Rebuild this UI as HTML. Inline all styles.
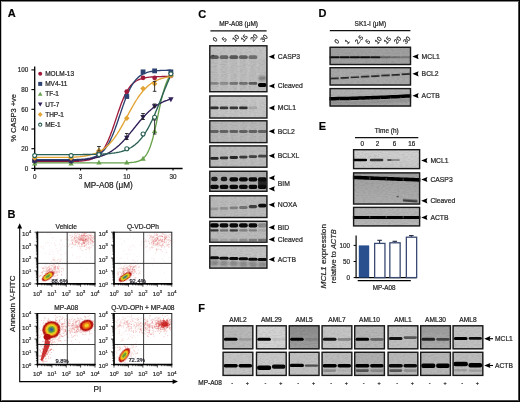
<!DOCTYPE html>
<html><head><meta charset="utf-8"><style>
html,body{margin:0;padding:0;background:#fff;}
body{width:520px;height:402px;position:relative;overflow:hidden;font-family:"Liberation Sans",sans-serif;}
svg{position:absolute;left:0;top:0;}
svg text{font-family:"Liberation Sans",sans-serif;stroke:#2a2a2a;stroke-width:0.22px;}
#main{filter:blur(0.3px);}
#frame{position:absolute;left:0;top:0;width:520px;height:402px;box-sizing:border-box;border:1px solid #000;}
#frame2{position:absolute;left:1px;top:1px;width:518px;height:400px;box-sizing:border-box;border-style:solid;border-width:1px;border-color:#808080 #4a4a4a #4a4a4a #c4c4c4;}
</style></head><body>
<svg id="main" width="520" height="402" viewBox="0 0 520 402">
<defs>
<filter id="b1" filterUnits="userSpaceOnUse" x="-600" y="-600" width="1800" height="1800"><feGaussianBlur stdDeviation="0.7"/></filter>
<filter id="nz" filterUnits="userSpaceOnUse" x="0" y="0" width="520" height="402"><feTurbulence type="fractalNoise" baseFrequency="0.35 0.9" numOctaves="2" seed="4"/><feColorMatrix type="matrix" values="0 0 0 0 0  0 0 0 0 0  0 0 0 0 0  0 0 0 -1.6 1.0"/></filter>
<filter id="b2" filterUnits="userSpaceOnUse" x="-600" y="-600" width="1800" height="1800"><feGaussianBlur stdDeviation="1.2"/></filter>
</defs>
<text x="7.80" y="17.00" font-size="11" text-anchor="start" font-weight="bold" fill="#000" >A</text>
<text x="7.60" y="218.00" font-size="11" text-anchor="start" font-weight="bold" fill="#000" >B</text>
<text x="198.20" y="17.60" font-size="11" text-anchor="start" font-weight="bold" fill="#000" >C</text>
<text x="318.60" y="17.30" font-size="11" text-anchor="start" font-weight="bold" fill="#000" >D</text>
<text x="318.80" y="130.00" font-size="11" text-anchor="start" font-weight="bold" fill="#000" >E</text>
<text x="198.20" y="312.00" font-size="11" text-anchor="start" font-weight="bold" fill="#000" >F</text>
<line x1="34.7" y1="66.5" x2="34.7" y2="171" stroke="#000" stroke-width="1.3"/>
<line x1="34.1" y1="168.4" x2="182.6" y2="168.4" stroke="#000" stroke-width="1.5"/>
<line x1="31.4" y1="168.40" x2="34.7" y2="168.40" stroke="#000" stroke-width="1.1"/>
<text x="28.30" y="170.60" font-size="6.3" text-anchor="end" font-weight="normal" fill="#333" >0</text>
<line x1="31.4" y1="148.70" x2="34.7" y2="148.70" stroke="#000" stroke-width="1.1"/>
<text x="28.30" y="150.90" font-size="6.3" text-anchor="end" font-weight="normal" fill="#333" >20</text>
<line x1="31.4" y1="129.00" x2="34.7" y2="129.00" stroke="#000" stroke-width="1.1"/>
<text x="28.30" y="131.20" font-size="6.3" text-anchor="end" font-weight="normal" fill="#333" >40</text>
<line x1="31.4" y1="109.30" x2="34.7" y2="109.30" stroke="#000" stroke-width="1.1"/>
<text x="28.30" y="111.50" font-size="6.3" text-anchor="end" font-weight="normal" fill="#333" >60</text>
<line x1="31.4" y1="89.60" x2="34.7" y2="89.60" stroke="#000" stroke-width="1.1"/>
<text x="28.30" y="91.80" font-size="6.3" text-anchor="end" font-weight="normal" fill="#333" >80</text>
<line x1="31.4" y1="69.90" x2="34.7" y2="69.90" stroke="#000" stroke-width="1.1"/>
<text x="28.30" y="72.10" font-size="6.3" text-anchor="end" font-weight="normal" fill="#333" >100</text>
<line x1="80.54" y1="168.4" x2="80.54" y2="170.5" stroke="#000" stroke-width="1.1"/>
<text x="80.54" y="178.80" font-size="6.3" text-anchor="middle" font-weight="normal" fill="#333" >3</text>
<line x1="126.78" y1="168.4" x2="126.78" y2="170.5" stroke="#000" stroke-width="1.1"/>
<text x="126.78" y="178.80" font-size="6.3" text-anchor="middle" font-weight="normal" fill="#333" >10</text>
<line x1="173.02" y1="168.4" x2="173.02" y2="170.5" stroke="#000" stroke-width="1.1"/>
<text x="173.02" y="178.80" font-size="6.3" text-anchor="middle" font-weight="normal" fill="#333" >30</text>
<text x="34.70" y="178.80" font-size="6.3" text-anchor="middle" font-weight="normal" fill="#333" >0</text>
<text x="108.40" y="188.40" font-size="8.2" text-anchor="middle" font-weight="normal" fill="#222" >MP-A08 (&#956;M)</text>
<text transform="translate(15.6,117.9) rotate(-90)" font-size="7.5" text-anchor="middle" fill="#222">% CASP3 +ve</text>
<polyline points="34.7,161.5 71.1,161.5 72.1,161.5 73.1,161.4 74.1,161.4 75.1,161.4 76.1,161.3 77.1,161.3 78.1,161.2 79.1,161.2 80.1,161.1 81.1,161.0 82.1,160.9 83.1,160.8 84.1,160.7 85.1,160.6 86.1,160.4 87.1,160.2 88.1,160.0 89.1,159.8 90.1,159.5 91.1,159.2 92.1,158.8 93.1,158.4 94.1,158.0 95.1,157.4 96.1,156.8 97.1,156.1 98.1,155.4 99.1,154.5 100.1,153.5 101.1,152.4 102.1,151.2 103.1,149.8 104.1,148.3 105.1,146.6 106.1,144.7 107.1,142.7 108.1,140.6 109.1,138.2 110.1,135.8 111.1,133.1 112.1,130.4 113.1,127.5 114.1,124.6 115.1,121.6 116.1,118.6 117.1,115.6 118.1,112.6 119.1,109.7 120.1,106.9 121.1,104.1 122.1,101.6 123.1,99.1 124.1,96.8 125.1,94.7 126.1,92.8 127.1,91.0 128.1,89.3 129.1,87.9 130.1,86.5 131.1,85.3 132.1,84.3 133.1,83.3 134.1,82.5 135.1,81.7 136.1,81.0 137.1,80.5 138.1,79.9 139.1,79.5 140.1,79.1 141.1,78.8 142.1,78.5 143.1,78.2 144.1,78.0 145.1,77.8 146.1,77.6 147.1,77.4 148.1,77.3 149.1,77.2 150.1,77.1 151.1,77.0 152.1,76.9 153.1,76.8 154.1,76.8 155.1,76.7 156.1,76.7 157.1,76.7 158.1,76.6 159.1,76.6 160.1,76.6 161.1,76.6 162.1,76.5 163.1,76.5 164.1,76.5 165.1,76.5 166.1,76.5 167.1,76.5 168.1,76.5 169.1,76.5 170.1,76.4 170.9,76.4" fill="none" stroke="#a01a3a" stroke-width="1.35" stroke-linejoin="round"/>
<polyline points="34.7,159.7 71.1,159.7 72.1,159.7 73.1,159.7 74.1,159.6 75.1,159.6 76.1,159.6 77.1,159.5 78.1,159.5 79.1,159.4 80.1,159.4 81.1,159.3 82.1,159.2 83.1,159.2 84.1,159.1 85.1,159.0 86.1,158.8 87.1,158.7 88.1,158.5 89.1,158.4 90.1,158.2 91.1,157.9 92.1,157.7 93.1,157.3 94.1,157.0 95.1,156.6 96.1,156.2 97.1,155.7 98.1,155.1 99.1,154.5 100.1,153.8 101.1,153.0 102.1,152.1 103.1,151.1 104.1,150.0 105.1,148.8 106.1,147.4 107.1,146.0 108.1,144.3 109.1,142.6 110.1,140.6 111.1,138.5 112.1,136.3 113.1,133.9 114.1,131.4 115.1,128.8 116.1,126.0 117.1,123.2 118.1,120.3 119.1,117.3 120.1,114.4 121.1,111.4 122.1,108.5 123.1,105.6 124.1,102.8 125.1,100.1 126.1,97.5 127.1,95.0 128.1,92.7 129.1,90.5 130.1,88.5 131.1,86.6 132.1,84.9 133.1,83.4 134.1,81.9 135.1,80.6 136.1,79.4 137.1,78.4 138.1,77.4 139.1,76.6 140.1,75.8 141.1,75.2 142.1,74.6 143.1,74.0 144.1,73.5 145.1,73.1 146.1,72.8 147.1,72.4 148.1,72.1 149.1,71.9 150.1,71.7 151.1,71.5 152.1,71.3 153.1,71.2 154.1,71.0 155.1,70.9 156.1,70.8 157.1,70.7 158.1,70.6 159.1,70.6 160.1,70.5 161.1,70.4 162.1,70.4 163.1,70.4 164.1,70.3 165.1,70.3 166.1,70.3 167.1,70.2 168.1,70.2 169.1,70.2 170.1,70.2 170.9,70.2" fill="none" stroke="#2c4270" stroke-width="1.35" stroke-linejoin="round"/>
<polyline points="34.7,162.9 71.1,162.9 72.1,162.9 73.1,162.9 74.1,162.9 75.1,162.9 76.1,162.9 77.1,162.9 78.1,162.9 79.1,162.9 80.1,162.9 81.1,162.9 82.1,162.9 83.1,162.9 84.1,162.9 85.1,162.9 86.1,162.9 87.1,162.9 88.1,162.9 89.1,162.9 90.1,162.9 91.1,162.9 92.1,162.9 93.1,162.9 94.1,162.9 95.1,162.9 96.1,162.9 97.1,162.9 98.1,162.9 99.1,162.9 100.1,162.9 101.1,162.9 102.1,162.9 103.1,162.9 104.1,162.9 105.1,162.9 106.1,162.9 107.1,162.9 108.1,162.9 109.1,162.9 110.1,162.9 111.1,162.9 112.1,162.9 113.1,162.9 114.1,162.9 115.1,162.9 116.1,162.9 117.1,162.9 118.1,162.9 119.1,162.8 120.1,162.8 121.1,162.8 122.1,162.8 123.1,162.8 124.1,162.8 125.1,162.8 126.1,162.7 127.1,162.7 128.1,162.7 129.1,162.6 130.1,162.6 131.1,162.5 132.1,162.4 133.1,162.3 134.1,162.2 135.1,162.0 136.1,161.8 137.1,161.5 138.1,161.3 139.1,160.9 140.1,160.5 141.1,159.9 142.1,159.3 143.1,158.5 144.1,157.6 145.1,156.4 146.1,155.1 147.1,153.5 148.1,151.6 149.1,149.5 150.1,146.9 151.1,144.1 152.1,140.8 153.1,137.2 154.1,133.2 155.1,128.9 156.1,124.3 157.1,119.6 158.1,114.8 159.1,110.0 160.1,105.3 161.1,100.9 162.1,96.7 163.1,92.9 164.1,89.4 165.1,86.3 166.1,83.5 167.1,81.1 168.1,79.1 169.1,77.3 170.1,75.8 170.9,74.8" fill="none" stroke="#68a24c" stroke-width="1.35" stroke-linejoin="round"/>
<polyline points="34.7,160.6 71.1,160.6 72.1,160.6 73.1,160.5 74.1,160.5 75.1,160.4 76.1,160.4 77.1,160.3 78.1,160.2 79.1,160.2 80.1,160.1 81.1,160.0 82.1,159.9 83.1,159.8 84.1,159.7 85.1,159.6 86.1,159.5 87.1,159.4 88.1,159.2 89.1,159.1 90.1,158.9 91.1,158.7 92.1,158.5 93.1,158.4 94.1,158.1 95.1,157.9 96.1,157.7 97.1,157.4 98.1,157.1 99.1,156.8 100.1,156.5 101.1,156.2 102.1,155.8 103.1,155.4 104.1,155.0 105.1,154.6 106.1,154.1 107.1,153.6 108.1,153.1 109.1,152.6 110.1,152.0 111.1,151.4 112.1,150.7 113.1,150.0 114.1,149.3 115.1,148.6 116.1,147.8 117.1,146.9 118.1,146.1 119.1,145.2 120.1,144.2 121.1,143.3 122.1,142.3 123.1,141.2 124.1,140.1 125.1,139.0 126.1,137.9 127.1,136.8 128.1,135.6 129.1,134.4 130.1,133.2 131.1,131.9 132.1,130.7 133.1,129.5 134.1,128.2 135.1,127.0 136.1,125.7 137.1,124.5 138.1,123.3 139.1,122.0 140.1,120.8 141.1,119.7 142.1,118.5 143.1,117.4 144.1,116.3 145.1,115.2 146.1,114.2 147.1,113.2 148.1,112.2 149.1,111.3 150.1,110.4 151.1,109.5 152.1,108.7 153.1,107.9 154.1,107.1 155.1,106.4 156.1,105.7 157.1,105.1 158.1,104.5 159.1,103.9 160.1,103.3 161.1,102.8 162.1,102.3 163.1,101.9 164.1,101.4 165.1,101.0 166.1,100.6 167.1,100.3 168.1,99.9 169.1,99.6 170.1,99.3 170.9,99.1" fill="none" stroke="#31205a" stroke-width="1.35" stroke-linejoin="round"/>
<polyline points="34.7,157.3 71.1,157.3 72.1,157.3 73.1,157.2 74.1,157.1 75.1,157.1 76.1,157.0 77.1,156.9 78.1,156.8 79.1,156.8 80.1,156.7 81.1,156.5 82.1,156.4 83.1,156.3 84.1,156.2 85.1,156.0 86.1,155.8 87.1,155.6 88.1,155.4 89.1,155.2 90.1,155.0 91.1,154.7 92.1,154.5 93.1,154.1 94.1,153.8 95.1,153.5 96.1,153.1 97.1,152.6 98.1,152.2 99.1,151.7 100.1,151.2 101.1,150.6 102.1,150.0 103.1,149.3 104.1,148.6 105.1,147.8 106.1,147.0 107.1,146.1 108.1,145.2 109.1,144.2 110.1,143.1 111.1,142.0 112.1,140.8 113.1,139.6 114.1,138.3 115.1,136.9 116.1,135.5 117.1,134.0 118.1,132.4 119.1,130.8 120.1,129.1 121.1,127.4 122.1,125.6 123.1,123.8 124.1,122.0 125.1,120.2 126.1,118.3 127.1,116.5 128.1,114.6 129.1,112.7 130.1,110.9 131.1,109.1 132.1,107.3 133.1,105.5 134.1,103.8 135.1,102.1 136.1,100.5 137.1,99.0 138.1,97.4 139.1,96.0 140.1,94.6 141.1,93.3 142.1,92.0 143.1,90.9 144.1,89.7 145.1,88.7 146.1,87.7 147.1,86.7 148.1,85.9 149.1,85.0 150.1,84.3 151.1,83.5 152.1,82.9 153.1,82.3 154.1,81.7 155.1,81.1 156.1,80.7 157.1,80.2 158.1,79.8 159.1,79.4 160.1,79.0 161.1,78.7 162.1,78.4 163.1,78.1 164.1,77.8 165.1,77.6 166.1,77.4 167.1,77.2 168.1,77.0 169.1,76.8 170.1,76.7 170.9,76.6" fill="none" stroke="#e3a433" stroke-width="1.35" stroke-linejoin="round"/>
<polyline points="34.7,154.6 71.1,154.6 72.1,154.6 73.1,154.6 74.1,154.6 75.1,154.6 76.1,154.6 77.1,154.6 78.1,154.6 79.1,154.6 80.1,154.6 81.1,154.6 82.1,154.6 83.1,154.5 84.1,154.5 85.1,154.5 86.1,154.5 87.1,154.5 88.1,154.5 89.1,154.5 90.1,154.4 91.1,154.4 92.1,154.4 93.1,154.4 94.1,154.4 95.1,154.3 96.1,154.3 97.1,154.3 98.1,154.2 99.1,154.2 100.1,154.2 101.1,154.1 102.1,154.1 103.1,154.0 104.1,154.0 105.1,153.9 106.1,153.8 107.1,153.7 108.1,153.7 109.1,153.6 110.1,153.5 111.1,153.4 112.1,153.2 113.1,153.1 114.1,153.0 115.1,152.8 116.1,152.7 117.1,152.5 118.1,152.3 119.1,152.1 120.1,151.8 121.1,151.6 122.1,151.3 123.1,151.0 124.1,150.7 125.1,150.3 126.1,149.9 127.1,149.5 128.1,149.1 129.1,148.6 130.1,148.0 131.1,147.5 132.1,146.8 133.1,146.2 134.1,145.4 135.1,144.7 136.1,143.8 137.1,142.9 138.1,142.0 139.1,140.9 140.1,139.8 141.1,138.6 142.1,137.4 143.1,136.0 144.1,134.6 145.1,133.1 146.1,131.5 147.1,129.8 148.1,128.1 149.1,126.2 150.1,124.3 151.1,122.2 152.1,120.2 153.1,118.0 154.1,115.7 155.1,113.4 156.1,111.1 157.1,108.7 158.1,106.2 159.1,103.7 160.1,101.2 161.1,98.7 162.1,96.1 163.1,93.6 164.1,91.1 165.1,88.6 166.1,86.2 167.1,83.7 168.1,81.4 169.1,79.1 170.1,76.9 170.9,75.1" fill="none" stroke="#2a6055" stroke-width="1.35" stroke-linejoin="round"/>
<circle cx="34.70" cy="161.50" r="2.4" fill="#a01a3a"/>
<circle cx="71.10" cy="161.50" r="2.4" fill="#a01a3a"/>
<circle cx="98.94" cy="154.61" r="2.4" fill="#a01a3a"/>
<circle cx="126.78" cy="91.57" r="2.4" fill="#a01a3a"/>
<circle cx="143.06" cy="77.78" r="2.4" fill="#a01a3a"/>
<circle cx="154.62" cy="77.78" r="2.4" fill="#a01a3a"/>
<circle cx="170.90" cy="75.81" r="2.4" fill="#a01a3a"/>
<rect x="32.30" y="158.12" width="4.8" height="4.8" fill="#2c4270"/>
<rect x="68.70" y="158.12" width="4.8" height="4.8" fill="#2c4270"/>
<rect x="96.54" y="151.22" width="4.8" height="4.8" fill="#2c4270"/>
<rect x="124.38" y="94.09" width="4.8" height="4.8" fill="#2c4270"/>
<rect x="140.66" y="69.47" width="4.8" height="4.8" fill="#2c4270"/>
<rect x="152.22" y="68.48" width="4.8" height="4.8" fill="#2c4270"/>
<rect x="168.50" y="69.47" width="4.8" height="4.8" fill="#2c4270"/>
<path d="M34.70,160.77 L37.40,165.57 L32.00,165.57Z" fill="#68a24c"/>
<path d="M71.10,160.77 L73.80,165.57 L68.40,165.57Z" fill="#68a24c"/>
<path d="M98.94,159.79 L101.64,164.59 L96.24,164.59Z" fill="#68a24c"/>
<path d="M126.78,159.79 L129.48,164.59 L124.08,164.59Z" fill="#68a24c"/>
<path d="M143.06,155.85 L145.76,160.65 L140.36,160.65Z" fill="#68a24c"/>
<path d="M154.62,128.27 L157.32,133.07 L151.92,133.07Z" fill="#68a24c"/>
<path d="M170.90,72.12 L173.60,76.93 L168.20,76.93Z" fill="#68a24c"/>
<path d="M34.70,164.21 L37.40,159.41 L32.00,159.41Z" fill="#31205a"/>
<path d="M71.10,164.21 L73.80,159.41 L68.40,159.41Z" fill="#31205a"/>
<path d="M98.94,158.30 L101.64,153.50 L96.24,153.50Z" fill="#31205a"/>
<path d="M126.78,140.57 L129.48,135.77 L124.08,135.77Z" fill="#31205a"/>
<path d="M143.06,119.88 L145.76,115.08 L140.36,115.08Z" fill="#31205a"/>
<path d="M154.62,109.05 L157.32,104.24 L151.92,104.24Z" fill="#31205a"/>
<path d="M170.90,102.15 L173.60,97.35 L168.20,97.35Z" fill="#31205a"/>
<path d="M34.70,155.26 L37.50,158.06 L34.70,160.86 L31.90,158.06Z" fill="#e3a433"/>
<path d="M71.10,155.26 L73.90,158.06 L71.10,160.86 L68.30,158.06Z" fill="#e3a433"/>
<path d="M98.94,147.87 L101.74,150.67 L98.94,153.47 L96.14,150.67Z" fill="#e3a433"/>
<path d="M126.78,115.36 L129.58,118.17 L126.78,120.97 L123.98,118.17Z" fill="#e3a433"/>
<path d="M143.06,85.81 L145.86,88.62 L143.06,91.42 L140.26,88.62Z" fill="#e3a433"/>
<path d="M154.62,80.89 L157.42,83.69 L154.62,86.49 L151.82,83.69Z" fill="#e3a433"/>
<path d="M170.90,73.01 L173.70,75.81 L170.90,78.61 L168.10,75.81Z" fill="#e3a433"/>
<circle cx="34.70" cy="155.59" r="2.0" fill="#fff" stroke="#2a6055" stroke-width="1.1"/>
<circle cx="71.10" cy="155.59" r="2.0" fill="#fff" stroke="#2a6055" stroke-width="1.1"/>
<circle cx="98.94" cy="154.61" r="2.0" fill="#fff" stroke="#2a6055" stroke-width="1.1"/>
<circle cx="126.78" cy="148.70" r="2.0" fill="#fff" stroke="#2a6055" stroke-width="1.1"/>
<circle cx="143.06" cy="133.93" r="2.0" fill="#fff" stroke="#2a6055" stroke-width="1.1"/>
<circle cx="154.62" cy="117.18" r="2.0" fill="#fff" stroke="#2a6055" stroke-width="1.1"/>
<circle cx="170.90" cy="73.84" r="2.0" fill="#fff" stroke="#2a6055" stroke-width="1.1"/>
<line x1="98.94" y1="146.5" x2="98.94" y2="151" stroke="#222" stroke-width="0.9"/>
<line x1="97.14" y1="146.5" x2="100.74" y2="146.5" stroke="#222" stroke-width="0.9"/>
<line x1="97.14" y1="151" x2="100.74" y2="151" stroke="#222" stroke-width="0.9"/>
<line x1="154.62" y1="81.4" x2="154.62" y2="91.3" stroke="#222" stroke-width="0.9"/>
<line x1="152.82" y1="81.4" x2="156.42" y2="81.4" stroke="#222" stroke-width="0.9"/>
<line x1="152.82" y1="91.3" x2="156.42" y2="91.3" stroke="#222" stroke-width="0.9"/>
<line x1="154.62" y1="120" x2="154.62" y2="134" stroke="#222" stroke-width="0.9"/>
<line x1="152.82" y1="120" x2="156.42" y2="120" stroke="#222" stroke-width="0.9"/>
<line x1="152.82" y1="134" x2="156.42" y2="134" stroke="#222" stroke-width="0.9"/>
<line x1="143.06" y1="113.5" x2="143.06" y2="119.5" stroke="#222" stroke-width="0.9"/>
<line x1="141.26" y1="113.5" x2="144.86" y2="113.5" stroke="#222" stroke-width="0.9"/>
<line x1="141.26" y1="119.5" x2="144.86" y2="119.5" stroke="#222" stroke-width="0.9"/>
<line x1="126.78" y1="133.5" x2="126.78" y2="139.5" stroke="#222" stroke-width="0.9"/>
<line x1="124.98" y1="133.5" x2="128.58" y2="133.5" stroke="#222" stroke-width="0.9"/>
<line x1="124.98" y1="139.5" x2="128.58" y2="139.5" stroke="#222" stroke-width="0.9"/>
<line x1="154.62" y1="104" x2="154.62" y2="107" stroke="#222" stroke-width="0.9"/>
<line x1="152.82" y1="104" x2="156.42" y2="104" stroke="#222" stroke-width="0.9"/>
<line x1="152.82" y1="107" x2="156.42" y2="107" stroke="#222" stroke-width="0.9"/>
<circle cx="40.20" cy="73.70" r="2.0" fill="#a01a3a"/>
<text x="45.20" y="76.00" font-size="6.5" text-anchor="start" font-weight="normal" fill="#222" >MOLM-13</text>
<rect x="38.20" y="81.90" width="4.0" height="4.0" fill="#2c4270"/>
<text x="45.20" y="86.20" font-size="6.5" text-anchor="start" font-weight="normal" fill="#222" >MV4-11</text>
<path d="M40.20,91.80 L42.50,95.80 L37.90,95.80Z" fill="#68a24c"/>
<text x="45.20" y="96.40" font-size="6.5" text-anchor="start" font-weight="normal" fill="#222" >TF-1</text>
<path d="M40.20,106.60 L42.50,102.60 L37.90,102.60Z" fill="#31205a"/>
<text x="45.20" y="106.60" font-size="6.5" text-anchor="start" font-weight="normal" fill="#222" >UT-7</text>
<path d="M40.20,112.10 L42.60,114.50 L40.20,116.90 L37.80,114.50Z" fill="#e3a433"/>
<text x="45.20" y="116.80" font-size="6.5" text-anchor="start" font-weight="normal" fill="#222" >THP-1</text>
<circle cx="40.20" cy="124.70" r="1.6" fill="#fff" stroke="#2a6055" stroke-width="1.1"/>
<text x="45.20" y="127.00" font-size="6.5" text-anchor="start" font-weight="normal" fill="#222" >ME-1</text>
<clipPath id="cp37232"><rect x="37.5" y="232.2" width="57.5" height="51.60000000000002"/></clipPath>
<g clip-path="url(#cp37232)">
<path d="M84.1 241.2h.1M81.8 236.4h.1M80.5 236.1h.1M84.9 245.6h.1M80.3 237.7h.1M87.5 241.2h.1M84.4 236.0h.1M84.1 242.9h.1M74.5 238.9h.1M70.3 235.8h.1M71.1 240.1h.1M75.3 241.9h.1M85.0 239.1h.1M66.3 239.3h.1M83.7 240.5h.1M73.2 238.9h.1M76.9 237.2h.1M91.1 236.0h.1M84.1 243.7h.1M79.9 239.9h.1M84.8 240.2h.1M75.5 241.1h.1M92.9 232.7h.1M90.0 240.0h.1M80.3 248.8h.1M88.9 234.5h.1M84.7 242.4h.1M82.9 243.0h.1M83.8 242.8h.1M93.8 236.3h.1M85.2 237.9h.1M84.5 235.0h.1M79.9 239.5h.1M90.7 244.2h.1M74.5 237.5h.1M87.8 231.3h.1M80.7 239.9h.1M93.0 242.1h.1M81.6 238.7h.1M82.8 246.5h.1M80.9 239.0h.1M86.4 239.3h.1M82.2 235.5h.1M83.8 238.2h.1M92.4 242.0h.1M84.1 242.8h.1M82.0 244.6h.1M84.2 242.4h.1M75.1 242.2h.1M71.5 232.5h.1M81.5 236.4h.1M86.0 249.3h.1M78.0 237.9h.1M85.6 241.9h.1M82.7 239.2h.1M89.1 241.7h.1M76.8 240.3h.1M83.9 235.6h.1M85.5 236.3h.1M90.8 240.2h.1M84.4 237.5h.1M82.4 231.7h.1M76.2 242.2h.1M69.5 244.8h.1M72.1 244.2h.1M78.4 243.8h.1M84.4 233.5h.1M93.2 245.3h.1M83.4 238.9h.1M82.5 236.0h.1M91.5 237.1h.1M83.4 236.7h.1M79.2 235.0h.1M92.7 238.6h.1M90.7 239.5h.1M79.0 239.1h.1M80.1 240.4h.1M81.3 239.0h.1M74.1 237.5h.1M95.3 236.2h.1M76.8 242.1h.1M93.3 233.1h.1M82.3 237.5h.1M72.0 244.1h.1M83.9 240.3h.1M78.9 242.4h.1M80.2 239.7h.1M75.8 235.6h.1M93.1 237.1h.1M86.0 239.7h.1M80.7 238.1h.1M88.3 238.4h.1M83.0 240.2h.1M92.5 242.1h.1M86.5 237.4h.1M74.7 244.8h.1M90.7 238.8h.1M88.1 242.9h.1M90.1 243.3h.1M81.4 246.6h.1M75.6 244.4h.1M87.8 243.4h.1M97.6 245.1h.1M75.4 233.6h.1M89.3 235.3h.1M84.2 243.5h.1M71.8 232.2h.1M85.8 240.0h.1M82.3 240.3h.1M77.4 234.2h.1M82.5 236.0h.1M72.7 243.1h.1M83.7 241.7h.1M76.9 237.9h.1M76.7 236.9h.1M85.1 236.6h.1M86.6 241.2h.1M97.6 232.9h.1M90.2 239.1h.1M83.4 233.9h.1M81.1 243.4h.1M83.5 240.4h.1M82.4 245.0h.1M83.0 230.8h.1M78.5 232.2h.1M61.1 239.8h.1" stroke="#d23a3a" stroke-opacity="0.26" stroke-width="1.0" stroke-linecap="round" fill="none"/>
<path d="M93.3 239.4h.1M75.5 236.8h.1M91.9 240.0h.1M84.3 239.7h.1M84.6 243.3h.1M87.9 240.6h.1M76.9 242.8h.1M79.6 245.0h.1M75.1 240.2h.1M83.5 234.5h.1M96.5 245.1h.1M81.0 243.5h.1M85.7 228.8h.1M85.7 239.6h.1M84.2 235.4h.1M82.1 239.4h.1M92.4 240.7h.1M84.5 246.4h.1M80.0 238.7h.1M71.9 247.7h.1M91.1 243.2h.1M88.7 240.1h.1M85.4 238.8h.1M82.6 240.4h.1M94.7 241.4h.1M83.4 237.6h.1M80.2 247.1h.1M87.6 240.0h.1M81.2 235.6h.1M83.9 243.7h.1M81.2 239.3h.1M82.5 240.6h.1M72.8 240.0h.1M78.4 244.2h.1M78.8 242.9h.1M94.5 237.8h.1M79.9 241.2h.1M83.6 235.8h.1M88.0 248.2h.1M82.1 239.3h.1M76.8 242.0h.1M74.9 236.1h.1M92.6 235.4h.1M92.1 245.7h.1M86.0 242.2h.1M97.5 238.0h.1M79.4 234.7h.1M84.8 246.2h.1M90.3 235.5h.1M77.9 238.4h.1M86.0 239.0h.1M85.6 241.1h.1M81.9 240.0h.1M85.4 239.5h.1M88.2 247.5h.1M88.1 239.9h.1M72.4 242.7h.1M69.9 235.3h.1M90.2 242.4h.1M82.3 232.9h.1M81.2 237.4h.1M89.3 249.1h.1M85.2 236.6h.1M75.8 240.5h.1M82.3 235.3h.1M84.4 235.1h.1M92.1 243.8h.1M91.4 237.4h.1M87.5 239.1h.1M81.2 238.8h.1M74.4 234.8h.1M89.5 238.7h.1M85.9 244.1h.1M71.6 237.8h.1M85.4 241.5h.1M81.7 244.5h.1M85.0 234.8h.1M77.8 243.9h.1M86.5 231.8h.1M93.6 241.7h.1M93.2 237.6h.1M81.5 235.5h.1M101.6 237.7h.1M94.8 236.3h.1M84.5 232.9h.1M81.7 244.3h.1M75.7 245.2h.1M86.0 235.4h.1M80.3 238.4h.1M83.5 237.8h.1M78.1 239.2h.1M76.4 235.2h.1M84.0 243.7h.1M73.3 240.9h.1M79.1 236.3h.1M89.8 237.3h.1M94.2 235.8h.1M86.6 238.8h.1M79.0 242.9h.1M83.1 242.6h.1M83.3 235.5h.1M83.3 240.3h.1M90.4 235.6h.1M83.1 232.8h.1M88.1 235.1h.1M71.4 240.9h.1M91.2 232.9h.1M76.1 237.6h.1M76.3 242.3h.1M78.1 237.5h.1M87.8 236.5h.1M86.7 235.7h.1M74.9 233.1h.1M96.9 237.5h.1M85.7 239.7h.1M85.1 240.1h.1M96.9 234.5h.1M72.8 236.7h.1M75.0 243.9h.1M89.4 235.5h.1M74.2 239.4h.1M92.7 227.4h.1M87.3 235.2h.1M90.9 234.9h.1M81.5 233.9h.1M77.7 246.4h.1" stroke="#d23a3a" stroke-opacity="0.26" stroke-width="1.0" stroke-linecap="round" fill="none"/>
<path d="M89.6 237.8h.1M77.2 232.6h.1M81.2 240.1h.1M83.4 239.7h.1M76.2 240.4h.1M84.2 245.4h.1M97.0 238.3h.1M78.6 240.2h.1M79.5 237.3h.1M83.2 235.7h.1M88.2 239.2h.1M85.7 239.1h.1M78.6 236.5h.1M82.1 237.8h.1M85.6 239.8h.1M74.5 241.1h.1M74.4 238.2h.1M81.2 231.5h.1M84.7 240.6h.1M82.7 238.3h.1M81.0 236.1h.1M81.9 237.9h.1M84.2 234.9h.1M85.7 240.5h.1M82.9 238.2h.1M87.2 232.7h.1M87.3 240.7h.1M86.1 241.4h.1M79.3 239.3h.1M88.6 241.4h.1M84.9 233.5h.1M88.2 244.6h.1M91.1 240.4h.1M73.5 244.9h.1M82.0 229.5h.1M86.1 233.5h.1M74.7 238.1h.1M92.7 237.7h.1M86.5 247.1h.1M95.1 238.6h.1M81.9 234.9h.1M79.3 242.2h.1M86.8 240.2h.1M90.7 236.2h.1M83.9 243.1h.1M88.5 244.1h.1M86.7 238.5h.1M86.2 235.6h.1M72.8 243.4h.1M83.7 241.3h.1M72.0 239.5h.1M79.5 236.8h.1M68.2 240.0h.1M90.4 241.0h.1M79.8 240.3h.1M88.3 228.0h.1M83.3 242.3h.1M89.4 246.7h.1M92.0 240.6h.1M86.4 243.1h.1M80.2 240.2h.1M91.0 247.6h.1M82.9 239.9h.1M85.9 245.5h.1M84.3 246.2h.1M77.2 239.8h.1M82.9 243.4h.1M90.7 233.0h.1M77.7 242.0h.1M78.8 234.0h.1M91.4 241.4h.1M87.3 237.7h.1M91.1 238.4h.1M91.3 235.5h.1M78.1 241.4h.1M79.3 243.3h.1M85.5 236.0h.1M84.4 238.5h.1M90.2 236.8h.1M81.4 245.3h.1M100.3 247.0h.1M84.5 240.9h.1M94.6 238.5h.1M77.2 241.1h.1M86.8 236.3h.1M72.0 235.0h.1M88.4 236.4h.1M83.1 241.0h.1M88.2 238.2h.1M87.2 236.0h.1M81.1 235.9h.1M91.9 239.2h.1M78.7 239.0h.1M82.7 243.1h.1M72.5 236.6h.1M82.3 250.8h.1M90.6 239.0h.1M89.7 248.2h.1M82.2 238.6h.1M92.6 241.3h.1M88.5 237.5h.1M98.0 246.0h.1M88.2 242.5h.1M70.1 243.9h.1M82.8 241.9h.1M88.6 238.2h.1M72.3 242.6h.1M78.7 239.1h.1M79.7 238.9h.1M68.3 246.5h.1M86.2 244.5h.1M97.8 238.9h.1M71.1 237.4h.1M75.4 238.6h.1M83.8 231.6h.1M85.8 233.5h.1M86.0 239.4h.1M81.8 239.9h.1M80.0 237.8h.1M72.3 240.9h.1M97.6 247.2h.1M93.5 242.1h.1M79.8 246.4h.1M83.6 239.7h.1M82.0 240.6h.1M80.9 239.9h.1" stroke="#d23a3a" stroke-opacity="0.26" stroke-width="1.0" stroke-linecap="round" fill="none"/>
<path d="M76.3 239.1h.1M99.9 238.3h.1" stroke="#d23a3a" stroke-opacity="0.26" stroke-width="1.0" stroke-linecap="round" fill="none"/>
<path d="M53.1 254.3h.1M60.7 241.1h.1M53.3 257.3h.1M57.2 251.0h.1M67.4 244.6h.1M55.7 245.8h.1M66.9 234.4h.1M49.6 245.8h.1M60.3 254.9h.1M66.2 237.4h.1M61.0 247.7h.1M49.7 254.3h.1M47.6 233.4h.1M52.0 238.0h.1M49.8 253.0h.1M57.5 262.7h.1" stroke="#d23a3a" stroke-opacity="0.12" stroke-width="1.0" stroke-linecap="round" fill="none"/>
<path d="M53.4 237.7h.1M49.0 242.6h.1M45.3 253.5h.1M49.8 234.2h.1M60.6 249.1h.1M57.9 250.8h.1M60.1 250.3h.1M64.9 253.4h.1M58.1 253.3h.1M43.3 248.7h.1M52.9 251.7h.1M44.1 263.1h.1M55.8 240.3h.1M41.3 247.7h.1M54.3 244.3h.1M55.7 244.9h.1" stroke="#d23a3a" stroke-opacity="0.12" stroke-width="1.0" stroke-linecap="round" fill="none"/>
<path d="M59.4 244.2h.1M54.7 257.8h.1M75.6 241.9h.1M51.3 243.3h.1M61.3 240.8h.1M51.1 249.8h.1M47.2 242.3h.1M51.2 233.2h.1M43.4 246.7h.1M56.2 248.5h.1M40.8 246.3h.1M61.4 254.4h.1M54.4 242.9h.1M60.0 245.4h.1M45.6 243.6h.1M66.6 251.8h.1" stroke="#d23a3a" stroke-opacity="0.12" stroke-width="1.0" stroke-linecap="round" fill="none"/>
<path d="M64.3 246.2h.1M62.5 245.2h.1" stroke="#d23a3a" stroke-opacity="0.12" stroke-width="1.0" stroke-linecap="round" fill="none"/>
<path d="M78.7 270.9h.1M86.1 253.0h.1M79.3 258.0h.1M89.7 253.1h.1M66.1 254.3h.1M80.1 256.7h.1" stroke="#d23a3a" stroke-opacity="0.1" stroke-width="1.0" stroke-linecap="round" fill="none"/>
<path d="M90.5 257.9h.1M86.5 249.4h.1M86.9 268.6h.1M86.2 257.5h.1M81.2 266.7h.1M72.6 255.3h.1" stroke="#d23a3a" stroke-opacity="0.1" stroke-width="1.0" stroke-linecap="round" fill="none"/>
<path d="M83.7 260.5h.1M76.5 257.8h.1M77.8 256.7h.1M78.9 249.2h.1M79.8 261.3h.1M72.3 254.6h.1" stroke="#d23a3a" stroke-opacity="0.1" stroke-width="1.0" stroke-linecap="round" fill="none"/>
<path d="M85.3 249.6h.1M81.5 249.6h.1" stroke="#d23a3a" stroke-opacity="0.1" stroke-width="1.0" stroke-linecap="round" fill="none"/>
<path d="M61.5 274.4h.1M60.1 263.9h.1M54.8 269.6h.1M54.9 276.0h.1M47.1 279.9h.1M53.9 276.2h.1M50.4 269.4h.1M53.9 273.1h.1M52.3 273.3h.1M43.8 267.9h.1M56.8 270.7h.1M51.9 271.6h.1M54.9 266.9h.1M47.2 274.1h.1M53.5 263.7h.1M55.2 265.8h.1M48.6 279.6h.1M47.7 268.7h.1M51.4 276.0h.1M55.7 266.4h.1M54.5 272.5h.1M48.7 275.4h.1M49.7 270.6h.1M48.8 274.0h.1M49.9 270.3h.1M51.5 276.7h.1M54.0 273.7h.1M58.0 269.2h.1M59.9 261.3h.1M54.1 268.1h.1M63.5 270.0h.1M39.6 276.5h.1M55.9 271.8h.1M54.3 269.1h.1M54.6 272.2h.1M52.9 275.2h.1M41.7 282.1h.1M48.2 278.5h.1M47.9 270.3h.1M50.7 268.0h.1M43.2 270.9h.1M52.0 273.5h.1M55.5 267.8h.1M56.0 268.2h.1M51.8 274.0h.1M55.2 267.1h.1M49.5 272.4h.1M49.4 269.1h.1M55.0 267.1h.1M51.4 268.0h.1M53.6 271.8h.1M53.5 279.3h.1M56.7 275.7h.1M54.1 266.6h.1M50.2 274.6h.1M51.4 271.9h.1M45.6 267.9h.1M45.0 266.5h.1M51.1 268.6h.1M47.1 274.0h.1M49.1 266.9h.1M40.4 275.4h.1M39.2 276.8h.1M56.2 263.1h.1M51.0 265.7h.1M51.7 270.0h.1M52.0 273.8h.1M59.7 266.1h.1M49.4 268.8h.1M53.2 269.1h.1M54.8 268.8h.1M54.8 259.9h.1M51.6 275.6h.1M47.6 271.0h.1M46.7 269.1h.1M57.0 278.5h.1M54.0 264.6h.1M46.0 274.1h.1M53.9 266.0h.1M49.7 277.1h.1M54.3 267.7h.1M42.3 271.7h.1M42.8 268.3h.1M53.1 267.4h.1M57.4 275.5h.1M54.0 264.4h.1" stroke="#d23a3a" stroke-opacity="0.25" stroke-width="1.0" stroke-linecap="round" fill="none"/>
<path d="M57.7 272.1h.1M45.4 272.1h.1M46.9 267.9h.1M52.6 259.7h.1M45.2 275.3h.1M50.3 273.3h.1M51.8 270.4h.1M51.6 261.7h.1M49.4 270.0h.1M52.1 272.1h.1M45.3 273.5h.1M55.5 270.1h.1M52.3 280.3h.1M58.7 259.3h.1M58.0 278.0h.1M55.2 269.7h.1M48.8 271.2h.1M48.8 271.2h.1M53.6 268.1h.1M46.2 270.2h.1M48.8 269.6h.1M52.5 275.6h.1M53.8 272.1h.1M52.8 270.9h.1M49.7 271.6h.1M52.2 266.1h.1M57.4 267.1h.1M46.4 273.4h.1M48.2 275.0h.1M50.1 277.9h.1M42.3 268.4h.1M43.1 269.0h.1M53.2 275.2h.1M51.1 265.8h.1M51.3 279.9h.1M52.5 270.8h.1M61.4 275.1h.1M57.4 267.6h.1M54.0 272.4h.1M45.8 271.3h.1M49.1 269.1h.1M50.9 272.5h.1M60.2 260.9h.1M50.1 272.0h.1M55.4 273.4h.1M46.9 271.5h.1M41.2 275.4h.1M53.6 270.1h.1M45.4 274.7h.1M52.3 273.3h.1M47.6 273.5h.1M39.9 275.5h.1M53.8 259.8h.1M49.9 273.9h.1M47.4 271.1h.1M50.7 272.2h.1M46.5 267.0h.1M48.4 270.1h.1M48.9 274.7h.1M56.0 272.2h.1M50.7 276.5h.1M59.1 270.9h.1M57.2 266.5h.1M52.0 275.0h.1M45.0 277.6h.1M47.7 272.9h.1M40.8 275.9h.1M52.9 274.6h.1M55.5 268.1h.1M48.3 270.3h.1M52.4 269.8h.1M57.7 274.7h.1M47.5 267.9h.1M43.7 271.0h.1M48.2 280.1h.1M48.7 266.9h.1M56.9 273.2h.1M47.8 271.4h.1M50.0 274.1h.1M56.6 273.0h.1M59.4 270.9h.1M58.9 268.8h.1M43.5 277.3h.1M51.6 269.8h.1M54.5 267.6h.1M49.8 279.5h.1" stroke="#d23a3a" stroke-opacity="0.25" stroke-width="1.0" stroke-linecap="round" fill="none"/>
<path d="M54.6 270.2h.1M57.7 271.6h.1M47.2 263.8h.1M46.8 273.2h.1M46.8 276.2h.1M55.6 266.2h.1M50.1 281.9h.1M46.1 270.2h.1M53.1 272.3h.1M49.4 276.8h.1M46.7 271.2h.1M53.6 273.5h.1M48.7 275.3h.1M56.8 280.4h.1M50.7 278.5h.1M50.5 271.8h.1M56.4 271.9h.1M57.7 268.3h.1M47.0 272.7h.1M54.7 271.8h.1M58.5 268.0h.1M59.4 272.4h.1M48.5 267.2h.1M42.2 272.3h.1M56.6 263.7h.1M58.1 269.1h.1M61.3 268.5h.1M50.1 271.8h.1M51.8 272.2h.1M48.4 273.9h.1M54.8 261.2h.1M50.2 268.5h.1M53.7 273.7h.1M52.4 274.4h.1M45.9 281.0h.1M49.5 276.0h.1M46.1 264.0h.1M47.9 275.4h.1M59.0 267.1h.1M49.1 267.0h.1M61.8 271.8h.1M50.6 271.3h.1M45.3 280.5h.1M65.4 264.1h.1M58.2 268.9h.1M49.3 279.4h.1M44.7 276.0h.1M54.3 273.5h.1M53.8 271.6h.1M44.5 271.2h.1M49.7 269.8h.1M42.0 273.2h.1M44.6 268.6h.1M41.0 272.3h.1M52.8 272.5h.1M57.2 260.3h.1M49.8 277.1h.1M49.3 271.9h.1M58.3 264.7h.1M42.6 272.5h.1M53.3 271.6h.1M42.3 274.3h.1M54.8 271.7h.1M49.3 276.1h.1M49.8 264.8h.1M50.4 274.3h.1M43.5 268.0h.1M51.3 275.2h.1M53.6 259.9h.1M60.9 259.1h.1M58.3 272.0h.1M56.0 268.8h.1M46.9 278.1h.1M42.0 267.5h.1M65.9 263.6h.1M57.6 262.7h.1M61.5 271.1h.1M58.3 266.2h.1M44.9 275.9h.1M36.8 275.3h.1M49.2 268.8h.1M50.0 272.3h.1M63.0 268.5h.1M53.5 275.6h.1M46.6 273.9h.1M52.6 265.1h.1" stroke="#d23a3a" stroke-opacity="0.25" stroke-width="1.0" stroke-linecap="round" fill="none"/>
<path d="M46.8 269.3h.1M55.2 276.2h.1" stroke="#d23a3a" stroke-opacity="0.25" stroke-width="1.0" stroke-linecap="round" fill="none"/>
<g transform="translate(47.9,276.3) rotate(-35)" filter="url(#b1)">
<ellipse cx="0" cy="0" rx="7.00" ry="3.30" fill="#b41010"/>
<ellipse cx="0" cy="0" rx="5.18" ry="2.44" fill="#ec6a18"/>
<ellipse cx="0" cy="0" rx="4.62" ry="2.18" fill="#f2d420"/>
<ellipse cx="0" cy="0" rx="2.94" ry="1.39" fill="#5e9e34"/>
</g>
</g>
<line x1="67.2" y1="232.2" x2="67.2" y2="283.8" stroke="#2a2a2a" stroke-width="0.9"/>
<line x1="37.5" y1="263.4" x2="95.0" y2="263.4" stroke="#2a2a2a" stroke-width="0.9"/>
<rect x="37.5" y="232.2" width="57.5" height="51.60000000000002" fill="none" stroke="#222" stroke-width="1"/>
<line x1="37.5" y1="231.7" x2="37.5" y2="284.8" stroke="#000" stroke-width="1.5"/>
<line x1="36.5" y1="283.8" x2="95.5" y2="283.8" stroke="#000" stroke-width="1.5"/>
<line x1="37.50" y1="283.8" x2="37.50" y2="286.8" stroke="#000" stroke-width="0.7"/>
<line x1="34.5" y1="283.80" x2="37.5" y2="283.80" stroke="#000" stroke-width="0.7"/>
<line x1="41.83" y1="283.8" x2="41.83" y2="285.40000000000003" stroke="#000" stroke-width="0.7"/>
<line x1="35.9" y1="279.92" x2="37.5" y2="279.92" stroke="#000" stroke-width="0.7"/>
<line x1="44.36" y1="283.8" x2="44.36" y2="285.40000000000003" stroke="#000" stroke-width="0.7"/>
<line x1="35.9" y1="277.65" x2="37.5" y2="277.65" stroke="#000" stroke-width="0.7"/>
<line x1="46.15" y1="283.8" x2="46.15" y2="285.40000000000003" stroke="#000" stroke-width="0.7"/>
<line x1="35.9" y1="276.03" x2="37.5" y2="276.03" stroke="#000" stroke-width="0.7"/>
<line x1="47.55" y1="283.8" x2="47.55" y2="285.40000000000003" stroke="#000" stroke-width="0.7"/>
<line x1="35.9" y1="274.78" x2="37.5" y2="274.78" stroke="#000" stroke-width="0.7"/>
<line x1="48.69" y1="283.8" x2="48.69" y2="285.40000000000003" stroke="#000" stroke-width="0.7"/>
<line x1="35.9" y1="273.76" x2="37.5" y2="273.76" stroke="#000" stroke-width="0.7"/>
<line x1="49.65" y1="283.8" x2="49.65" y2="285.40000000000003" stroke="#000" stroke-width="0.7"/>
<line x1="35.9" y1="272.90" x2="37.5" y2="272.90" stroke="#000" stroke-width="0.7"/>
<line x1="50.48" y1="283.8" x2="50.48" y2="285.40000000000003" stroke="#000" stroke-width="0.7"/>
<line x1="35.9" y1="272.15" x2="37.5" y2="272.15" stroke="#000" stroke-width="0.7"/>
<line x1="51.22" y1="283.8" x2="51.22" y2="285.40000000000003" stroke="#000" stroke-width="0.7"/>
<line x1="35.9" y1="271.49" x2="37.5" y2="271.49" stroke="#000" stroke-width="0.7"/>
<line x1="51.88" y1="283.8" x2="51.88" y2="286.8" stroke="#000" stroke-width="0.7"/>
<line x1="34.5" y1="270.90" x2="37.5" y2="270.90" stroke="#000" stroke-width="0.7"/>
<line x1="56.20" y1="283.8" x2="56.20" y2="285.40000000000003" stroke="#000" stroke-width="0.7"/>
<line x1="35.9" y1="267.02" x2="37.5" y2="267.02" stroke="#000" stroke-width="0.7"/>
<line x1="58.73" y1="283.8" x2="58.73" y2="285.40000000000003" stroke="#000" stroke-width="0.7"/>
<line x1="35.9" y1="264.75" x2="37.5" y2="264.75" stroke="#000" stroke-width="0.7"/>
<line x1="60.53" y1="283.8" x2="60.53" y2="285.40000000000003" stroke="#000" stroke-width="0.7"/>
<line x1="35.9" y1="263.13" x2="37.5" y2="263.13" stroke="#000" stroke-width="0.7"/>
<line x1="61.92" y1="283.8" x2="61.92" y2="285.40000000000003" stroke="#000" stroke-width="0.7"/>
<line x1="35.9" y1="261.88" x2="37.5" y2="261.88" stroke="#000" stroke-width="0.7"/>
<line x1="63.06" y1="283.8" x2="63.06" y2="285.40000000000003" stroke="#000" stroke-width="0.7"/>
<line x1="35.9" y1="260.86" x2="37.5" y2="260.86" stroke="#000" stroke-width="0.7"/>
<line x1="64.02" y1="283.8" x2="64.02" y2="285.40000000000003" stroke="#000" stroke-width="0.7"/>
<line x1="35.9" y1="260.00" x2="37.5" y2="260.00" stroke="#000" stroke-width="0.7"/>
<line x1="64.86" y1="283.8" x2="64.86" y2="285.40000000000003" stroke="#000" stroke-width="0.7"/>
<line x1="35.9" y1="259.25" x2="37.5" y2="259.25" stroke="#000" stroke-width="0.7"/>
<line x1="65.59" y1="283.8" x2="65.59" y2="285.40000000000003" stroke="#000" stroke-width="0.7"/>
<line x1="35.9" y1="258.59" x2="37.5" y2="258.59" stroke="#000" stroke-width="0.7"/>
<line x1="66.25" y1="283.8" x2="66.25" y2="286.8" stroke="#000" stroke-width="0.7"/>
<line x1="34.5" y1="258.00" x2="37.5" y2="258.00" stroke="#000" stroke-width="0.7"/>
<line x1="70.58" y1="283.8" x2="70.58" y2="285.40000000000003" stroke="#000" stroke-width="0.7"/>
<line x1="35.9" y1="254.12" x2="37.5" y2="254.12" stroke="#000" stroke-width="0.7"/>
<line x1="73.11" y1="283.8" x2="73.11" y2="285.40000000000003" stroke="#000" stroke-width="0.7"/>
<line x1="35.9" y1="251.85" x2="37.5" y2="251.85" stroke="#000" stroke-width="0.7"/>
<line x1="74.90" y1="283.8" x2="74.90" y2="285.40000000000003" stroke="#000" stroke-width="0.7"/>
<line x1="35.9" y1="250.23" x2="37.5" y2="250.23" stroke="#000" stroke-width="0.7"/>
<line x1="76.30" y1="283.8" x2="76.30" y2="285.40000000000003" stroke="#000" stroke-width="0.7"/>
<line x1="35.9" y1="248.98" x2="37.5" y2="248.98" stroke="#000" stroke-width="0.7"/>
<line x1="77.44" y1="283.8" x2="77.44" y2="285.40000000000003" stroke="#000" stroke-width="0.7"/>
<line x1="35.9" y1="247.96" x2="37.5" y2="247.96" stroke="#000" stroke-width="0.7"/>
<line x1="78.40" y1="283.8" x2="78.40" y2="285.40000000000003" stroke="#000" stroke-width="0.7"/>
<line x1="35.9" y1="247.10" x2="37.5" y2="247.10" stroke="#000" stroke-width="0.7"/>
<line x1="79.23" y1="283.8" x2="79.23" y2="285.40000000000003" stroke="#000" stroke-width="0.7"/>
<line x1="35.9" y1="246.35" x2="37.5" y2="246.35" stroke="#000" stroke-width="0.7"/>
<line x1="79.97" y1="283.8" x2="79.97" y2="285.40000000000003" stroke="#000" stroke-width="0.7"/>
<line x1="35.9" y1="245.69" x2="37.5" y2="245.69" stroke="#000" stroke-width="0.7"/>
<line x1="80.62" y1="283.8" x2="80.62" y2="286.8" stroke="#000" stroke-width="0.7"/>
<line x1="34.5" y1="245.10" x2="37.5" y2="245.10" stroke="#000" stroke-width="0.7"/>
<line x1="84.95" y1="283.8" x2="84.95" y2="285.40000000000003" stroke="#000" stroke-width="0.7"/>
<line x1="35.9" y1="241.22" x2="37.5" y2="241.22" stroke="#000" stroke-width="0.7"/>
<line x1="87.48" y1="283.8" x2="87.48" y2="285.40000000000003" stroke="#000" stroke-width="0.7"/>
<line x1="35.9" y1="238.95" x2="37.5" y2="238.95" stroke="#000" stroke-width="0.7"/>
<line x1="89.28" y1="283.8" x2="89.28" y2="285.40000000000003" stroke="#000" stroke-width="0.7"/>
<line x1="35.9" y1="237.33" x2="37.5" y2="237.33" stroke="#000" stroke-width="0.7"/>
<line x1="90.67" y1="283.8" x2="90.67" y2="285.40000000000003" stroke="#000" stroke-width="0.7"/>
<line x1="35.9" y1="236.08" x2="37.5" y2="236.08" stroke="#000" stroke-width="0.7"/>
<line x1="91.81" y1="283.8" x2="91.81" y2="285.40000000000003" stroke="#000" stroke-width="0.7"/>
<line x1="35.9" y1="235.06" x2="37.5" y2="235.06" stroke="#000" stroke-width="0.7"/>
<line x1="92.77" y1="283.8" x2="92.77" y2="285.40000000000003" stroke="#000" stroke-width="0.7"/>
<line x1="35.9" y1="234.20" x2="37.5" y2="234.20" stroke="#000" stroke-width="0.7"/>
<line x1="93.61" y1="283.8" x2="93.61" y2="285.40000000000003" stroke="#000" stroke-width="0.7"/>
<line x1="35.9" y1="233.45" x2="37.5" y2="233.45" stroke="#000" stroke-width="0.7"/>
<line x1="94.34" y1="283.8" x2="94.34" y2="285.40000000000003" stroke="#000" stroke-width="0.7"/>
<line x1="35.9" y1="232.79" x2="37.5" y2="232.79" stroke="#000" stroke-width="0.7"/>
<line x1="95.00" y1="283.8" x2="95.00" y2="286.8" stroke="#000" stroke-width="0.7"/>
<line x1="34.5" y1="232.20" x2="37.5" y2="232.20" stroke="#000" stroke-width="0.7"/>
<text x="37.50" y="295.60" font-size="6.2" text-anchor="middle" fill="#333">10<tspan font-size="4" dy="-2.6">0</tspan></text>
<text x="26.60" y="287.30" font-size="6.2" text-anchor="middle" fill="#333">10<tspan font-size="4" dy="-2.6">0</tspan></text>
<text x="51.88" y="295.60" font-size="6.2" text-anchor="middle" fill="#333">10<tspan font-size="4" dy="-2.6">1</tspan></text>
<text x="26.60" y="274.40" font-size="6.2" text-anchor="middle" fill="#333">10<tspan font-size="4" dy="-2.6">1</tspan></text>
<text x="66.25" y="295.60" font-size="6.2" text-anchor="middle" fill="#333">10<tspan font-size="4" dy="-2.6">2</tspan></text>
<text x="26.60" y="261.50" font-size="6.2" text-anchor="middle" fill="#333">10<tspan font-size="4" dy="-2.6">2</tspan></text>
<text x="80.62" y="295.60" font-size="6.2" text-anchor="middle" fill="#333">10<tspan font-size="4" dy="-2.6">3</tspan></text>
<text x="26.60" y="248.60" font-size="6.2" text-anchor="middle" fill="#333">10<tspan font-size="4" dy="-2.6">3</tspan></text>
<text x="95.00" y="295.60" font-size="6.2" text-anchor="middle" fill="#333">10<tspan font-size="4" dy="-2.6">4</tspan></text>
<text x="26.60" y="235.70" font-size="6.2" text-anchor="middle" fill="#333">10<tspan font-size="4" dy="-2.6">4</tspan></text>
<text x="66.25" y="228.60" font-size="6.6" text-anchor="middle" font-weight="normal" fill="#222" >Vehicle</text>
<text x="51.40" y="282.60" font-size="5.8" text-anchor="start" font-weight="normal" fill="#141830" stroke-width="0.45" stroke="#141830">88.6%</text>
<clipPath id="cp114232"><rect x="114.0" y="232.2" width="57.80000000000001" height="51.60000000000002"/></clipPath>
<g clip-path="url(#cp114232)">
<path d="M154.8 241.9h.1M153.3 236.2h.1M151.9 247.3h.1M176.7 241.1h.1M155.3 243.9h.1M158.0 244.1h.1M162.1 241.5h.1M164.0 237.7h.1M156.6 233.5h.1M156.4 234.8h.1M158.6 236.6h.1M160.9 242.3h.1M149.8 238.0h.1M153.7 244.2h.1M172.2 243.0h.1M158.1 246.8h.1M150.0 247.7h.1M154.4 229.3h.1M179.1 245.5h.1M152.9 241.8h.1M158.5 241.1h.1M149.4 238.6h.1M163.3 241.1h.1M168.4 240.1h.1M176.1 236.1h.1M161.1 232.3h.1M151.7 246.8h.1M153.6 243.3h.1M159.2 236.2h.1M157.4 238.6h.1M156.9 244.0h.1M164.3 237.7h.1M153.8 242.2h.1M159.7 244.9h.1M178.8 242.4h.1M159.7 239.8h.1M153.7 237.2h.1M152.9 239.5h.1M157.3 243.9h.1M157.1 239.9h.1M152.1 248.1h.1M164.2 247.7h.1M166.1 246.2h.1M158.5 243.7h.1M178.4 233.7h.1M168.8 246.9h.1M163.2 243.4h.1M168.7 236.9h.1M162.6 236.5h.1M154.9 238.3h.1M159.0 241.2h.1M162.7 234.1h.1M174.6 244.2h.1M165.1 238.5h.1M159.6 242.9h.1M162.3 233.0h.1M166.4 252.5h.1M147.2 245.9h.1M162.6 239.8h.1M169.4 234.6h.1M161.7 246.7h.1M158.4 238.8h.1M160.7 238.5h.1M170.7 235.6h.1M165.8 234.6h.1M164.8 239.6h.1M141.5 242.1h.1M152.2 239.3h.1M170.6 234.7h.1M152.9 247.4h.1M161.4 247.1h.1M162.0 236.5h.1M160.0 245.8h.1M166.7 239.9h.1M160.3 240.0h.1M156.6 249.2h.1M159.6 235.6h.1M156.9 243.9h.1M164.5 239.5h.1M155.2 241.0h.1M147.5 235.9h.1M165.5 237.9h.1M163.1 245.5h.1M164.7 240.2h.1M175.5 242.0h.1M157.7 243.9h.1M162.6 236.6h.1M160.5 239.7h.1M145.8 241.0h.1M157.8 238.8h.1M148.1 240.0h.1M159.8 241.0h.1M152.1 243.9h.1M151.2 240.3h.1M169.1 236.7h.1M156.7 245.4h.1M157.1 239.5h.1M162.0 244.9h.1M143.9 238.3h.1M152.4 236.5h.1" stroke="#d23a3a" stroke-opacity="0.24" stroke-width="1.0" stroke-linecap="round" fill="none"/>
<path d="M153.6 237.4h.1M161.8 236.5h.1M161.0 242.1h.1M154.8 241.5h.1M171.8 240.9h.1M155.4 240.6h.1M153.6 242.2h.1M165.8 236.5h.1M158.9 245.4h.1M156.5 241.6h.1M152.4 237.6h.1M157.1 249.9h.1M157.0 238.5h.1M156.0 240.2h.1M164.6 240.9h.1M174.4 240.1h.1M170.2 240.8h.1M163.7 234.1h.1M159.1 240.3h.1M157.5 231.6h.1M166.0 238.3h.1M156.9 239.7h.1M158.6 242.3h.1M150.8 237.4h.1M162.1 240.9h.1M157.2 238.3h.1M154.2 240.8h.1M167.8 235.4h.1M170.9 243.1h.1M157.1 244.1h.1M149.1 234.1h.1M150.9 239.6h.1M157.5 238.5h.1M159.9 231.5h.1M162.9 234.3h.1M155.2 239.2h.1M151.4 235.5h.1M153.0 241.1h.1M164.3 242.5h.1M152.8 237.8h.1M153.7 242.9h.1M146.2 246.9h.1M156.3 237.5h.1M162.7 244.6h.1M162.8 244.7h.1M161.4 245.6h.1M168.6 239.3h.1M170.1 240.3h.1M160.3 236.6h.1M158.3 243.9h.1M151.1 244.0h.1M162.5 241.4h.1M144.6 241.4h.1M164.2 236.9h.1M159.8 230.5h.1M164.4 237.3h.1M165.4 232.3h.1M164.7 239.1h.1M165.3 236.1h.1M156.5 250.3h.1M154.0 238.1h.1M157.7 236.4h.1M168.9 247.0h.1M154.5 233.7h.1M168.6 244.4h.1M166.2 244.8h.1M153.9 240.3h.1M149.8 235.4h.1M166.6 237.1h.1M175.9 239.4h.1M155.8 244.2h.1M172.7 241.4h.1M151.6 242.8h.1M169.4 237.6h.1M155.0 245.2h.1M160.6 235.8h.1M157.1 237.6h.1M162.1 240.8h.1M168.3 242.8h.1M149.2 243.2h.1M166.4 241.9h.1M167.0 237.6h.1M153.7 245.0h.1M151.8 232.1h.1M166.9 236.8h.1M157.4 234.8h.1M150.3 236.5h.1M157.6 242.3h.1M144.3 245.0h.1M151.4 236.8h.1M164.7 239.8h.1M150.0 249.2h.1M154.1 242.1h.1M161.9 246.3h.1M157.2 245.0h.1M155.2 245.6h.1M154.5 239.5h.1M173.3 240.7h.1M161.6 249.8h.1M162.2 236.9h.1" stroke="#d23a3a" stroke-opacity="0.24" stroke-width="1.0" stroke-linecap="round" fill="none"/>
<path d="M164.7 235.1h.1M168.3 244.9h.1M155.8 238.2h.1M161.2 240.5h.1M153.4 243.5h.1M145.6 239.9h.1M157.1 239.6h.1M161.7 235.2h.1M164.0 239.4h.1M155.0 235.2h.1M151.9 242.7h.1M153.3 241.4h.1M167.8 244.2h.1M170.8 238.3h.1M152.8 245.4h.1M162.6 245.0h.1M160.5 245.5h.1M166.2 243.0h.1M163.7 241.9h.1M161.7 241.3h.1M166.7 237.8h.1M172.1 239.0h.1M166.8 239.5h.1M159.0 249.2h.1M157.4 235.3h.1M154.9 239.6h.1M175.1 240.1h.1M166.2 235.7h.1M162.7 243.1h.1M172.3 236.5h.1M164.3 241.4h.1M152.9 241.0h.1M157.3 230.9h.1M164.4 242.4h.1M156.4 235.2h.1M170.4 240.7h.1M167.6 245.8h.1M156.7 244.2h.1M158.3 240.4h.1M159.4 240.5h.1M167.8 240.3h.1M158.8 239.4h.1M162.1 236.5h.1M156.5 240.6h.1M156.0 240.3h.1M156.5 249.3h.1M169.4 241.6h.1M160.4 249.7h.1M162.2 239.9h.1M162.2 241.6h.1M169.8 239.6h.1M174.3 235.5h.1M164.5 235.9h.1M172.6 238.0h.1M159.9 244.4h.1M168.3 235.1h.1M157.1 234.9h.1M160.9 240.0h.1M157.3 237.8h.1M157.0 237.6h.1M164.2 246.5h.1M146.5 241.2h.1M157.3 242.8h.1M153.3 240.5h.1M153.0 244.0h.1M160.6 239.8h.1M162.5 239.2h.1M149.4 243.9h.1M162.0 239.7h.1M167.3 245.0h.1M152.1 237.9h.1M171.3 245.5h.1M154.4 236.0h.1M155.4 238.8h.1M149.0 241.6h.1M150.6 236.2h.1M166.1 237.1h.1M159.7 243.2h.1M165.5 238.6h.1M160.0 237.0h.1M172.4 242.2h.1M152.3 241.2h.1M165.2 242.1h.1M173.3 245.1h.1M156.2 240.5h.1M151.2 242.3h.1M162.0 251.7h.1M159.9 231.7h.1M155.4 241.4h.1M150.9 237.6h.1M157.6 242.2h.1M158.5 236.9h.1M165.3 237.8h.1M156.0 235.0h.1M154.8 243.7h.1M148.7 241.2h.1M164.9 238.5h.1M161.3 235.7h.1M169.5 244.3h.1M161.0 233.0h.1" stroke="#d23a3a" stroke-opacity="0.24" stroke-width="1.0" stroke-linecap="round" fill="none"/>
<path d="M121.6 257.8h.1M143.7 252.4h.1M140.0 245.1h.1M128.5 250.0h.1M133.4 237.8h.1M137.5 260.6h.1M120.8 239.2h.1M132.8 244.8h.1M111.0 256.5h.1M131.2 246.2h.1M146.9 251.1h.1M124.0 250.8h.1M121.7 243.9h.1" stroke="#d23a3a" stroke-opacity="0.1" stroke-width="1.0" stroke-linecap="round" fill="none"/>
<path d="M133.1 245.6h.1M126.4 263.4h.1M136.9 256.4h.1M134.2 253.9h.1M141.7 249.8h.1M144.8 242.4h.1M128.0 239.0h.1M127.2 254.1h.1M141.6 244.7h.1M130.0 247.1h.1M124.1 240.5h.1M130.5 236.1h.1M130.9 250.2h.1" stroke="#d23a3a" stroke-opacity="0.1" stroke-width="1.0" stroke-linecap="round" fill="none"/>
<path d="M124.7 241.9h.1M118.9 265.0h.1M119.3 262.5h.1M134.8 247.1h.1M120.7 258.3h.1M143.8 242.5h.1M127.6 258.4h.1M132.7 266.0h.1M125.4 254.3h.1M120.0 266.8h.1M124.2 232.3h.1M129.0 248.9h.1M145.3 247.3h.1" stroke="#d23a3a" stroke-opacity="0.1" stroke-width="1.0" stroke-linecap="round" fill="none"/>
<path d="M129.9 254.7h.1" stroke="#d23a3a" stroke-opacity="0.1" stroke-width="1.0" stroke-linecap="round" fill="none"/>
<path d="M168.7 257.6h.1M164.3 261.1h.1M153.6 258.5h.1M156.2 252.5h.1M165.7 249.7h.1M165.4 263.7h.1" stroke="#d23a3a" stroke-opacity="0.1" stroke-width="1.0" stroke-linecap="round" fill="none"/>
<path d="M155.3 253.4h.1M154.2 260.8h.1M161.9 259.7h.1M163.9 254.7h.1M157.9 248.6h.1M162.1 258.9h.1" stroke="#d23a3a" stroke-opacity="0.1" stroke-width="1.0" stroke-linecap="round" fill="none"/>
<path d="M152.7 265.0h.1M161.5 241.1h.1M156.3 249.3h.1M164.5 272.9h.1M151.9 258.4h.1M154.0 260.1h.1" stroke="#d23a3a" stroke-opacity="0.1" stroke-width="1.0" stroke-linecap="round" fill="none"/>
<path d="M161.2 265.7h.1M148.1 267.4h.1" stroke="#d23a3a" stroke-opacity="0.1" stroke-width="1.0" stroke-linecap="round" fill="none"/>
<path d="M124.0 276.0h.1M135.2 270.1h.1M121.9 273.2h.1M125.6 273.4h.1M131.0 264.2h.1M131.6 272.2h.1M131.7 271.5h.1M136.5 268.2h.1M133.4 270.7h.1M132.9 260.2h.1M133.8 266.8h.1M124.6 270.1h.1M118.0 277.3h.1M125.6 275.8h.1M123.7 281.3h.1M128.8 270.3h.1M122.9 272.1h.1M121.3 274.3h.1M127.7 271.5h.1M120.5 276.1h.1M123.9 275.5h.1M138.5 267.4h.1M123.1 268.3h.1M117.6 271.9h.1M130.0 267.2h.1M127.0 270.0h.1M131.3 275.8h.1M123.9 273.4h.1M125.8 277.4h.1M120.6 272.2h.1M118.3 272.6h.1M135.6 278.0h.1M125.1 278.2h.1M127.0 267.9h.1M126.2 272.3h.1M128.6 280.1h.1M119.4 279.7h.1M128.4 269.1h.1M130.5 274.1h.1M129.6 272.7h.1M127.2 263.6h.1M140.0 273.6h.1M134.9 271.6h.1M120.8 276.5h.1M122.8 273.1h.1M131.1 266.3h.1M123.4 266.8h.1M127.4 272.8h.1M123.0 272.3h.1M134.8 261.9h.1M121.2 273.2h.1M138.2 274.1h.1M128.2 268.7h.1M128.1 276.6h.1M126.5 279.4h.1M135.1 267.3h.1M132.7 272.0h.1M133.5 263.6h.1M133.0 266.8h.1M124.4 274.9h.1M124.9 269.8h.1M118.2 274.7h.1M139.2 272.8h.1M133.6 273.3h.1M125.3 273.6h.1M127.2 267.8h.1M123.3 275.7h.1M124.2 270.0h.1M129.4 269.9h.1M133.0 268.5h.1M126.8 273.4h.1M125.8 270.6h.1M127.6 275.6h.1M133.8 273.6h.1M118.9 276.7h.1M126.3 273.9h.1M124.7 272.0h.1M132.2 269.8h.1M125.0 279.9h.1M131.7 266.9h.1" stroke="#d23a3a" stroke-opacity="0.25" stroke-width="1.0" stroke-linecap="round" fill="none"/>
<path d="M130.6 267.0h.1M133.1 267.5h.1M123.3 273.7h.1M124.6 275.2h.1M128.9 271.5h.1M117.7 263.1h.1M124.5 266.1h.1M131.5 274.5h.1M128.5 269.9h.1M126.8 272.2h.1M124.1 272.2h.1M125.9 278.7h.1M129.9 274.9h.1M126.9 273.1h.1M128.1 274.0h.1M132.6 269.9h.1M123.1 272.0h.1M135.6 265.5h.1M129.6 277.3h.1M134.4 269.8h.1M130.9 280.3h.1M131.1 272.3h.1M124.2 268.4h.1M122.3 277.8h.1M129.4 269.9h.1M119.3 271.8h.1M123.4 268.8h.1M134.8 272.3h.1M143.7 264.9h.1M123.3 271.5h.1M109.8 282.1h.1M129.1 275.5h.1M132.2 271.6h.1M130.4 273.2h.1M132.9 263.9h.1M122.9 269.5h.1M138.6 270.3h.1M129.2 265.9h.1M128.4 270.7h.1M128.0 271.2h.1M129.7 269.0h.1M132.7 269.8h.1M126.3 272.7h.1M127.5 275.9h.1M127.3 273.8h.1M123.0 269.0h.1M130.3 265.8h.1M132.2 270.9h.1M117.9 274.9h.1M123.8 271.3h.1M123.7 278.3h.1M127.6 274.0h.1M126.5 274.4h.1M124.3 274.5h.1M131.0 270.1h.1M123.5 270.4h.1M129.5 272.4h.1M125.1 270.6h.1M135.8 277.5h.1M127.2 274.0h.1M124.6 263.1h.1M127.1 269.5h.1M134.3 266.5h.1M123.7 274.0h.1M127.7 269.8h.1M124.9 268.2h.1M128.5 275.1h.1M139.1 267.3h.1M131.8 274.6h.1M136.4 273.4h.1M133.1 267.9h.1M129.6 271.6h.1M129.9 271.6h.1M119.8 268.5h.1M120.5 268.3h.1M128.3 271.8h.1M121.2 279.8h.1M132.5 269.3h.1M140.1 271.8h.1M124.2 279.2h.1" stroke="#d23a3a" stroke-opacity="0.25" stroke-width="1.0" stroke-linecap="round" fill="none"/>
<path d="M131.0 271.7h.1M131.1 266.7h.1M123.4 271.6h.1M124.1 274.3h.1M118.7 273.9h.1M130.7 269.8h.1M126.0 265.1h.1M123.0 273.1h.1M126.9 270.2h.1M132.5 268.6h.1M128.1 272.0h.1M130.5 268.2h.1M134.5 269.5h.1M128.8 271.6h.1M132.7 273.2h.1M133.4 269.9h.1M132.6 269.3h.1M134.1 267.6h.1M120.6 283.1h.1M126.1 268.2h.1M125.2 270.1h.1M139.4 266.2h.1M121.4 279.0h.1M130.0 279.0h.1M118.2 269.0h.1M127.6 270.7h.1M121.5 267.1h.1M133.6 275.5h.1M121.0 282.0h.1M130.1 280.9h.1M129.8 269.9h.1M134.5 269.7h.1M126.6 276.1h.1M121.8 268.5h.1M137.3 264.0h.1M125.7 275.1h.1M117.5 273.4h.1M124.5 272.2h.1M130.7 275.1h.1M126.7 275.1h.1M128.7 266.7h.1M127.2 268.4h.1M134.2 269.7h.1M125.3 268.0h.1M127.0 269.3h.1M131.2 269.2h.1M125.9 277.5h.1M130.3 267.8h.1M133.1 267.1h.1M126.7 273.4h.1M123.4 273.3h.1M130.4 277.1h.1M134.8 266.1h.1M135.8 266.3h.1M131.7 273.3h.1M134.4 278.1h.1M126.7 267.6h.1M133.6 266.3h.1M120.3 264.2h.1M134.6 271.0h.1M133.9 272.1h.1M136.2 266.0h.1M131.1 266.6h.1M128.4 276.3h.1M127.2 266.7h.1M129.4 270.2h.1M124.9 276.1h.1M122.8 268.8h.1M126.2 281.0h.1M121.0 277.9h.1M132.3 271.8h.1M121.3 275.3h.1M130.3 273.9h.1M122.4 270.8h.1M135.2 271.8h.1M128.6 268.9h.1M130.2 270.9h.1M129.5 265.4h.1M128.2 271.1h.1M123.0 276.5h.1" stroke="#d23a3a" stroke-opacity="0.25" stroke-width="1.0" stroke-linecap="round" fill="none"/>
<g transform="translate(125.2,277.0) rotate(-33)" filter="url(#b1)">
<ellipse cx="0" cy="0" rx="7.40" ry="3.30" fill="#b41010"/>
<ellipse cx="0" cy="0" rx="5.48" ry="2.44" fill="#ec6a18"/>
<ellipse cx="0" cy="0" rx="4.88" ry="2.18" fill="#f2d420"/>
<ellipse cx="0" cy="0" rx="3.26" ry="1.45" fill="#5e9e34"/>
<ellipse cx="0" cy="0" rx="1.48" ry="0.66" fill="#2e56a6"/>
</g>
</g>
<line x1="143.7" y1="232.2" x2="143.7" y2="283.8" stroke="#2a2a2a" stroke-width="0.9"/>
<line x1="114.0" y1="263.4" x2="171.8" y2="263.4" stroke="#2a2a2a" stroke-width="0.9"/>
<rect x="114.0" y="232.2" width="57.80000000000001" height="51.60000000000002" fill="none" stroke="#222" stroke-width="1"/>
<line x1="114.0" y1="231.7" x2="114.0" y2="284.8" stroke="#000" stroke-width="1.5"/>
<line x1="113.0" y1="283.8" x2="172.3" y2="283.8" stroke="#000" stroke-width="1.5"/>
<line x1="114.00" y1="283.8" x2="114.00" y2="286.8" stroke="#000" stroke-width="0.7"/>
<line x1="111.0" y1="283.80" x2="114.0" y2="283.80" stroke="#000" stroke-width="0.7"/>
<line x1="118.35" y1="283.8" x2="118.35" y2="285.40000000000003" stroke="#000" stroke-width="0.7"/>
<line x1="112.4" y1="279.92" x2="114.0" y2="279.92" stroke="#000" stroke-width="0.7"/>
<line x1="120.89" y1="283.8" x2="120.89" y2="285.40000000000003" stroke="#000" stroke-width="0.7"/>
<line x1="112.4" y1="277.65" x2="114.0" y2="277.65" stroke="#000" stroke-width="0.7"/>
<line x1="122.70" y1="283.8" x2="122.70" y2="285.40000000000003" stroke="#000" stroke-width="0.7"/>
<line x1="112.4" y1="276.03" x2="114.0" y2="276.03" stroke="#000" stroke-width="0.7"/>
<line x1="124.10" y1="283.8" x2="124.10" y2="285.40000000000003" stroke="#000" stroke-width="0.7"/>
<line x1="112.4" y1="274.78" x2="114.0" y2="274.78" stroke="#000" stroke-width="0.7"/>
<line x1="125.24" y1="283.8" x2="125.24" y2="285.40000000000003" stroke="#000" stroke-width="0.7"/>
<line x1="112.4" y1="273.76" x2="114.0" y2="273.76" stroke="#000" stroke-width="0.7"/>
<line x1="126.21" y1="283.8" x2="126.21" y2="285.40000000000003" stroke="#000" stroke-width="0.7"/>
<line x1="112.4" y1="272.90" x2="114.0" y2="272.90" stroke="#000" stroke-width="0.7"/>
<line x1="127.05" y1="283.8" x2="127.05" y2="285.40000000000003" stroke="#000" stroke-width="0.7"/>
<line x1="112.4" y1="272.15" x2="114.0" y2="272.15" stroke="#000" stroke-width="0.7"/>
<line x1="127.79" y1="283.8" x2="127.79" y2="285.40000000000003" stroke="#000" stroke-width="0.7"/>
<line x1="112.4" y1="271.49" x2="114.0" y2="271.49" stroke="#000" stroke-width="0.7"/>
<line x1="128.45" y1="283.8" x2="128.45" y2="286.8" stroke="#000" stroke-width="0.7"/>
<line x1="111.0" y1="270.90" x2="114.0" y2="270.90" stroke="#000" stroke-width="0.7"/>
<line x1="132.80" y1="283.8" x2="132.80" y2="285.40000000000003" stroke="#000" stroke-width="0.7"/>
<line x1="112.4" y1="267.02" x2="114.0" y2="267.02" stroke="#000" stroke-width="0.7"/>
<line x1="135.34" y1="283.8" x2="135.34" y2="285.40000000000003" stroke="#000" stroke-width="0.7"/>
<line x1="112.4" y1="264.75" x2="114.0" y2="264.75" stroke="#000" stroke-width="0.7"/>
<line x1="137.15" y1="283.8" x2="137.15" y2="285.40000000000003" stroke="#000" stroke-width="0.7"/>
<line x1="112.4" y1="263.13" x2="114.0" y2="263.13" stroke="#000" stroke-width="0.7"/>
<line x1="138.55" y1="283.8" x2="138.55" y2="285.40000000000003" stroke="#000" stroke-width="0.7"/>
<line x1="112.4" y1="261.88" x2="114.0" y2="261.88" stroke="#000" stroke-width="0.7"/>
<line x1="139.69" y1="283.8" x2="139.69" y2="285.40000000000003" stroke="#000" stroke-width="0.7"/>
<line x1="112.4" y1="260.86" x2="114.0" y2="260.86" stroke="#000" stroke-width="0.7"/>
<line x1="140.66" y1="283.8" x2="140.66" y2="285.40000000000003" stroke="#000" stroke-width="0.7"/>
<line x1="112.4" y1="260.00" x2="114.0" y2="260.00" stroke="#000" stroke-width="0.7"/>
<line x1="141.50" y1="283.8" x2="141.50" y2="285.40000000000003" stroke="#000" stroke-width="0.7"/>
<line x1="112.4" y1="259.25" x2="114.0" y2="259.25" stroke="#000" stroke-width="0.7"/>
<line x1="142.24" y1="283.8" x2="142.24" y2="285.40000000000003" stroke="#000" stroke-width="0.7"/>
<line x1="112.4" y1="258.59" x2="114.0" y2="258.59" stroke="#000" stroke-width="0.7"/>
<line x1="142.90" y1="283.8" x2="142.90" y2="286.8" stroke="#000" stroke-width="0.7"/>
<line x1="111.0" y1="258.00" x2="114.0" y2="258.00" stroke="#000" stroke-width="0.7"/>
<line x1="147.25" y1="283.8" x2="147.25" y2="285.40000000000003" stroke="#000" stroke-width="0.7"/>
<line x1="112.4" y1="254.12" x2="114.0" y2="254.12" stroke="#000" stroke-width="0.7"/>
<line x1="149.79" y1="283.8" x2="149.79" y2="285.40000000000003" stroke="#000" stroke-width="0.7"/>
<line x1="112.4" y1="251.85" x2="114.0" y2="251.85" stroke="#000" stroke-width="0.7"/>
<line x1="151.60" y1="283.8" x2="151.60" y2="285.40000000000003" stroke="#000" stroke-width="0.7"/>
<line x1="112.4" y1="250.23" x2="114.0" y2="250.23" stroke="#000" stroke-width="0.7"/>
<line x1="153.00" y1="283.8" x2="153.00" y2="285.40000000000003" stroke="#000" stroke-width="0.7"/>
<line x1="112.4" y1="248.98" x2="114.0" y2="248.98" stroke="#000" stroke-width="0.7"/>
<line x1="154.14" y1="283.8" x2="154.14" y2="285.40000000000003" stroke="#000" stroke-width="0.7"/>
<line x1="112.4" y1="247.96" x2="114.0" y2="247.96" stroke="#000" stroke-width="0.7"/>
<line x1="155.11" y1="283.8" x2="155.11" y2="285.40000000000003" stroke="#000" stroke-width="0.7"/>
<line x1="112.4" y1="247.10" x2="114.0" y2="247.10" stroke="#000" stroke-width="0.7"/>
<line x1="155.95" y1="283.8" x2="155.95" y2="285.40000000000003" stroke="#000" stroke-width="0.7"/>
<line x1="112.4" y1="246.35" x2="114.0" y2="246.35" stroke="#000" stroke-width="0.7"/>
<line x1="156.69" y1="283.8" x2="156.69" y2="285.40000000000003" stroke="#000" stroke-width="0.7"/>
<line x1="112.4" y1="245.69" x2="114.0" y2="245.69" stroke="#000" stroke-width="0.7"/>
<line x1="157.35" y1="283.8" x2="157.35" y2="286.8" stroke="#000" stroke-width="0.7"/>
<line x1="111.0" y1="245.10" x2="114.0" y2="245.10" stroke="#000" stroke-width="0.7"/>
<line x1="161.70" y1="283.8" x2="161.70" y2="285.40000000000003" stroke="#000" stroke-width="0.7"/>
<line x1="112.4" y1="241.22" x2="114.0" y2="241.22" stroke="#000" stroke-width="0.7"/>
<line x1="164.24" y1="283.8" x2="164.24" y2="285.40000000000003" stroke="#000" stroke-width="0.7"/>
<line x1="112.4" y1="238.95" x2="114.0" y2="238.95" stroke="#000" stroke-width="0.7"/>
<line x1="166.05" y1="283.8" x2="166.05" y2="285.40000000000003" stroke="#000" stroke-width="0.7"/>
<line x1="112.4" y1="237.33" x2="114.0" y2="237.33" stroke="#000" stroke-width="0.7"/>
<line x1="167.45" y1="283.8" x2="167.45" y2="285.40000000000003" stroke="#000" stroke-width="0.7"/>
<line x1="112.4" y1="236.08" x2="114.0" y2="236.08" stroke="#000" stroke-width="0.7"/>
<line x1="168.59" y1="283.8" x2="168.59" y2="285.40000000000003" stroke="#000" stroke-width="0.7"/>
<line x1="112.4" y1="235.06" x2="114.0" y2="235.06" stroke="#000" stroke-width="0.7"/>
<line x1="169.56" y1="283.8" x2="169.56" y2="285.40000000000003" stroke="#000" stroke-width="0.7"/>
<line x1="112.4" y1="234.20" x2="114.0" y2="234.20" stroke="#000" stroke-width="0.7"/>
<line x1="170.40" y1="283.8" x2="170.40" y2="285.40000000000003" stroke="#000" stroke-width="0.7"/>
<line x1="112.4" y1="233.45" x2="114.0" y2="233.45" stroke="#000" stroke-width="0.7"/>
<line x1="171.14" y1="283.8" x2="171.14" y2="285.40000000000003" stroke="#000" stroke-width="0.7"/>
<line x1="112.4" y1="232.79" x2="114.0" y2="232.79" stroke="#000" stroke-width="0.7"/>
<line x1="171.80" y1="283.8" x2="171.80" y2="286.8" stroke="#000" stroke-width="0.7"/>
<line x1="111.0" y1="232.20" x2="114.0" y2="232.20" stroke="#000" stroke-width="0.7"/>
<text x="114.00" y="295.60" font-size="6.2" text-anchor="middle" fill="#333">10<tspan font-size="4" dy="-2.6">0</tspan></text>
<text x="103.10" y="287.30" font-size="6.2" text-anchor="middle" fill="#333">10<tspan font-size="4" dy="-2.6">0</tspan></text>
<text x="128.45" y="295.60" font-size="6.2" text-anchor="middle" fill="#333">10<tspan font-size="4" dy="-2.6">1</tspan></text>
<text x="103.10" y="274.40" font-size="6.2" text-anchor="middle" fill="#333">10<tspan font-size="4" dy="-2.6">1</tspan></text>
<text x="142.90" y="295.60" font-size="6.2" text-anchor="middle" fill="#333">10<tspan font-size="4" dy="-2.6">2</tspan></text>
<text x="103.10" y="261.50" font-size="6.2" text-anchor="middle" fill="#333">10<tspan font-size="4" dy="-2.6">2</tspan></text>
<text x="157.35" y="295.60" font-size="6.2" text-anchor="middle" fill="#333">10<tspan font-size="4" dy="-2.6">3</tspan></text>
<text x="103.10" y="248.60" font-size="6.2" text-anchor="middle" fill="#333">10<tspan font-size="4" dy="-2.6">3</tspan></text>
<text x="171.80" y="295.60" font-size="6.2" text-anchor="middle" fill="#333">10<tspan font-size="4" dy="-2.6">4</tspan></text>
<text x="103.10" y="235.70" font-size="6.2" text-anchor="middle" fill="#333">10<tspan font-size="4" dy="-2.6">4</tspan></text>
<text x="142.90" y="228.60" font-size="6.6" text-anchor="middle" font-weight="normal" fill="#222" >Q-VD-OPh</text>
<text x="129.40" y="282.60" font-size="5.8" text-anchor="start" font-weight="normal" fill="#141830" stroke-width="0.45" stroke="#141830">92.4%</text>
<clipPath id="cp37313"><rect x="37.5" y="313.5" width="57.5" height="51.10000000000002"/></clipPath>
<g clip-path="url(#cp37313)">
<path d="M72.3 324.9h.1M75.6 319.9h.1M71.5 329.2h.1M74.6 332.4h.1M61.2 319.5h.1M74.2 329.3h.1M91.1 330.1h.1M64.1 331.0h.1M64.4 319.6h.1M95.5 328.6h.1M78.4 329.8h.1M88.3 328.4h.1M83.0 321.9h.1M59.5 334.1h.1M85.3 329.6h.1M74.0 327.8h.1M65.8 334.7h.1M77.9 329.5h.1M75.4 332.2h.1M76.5 330.7h.1M61.5 329.6h.1M91.7 324.4h.1M70.8 331.5h.1M80.6 330.1h.1M57.4 329.5h.1M61.3 322.9h.1M76.9 325.5h.1M79.3 342.7h.1M79.0 330.6h.1M63.9 323.8h.1M62.4 324.3h.1M62.2 323.7h.1M70.1 322.0h.1M59.2 320.2h.1M76.1 327.3h.1M81.2 332.2h.1M68.9 330.4h.1M59.0 338.4h.1M82.8 325.9h.1M61.5 328.9h.1M55.2 323.1h.1M78.7 327.4h.1M67.6 331.8h.1M62.7 328.4h.1M67.5 322.8h.1M76.2 322.0h.1M89.1 324.1h.1M89.9 321.5h.1M77.5 321.0h.1M59.9 327.8h.1M78.1 320.6h.1M82.7 323.0h.1M73.2 328.9h.1M77.4 318.0h.1M86.6 329.8h.1M68.2 321.9h.1M56.8 320.2h.1M76.9 325.3h.1M61.8 324.4h.1M86.1 325.3h.1M66.7 333.8h.1M76.2 327.2h.1M66.5 319.2h.1M61.5 324.6h.1M70.0 328.8h.1M77.0 328.1h.1M74.0 322.0h.1M52.6 324.4h.1M63.4 323.7h.1M69.5 320.8h.1M62.0 326.5h.1M73.0 323.7h.1M76.5 325.9h.1M62.8 327.2h.1M88.9 323.6h.1M82.5 333.9h.1M85.5 322.9h.1M90.1 327.6h.1M69.7 325.8h.1M77.4 327.3h.1M70.4 333.4h.1M65.5 321.8h.1M79.1 330.5h.1M81.8 321.6h.1M81.7 329.4h.1M87.9 320.8h.1M74.0 325.6h.1M57.7 323.4h.1M82.1 324.7h.1M65.5 331.3h.1M80.9 331.9h.1M64.9 326.7h.1M81.3 323.7h.1M65.3 331.1h.1M86.1 321.2h.1M48.6 319.7h.1M62.9 326.3h.1M77.5 326.3h.1M65.7 327.8h.1M63.3 326.8h.1" stroke="#d23a3a" stroke-opacity="0.25" stroke-width="1.0" stroke-linecap="round" fill="none"/>
<path d="M66.2 340.4h.1M79.4 322.8h.1M63.0 324.8h.1M57.2 323.3h.1M65.4 331.4h.1M68.2 323.0h.1M59.9 321.1h.1M71.4 325.9h.1M82.2 323.9h.1M81.5 328.3h.1M72.0 317.0h.1M60.4 330.7h.1M84.6 328.0h.1M78.9 325.0h.1M68.7 323.7h.1M80.8 328.7h.1M69.9 325.4h.1M77.0 328.6h.1M64.5 335.6h.1M74.3 327.1h.1M85.3 332.1h.1M71.2 329.7h.1M62.4 323.8h.1M51.7 333.1h.1M54.9 330.4h.1M64.5 322.1h.1M70.2 328.3h.1M77.5 335.9h.1M75.2 331.4h.1M66.6 330.6h.1M73.4 324.7h.1M71.1 326.7h.1M73.7 329.0h.1M67.4 323.3h.1M78.7 318.5h.1M66.4 334.8h.1M47.6 323.5h.1M78.2 318.7h.1M95.4 314.1h.1M84.9 334.8h.1M80.2 325.9h.1M75.2 322.5h.1M79.3 321.4h.1M69.5 332.0h.1M62.0 325.2h.1M73.5 320.3h.1M82.5 328.7h.1M58.4 326.8h.1M65.0 323.7h.1M72.7 323.5h.1M80.7 323.5h.1M80.8 326.8h.1M79.7 324.3h.1M67.5 321.2h.1M77.2 331.7h.1M91.1 333.5h.1M74.2 325.9h.1M75.5 326.9h.1M85.2 331.7h.1M64.5 323.6h.1M84.3 328.5h.1M69.9 332.9h.1M68.5 325.6h.1M67.8 317.2h.1M79.8 321.0h.1M66.9 323.3h.1M78.5 326.7h.1M72.1 318.6h.1M71.2 319.6h.1M74.8 328.8h.1M71.8 337.2h.1M76.7 330.0h.1M73.3 326.0h.1M80.7 332.5h.1M60.3 332.3h.1M76.6 331.8h.1M76.2 320.8h.1M61.4 336.1h.1M74.3 319.9h.1M75.1 325.2h.1M55.4 315.5h.1M57.6 328.4h.1M71.6 325.8h.1M74.6 330.0h.1M53.1 325.5h.1M64.5 320.8h.1M67.1 326.4h.1M69.6 319.7h.1M67.7 337.1h.1M62.5 318.6h.1M74.5 330.0h.1M76.2 321.4h.1M81.0 323.1h.1M61.8 324.0h.1M71.0 330.6h.1M77.6 326.9h.1M80.4 327.4h.1M80.1 320.0h.1M57.8 330.9h.1M59.5 325.5h.1" stroke="#d23a3a" stroke-opacity="0.25" stroke-width="1.0" stroke-linecap="round" fill="none"/>
<path d="M71.1 324.6h.1M67.9 334.0h.1M49.2 331.4h.1M92.7 327.1h.1M71.8 330.6h.1M88.5 321.1h.1M72.8 326.1h.1M77.0 327.8h.1M77.9 324.9h.1M72.4 323.6h.1M66.0 326.3h.1M70.7 321.1h.1M86.1 326.3h.1M59.5 332.5h.1M65.3 329.5h.1M71.8 328.3h.1M73.5 324.1h.1M72.4 337.2h.1M51.9 327.3h.1M75.9 321.7h.1M59.7 337.8h.1M68.7 337.4h.1M76.8 327.4h.1M76.3 330.2h.1M82.6 329.2h.1M73.3 327.9h.1M84.2 331.1h.1M63.0 323.8h.1M75.0 323.9h.1M68.6 322.2h.1M69.6 329.1h.1M81.0 327.0h.1M90.7 326.6h.1M100.7 332.0h.1M76.5 324.5h.1M46.6 326.2h.1M73.6 336.6h.1M59.6 336.5h.1M69.7 330.6h.1M49.1 327.7h.1M68.9 330.4h.1M72.8 321.3h.1M80.5 330.5h.1M77.4 332.0h.1M81.9 326.9h.1M59.8 320.1h.1M84.1 330.6h.1M72.9 324.8h.1M72.3 327.1h.1M69.0 323.5h.1M91.5 328.1h.1M66.5 320.5h.1M65.5 330.6h.1M78.8 325.9h.1M72.5 325.5h.1M62.0 333.5h.1M75.4 339.4h.1M65.2 326.3h.1M79.9 325.8h.1M59.5 322.3h.1M72.9 328.7h.1M71.1 332.0h.1M80.9 328.6h.1M72.2 325.7h.1M77.0 331.6h.1M72.5 329.2h.1M69.1 319.9h.1M63.0 330.8h.1M76.0 335.0h.1M72.5 331.3h.1M83.9 332.0h.1M66.5 326.1h.1M73.2 322.1h.1M76.3 332.1h.1M67.7 336.9h.1M69.4 326.0h.1M69.9 323.5h.1M75.8 327.1h.1M87.0 330.0h.1M76.8 325.9h.1M59.3 326.6h.1M64.3 331.8h.1M71.7 335.3h.1M78.6 331.2h.1M74.1 328.0h.1M77.9 331.6h.1M65.6 329.5h.1M95.6 326.6h.1M69.7 323.5h.1M59.0 332.9h.1M72.5 328.5h.1M88.6 339.5h.1M64.0 332.3h.1M77.6 329.0h.1M76.3 326.9h.1M86.3 330.1h.1M75.1 333.2h.1M80.1 329.3h.1M75.0 335.8h.1M76.6 326.6h.1" stroke="#d23a3a" stroke-opacity="0.25" stroke-width="1.0" stroke-linecap="round" fill="none"/>
<path d="M51.5 330.3h.1M49.5 333.9h.1M62.6 316.6h.1M60.2 338.2h.1M61.7 325.4h.1M72.7 327.5h.1M47.7 324.4h.1M59.9 340.9h.1M71.7 334.7h.1M48.1 327.8h.1M51.0 331.6h.1M42.3 333.9h.1M66.5 331.8h.1M64.6 325.5h.1M45.5 327.9h.1M71.6 341.2h.1M55.4 342.6h.1M56.8 345.1h.1M64.8 329.4h.1M68.0 326.8h.1M50.6 321.4h.1M62.6 332.6h.1M59.2 329.7h.1M74.4 329.6h.1M52.8 343.0h.1M74.2 335.7h.1M42.6 328.2h.1M66.1 333.1h.1M75.5 322.1h.1M66.8 328.0h.1" stroke="#d23a3a" stroke-opacity="0.15" stroke-width="1.0" stroke-linecap="round" fill="none"/>
<path d="M73.2 332.4h.1M70.3 327.8h.1M45.9 324.1h.1M53.9 324.8h.1M72.0 343.7h.1M62.7 324.7h.1M58.8 327.5h.1M74.5 335.5h.1M64.9 329.8h.1M39.9 326.8h.1M48.8 336.0h.1M61.0 326.6h.1M56.1 345.5h.1M50.4 325.7h.1M57.7 327.4h.1M55.7 337.3h.1M77.3 318.8h.1M59.8 333.3h.1M59.2 331.5h.1M56.6 341.0h.1M55.3 332.0h.1M60.0 333.9h.1M58.3 341.0h.1M59.9 334.4h.1M59.5 325.0h.1M51.7 324.6h.1M61.9 327.3h.1M49.4 334.9h.1M65.3 318.9h.1M76.9 333.3h.1" stroke="#d23a3a" stroke-opacity="0.15" stroke-width="1.0" stroke-linecap="round" fill="none"/>
<path d="M58.9 341.5h.1M60.7 328.2h.1M81.9 324.4h.1M59.0 339.8h.1M49.3 332.2h.1M63.9 352.2h.1M51.1 332.6h.1M66.6 333.6h.1M48.0 336.3h.1M61.1 336.6h.1M71.3 341.1h.1M64.1 335.5h.1M49.0 331.9h.1M62.2 329.8h.1M61.0 326.4h.1M75.3 350.2h.1M56.1 336.2h.1M57.7 343.1h.1M64.3 333.6h.1M57.8 334.0h.1M50.0 338.4h.1M52.9 337.3h.1M61.3 341.8h.1M59.8 341.2h.1M50.8 337.9h.1M57.8 334.6h.1M60.7 340.5h.1M39.8 335.6h.1M45.1 342.7h.1M40.3 325.0h.1" stroke="#d23a3a" stroke-opacity="0.15" stroke-width="1.0" stroke-linecap="round" fill="none"/>
<path d="M37.0 359.6h.1M42.3 349.4h.1M49.7 336.9h.1M43.3 354.3h.1M42.9 356.4h.1M45.0 349.7h.1M44.0 352.0h.1M49.9 354.5h.1M48.2 345.9h.1M39.9 359.4h.1M45.7 342.5h.1M46.9 346.9h.1M57.7 335.6h.1M44.9 355.3h.1M44.9 344.3h.1M42.5 361.8h.1M48.0 338.1h.1M44.2 361.6h.1M51.3 334.3h.1M50.3 350.1h.1M49.0 350.9h.1M46.3 346.5h.1M45.8 361.5h.1M43.1 341.2h.1M51.6 349.3h.1M42.5 348.6h.1M46.0 349.2h.1M45.6 347.3h.1M43.9 351.8h.1M44.7 347.1h.1M42.0 358.9h.1M47.3 349.6h.1M46.3 353.4h.1M47.4 354.7h.1M46.9 361.2h.1M47.1 347.1h.1M46.8 354.5h.1M49.9 339.6h.1M40.3 350.5h.1M45.7 356.4h.1M39.7 355.9h.1M43.5 352.1h.1M49.3 344.9h.1M50.3 335.0h.1M48.7 336.5h.1M47.0 350.9h.1M47.4 353.4h.1M43.4 351.7h.1M43.3 353.8h.1M49.6 343.5h.1M45.9 350.4h.1M42.7 355.9h.1M51.5 349.2h.1M51.4 334.0h.1M46.9 346.8h.1M39.6 349.7h.1" stroke="#d23a3a" stroke-opacity="0.35" stroke-width="1.0" stroke-linecap="round" fill="none"/>
<path d="M49.6 345.5h.1M47.7 342.9h.1M52.2 340.2h.1M39.7 363.2h.1M44.8 353.3h.1M48.9 341.7h.1M44.8 352.8h.1M42.4 351.3h.1M46.2 358.7h.1M44.6 341.6h.1M38.8 355.8h.1M45.6 355.5h.1M47.0 341.0h.1M45.9 350.8h.1M43.4 350.1h.1M47.0 352.3h.1M49.2 334.2h.1M44.9 350.9h.1M46.5 346.7h.1M42.2 354.3h.1M45.5 350.8h.1M45.2 344.7h.1M49.3 343.2h.1M43.7 346.4h.1M48.6 352.6h.1M50.2 350.6h.1M49.1 340.0h.1M40.5 359.4h.1M44.8 355.4h.1M47.9 350.7h.1M45.1 350.6h.1M46.5 353.9h.1M46.8 351.6h.1M44.7 347.4h.1M40.7 356.0h.1M41.2 346.3h.1M53.2 350.1h.1M43.1 348.7h.1M49.8 350.2h.1M47.3 351.3h.1M36.2 371.5h.1M47.7 346.3h.1M43.7 352.1h.1M44.9 355.8h.1M50.4 340.2h.1M48.2 348.4h.1M49.4 339.4h.1M46.6 344.3h.1M50.0 339.9h.1M45.8 350.9h.1M44.8 344.5h.1M41.2 355.4h.1M40.4 345.0h.1M42.9 345.3h.1M50.0 346.5h.1M48.7 344.3h.1" stroke="#d23a3a" stroke-opacity="0.35" stroke-width="1.0" stroke-linecap="round" fill="none"/>
<path d="M48.5 358.4h.1M52.7 341.9h.1M40.1 356.4h.1M46.2 348.0h.1M50.4 341.6h.1M48.0 350.9h.1M49.1 345.8h.1M49.3 345.6h.1M45.3 358.9h.1M46.9 354.5h.1M55.2 331.8h.1M48.9 349.0h.1M47.0 348.1h.1M43.9 344.8h.1M43.7 360.5h.1M46.9 343.1h.1M52.2 345.4h.1M51.2 352.5h.1M40.9 355.9h.1M54.4 341.8h.1M50.8 349.7h.1M50.9 348.9h.1M40.5 351.8h.1M42.5 365.5h.1M48.5 356.6h.1M46.8 346.1h.1M47.6 343.9h.1M52.4 332.0h.1M46.5 350.0h.1M50.5 358.0h.1M43.2 353.4h.1M44.5 344.5h.1M37.1 358.0h.1M50.8 342.4h.1M43.2 356.5h.1M46.2 353.2h.1M45.6 344.7h.1M43.7 356.5h.1M47.0 341.3h.1M51.6 344.7h.1M48.1 352.8h.1M43.4 363.1h.1M45.6 356.1h.1M45.6 344.2h.1M43.4 361.3h.1M43.1 367.6h.1M46.2 351.7h.1M48.6 351.2h.1M48.8 342.7h.1M51.6 343.6h.1M51.3 340.7h.1M51.7 344.0h.1M52.7 339.8h.1M41.5 357.7h.1M43.7 349.6h.1M51.2 333.4h.1" stroke="#d23a3a" stroke-opacity="0.35" stroke-width="1.0" stroke-linecap="round" fill="none"/>
<path d="M45.6 353.3h.1M41.5 352.8h.1" stroke="#d23a3a" stroke-opacity="0.35" stroke-width="1.0" stroke-linecap="round" fill="none"/>
<path d="M43.6 325.6h.1M50.4 325.5h.1M65.5 313.5h.1M59.9 334.5h.1M33.0 324.0h.1M55.1 325.3h.1M57.6 336.4h.1M46.7 324.0h.1M32.0 338.8h.1M45.8 334.6h.1M50.4 320.3h.1M67.6 332.4h.1M55.5 319.9h.1M47.6 327.5h.1M46.2 323.7h.1M55.8 330.3h.1M53.5 325.7h.1M62.2 327.7h.1M29.9 333.3h.1M53.9 336.5h.1M49.1 329.2h.1M48.6 336.2h.1M47.2 327.3h.1M47.8 335.7h.1M44.0 320.4h.1M55.0 323.7h.1M55.6 331.5h.1M63.5 333.6h.1M47.3 330.5h.1M46.3 344.6h.1M58.7 338.0h.1M44.7 317.4h.1M63.7 326.4h.1M53.1 330.0h.1M58.1 331.7h.1M42.6 341.5h.1M46.9 328.4h.1M67.2 331.3h.1M45.0 318.7h.1M54.5 333.1h.1M48.4 322.0h.1M43.1 323.9h.1M55.6 334.8h.1M58.0 322.4h.1M55.1 333.0h.1M47.8 330.4h.1M68.5 325.5h.1M57.6 324.7h.1M48.2 318.6h.1M54.7 337.9h.1M70.6 332.1h.1M57.3 328.5h.1M47.1 330.6h.1M54.7 323.2h.1M56.7 321.0h.1M36.2 328.2h.1M36.2 325.5h.1M60.0 325.6h.1M56.4 337.0h.1M60.3 323.2h.1M62.9 328.9h.1M53.1 332.9h.1M39.4 328.7h.1M52.6 334.3h.1M48.9 330.2h.1M62.7 336.6h.1M60.8 336.2h.1M48.2 329.1h.1M53.7 327.1h.1M52.1 342.3h.1M48.2 324.2h.1M60.1 340.7h.1M55.6 337.9h.1" stroke="#d23a3a" stroke-opacity="0.3" stroke-width="1.0" stroke-linecap="round" fill="none"/>
<path d="M47.5 328.0h.1M46.5 330.9h.1M63.0 317.4h.1M61.9 318.9h.1M52.2 336.1h.1M57.4 330.1h.1M40.5 336.9h.1M50.5 349.7h.1M50.8 331.8h.1M42.2 330.0h.1M44.6 340.0h.1M51.4 334.4h.1M45.7 328.6h.1M59.4 320.1h.1M39.4 337.6h.1M42.4 330.2h.1M56.9 322.1h.1M57.0 323.1h.1M66.4 334.6h.1M47.9 329.9h.1M46.2 333.6h.1M57.2 317.3h.1M55.7 318.8h.1M41.3 320.6h.1M68.0 324.6h.1M52.2 324.9h.1M55.0 313.2h.1M57.5 344.4h.1M49.2 331.2h.1M55.1 322.8h.1M54.5 336.3h.1M54.3 331.9h.1M50.1 333.0h.1M55.9 339.4h.1M56.9 326.4h.1M35.3 341.4h.1M55.5 321.9h.1M34.2 328.0h.1M56.4 320.5h.1M49.1 332.7h.1M61.2 326.5h.1M49.9 326.7h.1M66.8 332.5h.1M47.9 321.1h.1M47.4 336.0h.1M48.7 337.8h.1M55.4 330.9h.1M58.1 331.5h.1M44.8 330.2h.1M66.7 315.7h.1M51.0 338.3h.1M48.9 325.1h.1M43.3 337.1h.1M63.0 336.4h.1M54.9 336.7h.1M44.6 333.9h.1M47.3 333.0h.1M60.2 335.0h.1M47.6 341.0h.1M46.0 324.6h.1M47.2 320.8h.1M52.7 331.9h.1M51.8 334.1h.1M49.6 330.9h.1M41.3 334.2h.1M44.5 329.4h.1M51.8 331.5h.1M35.9 324.2h.1M50.9 333.9h.1M56.8 334.9h.1M63.0 329.7h.1M49.4 323.3h.1M43.8 329.5h.1" stroke="#d23a3a" stroke-opacity="0.3" stroke-width="1.0" stroke-linecap="round" fill="none"/>
<path d="M54.5 330.7h.1M51.7 329.0h.1M57.2 329.6h.1M55.0 331.2h.1M45.4 324.7h.1M56.7 331.4h.1M49.4 327.9h.1M67.3 318.8h.1M51.0 332.3h.1M43.6 333.9h.1M67.8 331.2h.1M58.2 332.2h.1M55.1 336.0h.1M49.8 327.6h.1M54.9 335.7h.1M56.1 333.5h.1M39.6 343.4h.1M72.8 332.4h.1M47.6 325.3h.1M51.7 322.7h.1M56.2 324.6h.1M62.5 336.3h.1M37.4 337.5h.1M43.4 322.6h.1M46.8 330.2h.1M56.1 317.2h.1M64.7 340.4h.1M57.8 332.0h.1M49.1 322.3h.1M56.9 331.1h.1M63.6 344.9h.1M58.5 330.8h.1M60.5 316.9h.1M42.5 330.7h.1M48.7 336.4h.1M53.8 342.3h.1M65.3 330.9h.1M50.6 335.1h.1M55.5 320.8h.1M56.3 333.7h.1M57.4 339.7h.1M59.2 321.2h.1M50.9 324.2h.1M54.3 322.7h.1M59.9 330.0h.1M59.0 326.4h.1M45.3 345.6h.1M54.0 339.5h.1M56.8 333.3h.1M66.6 327.2h.1M59.0 316.4h.1M58.0 326.0h.1M51.0 330.4h.1M58.6 340.0h.1M38.2 335.4h.1M49.4 339.6h.1M49.9 334.2h.1M50.6 335.5h.1M58.7 324.6h.1M49.0 320.5h.1M56.3 334.8h.1M50.5 338.9h.1M32.0 323.5h.1M40.4 330.6h.1M52.0 329.4h.1M53.2 334.9h.1M45.4 323.0h.1M47.7 347.3h.1M33.9 335.3h.1M64.1 329.2h.1M45.8 332.3h.1M61.4 335.6h.1M47.1 337.5h.1" stroke="#d23a3a" stroke-opacity="0.3" stroke-width="1.0" stroke-linecap="round" fill="none"/>
<path d="M56.5 336.6h.1" stroke="#d23a3a" stroke-opacity="0.3" stroke-width="1.0" stroke-linecap="round" fill="none"/>
<path d="M93.7 321.5h.1M78.0 328.8h.1M97.0 324.9h.1M89.8 333.9h.1M80.9 330.1h.1M82.7 326.1h.1M88.1 330.7h.1M80.0 324.4h.1M77.3 329.4h.1M83.8 327.3h.1M79.4 325.3h.1M91.8 322.7h.1M90.2 326.1h.1M82.3 319.5h.1M91.9 324.1h.1M89.6 315.7h.1M74.2 319.3h.1M82.0 330.4h.1M89.2 324.0h.1M87.5 327.7h.1M84.7 327.0h.1M84.5 316.3h.1M85.2 330.8h.1M83.6 325.1h.1M82.0 324.1h.1M92.2 322.2h.1M76.9 314.6h.1M80.6 318.3h.1M76.3 330.9h.1M88.1 316.5h.1M91.4 325.5h.1M82.2 329.1h.1M75.3 322.9h.1M76.5 322.9h.1M89.7 318.5h.1M78.3 323.1h.1M86.8 323.4h.1M90.3 320.9h.1M78.0 325.1h.1M85.2 321.3h.1M89.5 331.6h.1M82.6 326.1h.1M93.1 320.4h.1M79.9 322.1h.1M88.8 326.3h.1M85.1 325.4h.1" stroke="#d23a3a" stroke-opacity="0.3" stroke-width="1.0" stroke-linecap="round" fill="none"/>
<path d="M94.2 326.3h.1M77.7 327.1h.1M87.2 327.6h.1M83.9 322.8h.1M81.3 318.8h.1M85.1 322.7h.1M87.4 320.2h.1M82.3 321.8h.1M80.3 329.3h.1M83.5 327.4h.1M79.4 327.0h.1M75.5 325.7h.1M83.4 327.9h.1M86.6 324.0h.1M90.8 324.3h.1M89.6 327.0h.1M85.0 323.9h.1M87.2 322.8h.1M89.1 328.6h.1M90.2 322.1h.1M78.2 326.7h.1M86.1 329.4h.1M83.3 324.7h.1M89.4 321.9h.1M86.5 331.7h.1M95.0 325.0h.1M86.2 320.7h.1M89.0 324.2h.1M86.4 322.5h.1M85.4 324.2h.1M89.0 329.9h.1M86.1 317.9h.1M78.4 320.3h.1M81.7 328.3h.1M87.4 322.0h.1M86.4 321.6h.1M76.0 321.7h.1M82.2 331.7h.1M79.2 331.8h.1M93.2 322.1h.1M84.7 322.6h.1M86.2 327.5h.1M86.7 328.7h.1M92.9 324.4h.1M87.5 324.1h.1M86.5 320.0h.1" stroke="#d23a3a" stroke-opacity="0.3" stroke-width="1.0" stroke-linecap="round" fill="none"/>
<path d="M88.2 325.0h.1M82.9 334.5h.1M79.1 323.0h.1M85.3 317.0h.1M79.5 320.2h.1M79.9 325.9h.1M88.6 328.6h.1M91.5 328.2h.1M88.6 322.2h.1M91.6 321.3h.1M83.7 331.7h.1M90.4 324.5h.1M90.9 327.1h.1M77.6 326.6h.1M78.9 327.2h.1M83.1 331.2h.1M87.8 320.9h.1M84.3 320.2h.1M86.4 326.9h.1M85.1 317.0h.1M84.2 327.4h.1M88.6 328.9h.1M78.7 328.9h.1M82.0 326.6h.1M88.7 326.9h.1M82.5 326.5h.1M77.4 321.2h.1M88.8 323.8h.1M75.4 324.1h.1M87.3 330.8h.1M92.5 326.3h.1M75.2 327.3h.1M88.8 325.6h.1M87.8 323.3h.1M97.3 327.8h.1M84.0 321.2h.1M96.9 319.5h.1M94.5 330.4h.1M80.4 327.5h.1M84.1 327.4h.1M89.5 331.9h.1M89.0 323.9h.1M91.8 322.1h.1M85.8 334.1h.1M80.3 324.3h.1M84.8 320.7h.1" stroke="#d23a3a" stroke-opacity="0.3" stroke-width="1.0" stroke-linecap="round" fill="none"/>
<path d="M74.5 332.2h.1M80.5 324.0h.1" stroke="#d23a3a" stroke-opacity="0.3" stroke-width="1.0" stroke-linecap="round" fill="none"/>
<path d="M45.5,338 L50,341.5 L49.2,347 L46.4,353 L43.8,358.6 L42.2,361.4 L40.6,360 L42.2,353 L44,346.5 Z" fill="#c41414" fill-opacity="0.85" filter="url(#b1)"/>
<g transform="translate(51.4,329.6) rotate(-20)" filter="url(#b1)">
<ellipse cx="0" cy="0" rx="9.00" ry="8.60" fill="#b41010"/>
<ellipse cx="0" cy="0" rx="6.75" ry="6.45" fill="#ec6a18"/>
<ellipse cx="0" cy="0" rx="5.67" ry="5.42" fill="#f2d420"/>
<ellipse cx="0" cy="0" rx="3.69" ry="3.53" fill="#5e9e34"/>
<ellipse cx="0" cy="0" rx="1.80" ry="1.72" fill="#2e56a6"/>
</g>
<g transform="translate(47.2,337.0) rotate(0)" filter="url(#b1)">
<ellipse cx="0" cy="0" rx="3.60" ry="3.00" fill="#b41010"/>
</g>
<g transform="translate(86.6,325.4) rotate(-20)" filter="url(#b1)">
<ellipse cx="0" cy="0" rx="7.00" ry="5.60" fill="#b41010"/>
<ellipse cx="0" cy="0" rx="4.34" ry="3.47" fill="#ec6a18"/>
<ellipse cx="0" cy="0" rx="2.31" ry="1.85" fill="#f2d420"/>
</g>
</g>
<line x1="67.3" y1="313.5" x2="67.3" y2="364.6" stroke="#2a2a2a" stroke-width="0.9"/>
<line x1="37.5" y1="344.5" x2="95.0" y2="344.5" stroke="#2a2a2a" stroke-width="0.9"/>
<rect x="37.5" y="313.5" width="57.5" height="51.10000000000002" fill="none" stroke="#222" stroke-width="1"/>
<line x1="37.5" y1="313.0" x2="37.5" y2="365.6" stroke="#000" stroke-width="1.5"/>
<line x1="36.5" y1="364.6" x2="95.5" y2="364.6" stroke="#000" stroke-width="1.5"/>
<line x1="37.50" y1="364.6" x2="37.50" y2="367.6" stroke="#000" stroke-width="0.7"/>
<line x1="34.5" y1="364.60" x2="37.5" y2="364.60" stroke="#000" stroke-width="0.7"/>
<line x1="41.83" y1="364.6" x2="41.83" y2="366.20000000000005" stroke="#000" stroke-width="0.7"/>
<line x1="35.9" y1="360.75" x2="37.5" y2="360.75" stroke="#000" stroke-width="0.7"/>
<line x1="44.36" y1="364.6" x2="44.36" y2="366.20000000000005" stroke="#000" stroke-width="0.7"/>
<line x1="35.9" y1="358.50" x2="37.5" y2="358.50" stroke="#000" stroke-width="0.7"/>
<line x1="46.15" y1="364.6" x2="46.15" y2="366.20000000000005" stroke="#000" stroke-width="0.7"/>
<line x1="35.9" y1="356.91" x2="37.5" y2="356.91" stroke="#000" stroke-width="0.7"/>
<line x1="47.55" y1="364.6" x2="47.55" y2="366.20000000000005" stroke="#000" stroke-width="0.7"/>
<line x1="35.9" y1="355.67" x2="37.5" y2="355.67" stroke="#000" stroke-width="0.7"/>
<line x1="48.69" y1="364.6" x2="48.69" y2="366.20000000000005" stroke="#000" stroke-width="0.7"/>
<line x1="35.9" y1="354.66" x2="37.5" y2="354.66" stroke="#000" stroke-width="0.7"/>
<line x1="49.65" y1="364.6" x2="49.65" y2="366.20000000000005" stroke="#000" stroke-width="0.7"/>
<line x1="35.9" y1="353.80" x2="37.5" y2="353.80" stroke="#000" stroke-width="0.7"/>
<line x1="50.48" y1="364.6" x2="50.48" y2="366.20000000000005" stroke="#000" stroke-width="0.7"/>
<line x1="35.9" y1="353.06" x2="37.5" y2="353.06" stroke="#000" stroke-width="0.7"/>
<line x1="51.22" y1="364.6" x2="51.22" y2="366.20000000000005" stroke="#000" stroke-width="0.7"/>
<line x1="35.9" y1="352.41" x2="37.5" y2="352.41" stroke="#000" stroke-width="0.7"/>
<line x1="51.88" y1="364.6" x2="51.88" y2="367.6" stroke="#000" stroke-width="0.7"/>
<line x1="34.5" y1="351.83" x2="37.5" y2="351.83" stroke="#000" stroke-width="0.7"/>
<line x1="56.20" y1="364.6" x2="56.20" y2="366.20000000000005" stroke="#000" stroke-width="0.7"/>
<line x1="35.9" y1="347.98" x2="37.5" y2="347.98" stroke="#000" stroke-width="0.7"/>
<line x1="58.73" y1="364.6" x2="58.73" y2="366.20000000000005" stroke="#000" stroke-width="0.7"/>
<line x1="35.9" y1="345.73" x2="37.5" y2="345.73" stroke="#000" stroke-width="0.7"/>
<line x1="60.53" y1="364.6" x2="60.53" y2="366.20000000000005" stroke="#000" stroke-width="0.7"/>
<line x1="35.9" y1="344.13" x2="37.5" y2="344.13" stroke="#000" stroke-width="0.7"/>
<line x1="61.92" y1="364.6" x2="61.92" y2="366.20000000000005" stroke="#000" stroke-width="0.7"/>
<line x1="35.9" y1="342.90" x2="37.5" y2="342.90" stroke="#000" stroke-width="0.7"/>
<line x1="63.06" y1="364.6" x2="63.06" y2="366.20000000000005" stroke="#000" stroke-width="0.7"/>
<line x1="35.9" y1="341.88" x2="37.5" y2="341.88" stroke="#000" stroke-width="0.7"/>
<line x1="64.02" y1="364.6" x2="64.02" y2="366.20000000000005" stroke="#000" stroke-width="0.7"/>
<line x1="35.9" y1="341.03" x2="37.5" y2="341.03" stroke="#000" stroke-width="0.7"/>
<line x1="64.86" y1="364.6" x2="64.86" y2="366.20000000000005" stroke="#000" stroke-width="0.7"/>
<line x1="35.9" y1="340.29" x2="37.5" y2="340.29" stroke="#000" stroke-width="0.7"/>
<line x1="65.59" y1="364.6" x2="65.59" y2="366.20000000000005" stroke="#000" stroke-width="0.7"/>
<line x1="35.9" y1="339.63" x2="37.5" y2="339.63" stroke="#000" stroke-width="0.7"/>
<line x1="66.25" y1="364.6" x2="66.25" y2="367.6" stroke="#000" stroke-width="0.7"/>
<line x1="34.5" y1="339.05" x2="37.5" y2="339.05" stroke="#000" stroke-width="0.7"/>
<line x1="70.58" y1="364.6" x2="70.58" y2="366.20000000000005" stroke="#000" stroke-width="0.7"/>
<line x1="35.9" y1="335.20" x2="37.5" y2="335.20" stroke="#000" stroke-width="0.7"/>
<line x1="73.11" y1="364.6" x2="73.11" y2="366.20000000000005" stroke="#000" stroke-width="0.7"/>
<line x1="35.9" y1="332.95" x2="37.5" y2="332.95" stroke="#000" stroke-width="0.7"/>
<line x1="74.90" y1="364.6" x2="74.90" y2="366.20000000000005" stroke="#000" stroke-width="0.7"/>
<line x1="35.9" y1="331.36" x2="37.5" y2="331.36" stroke="#000" stroke-width="0.7"/>
<line x1="76.30" y1="364.6" x2="76.30" y2="366.20000000000005" stroke="#000" stroke-width="0.7"/>
<line x1="35.9" y1="330.12" x2="37.5" y2="330.12" stroke="#000" stroke-width="0.7"/>
<line x1="77.44" y1="364.6" x2="77.44" y2="366.20000000000005" stroke="#000" stroke-width="0.7"/>
<line x1="35.9" y1="329.11" x2="37.5" y2="329.11" stroke="#000" stroke-width="0.7"/>
<line x1="78.40" y1="364.6" x2="78.40" y2="366.20000000000005" stroke="#000" stroke-width="0.7"/>
<line x1="35.9" y1="328.25" x2="37.5" y2="328.25" stroke="#000" stroke-width="0.7"/>
<line x1="79.23" y1="364.6" x2="79.23" y2="366.20000000000005" stroke="#000" stroke-width="0.7"/>
<line x1="35.9" y1="327.51" x2="37.5" y2="327.51" stroke="#000" stroke-width="0.7"/>
<line x1="79.97" y1="364.6" x2="79.97" y2="366.20000000000005" stroke="#000" stroke-width="0.7"/>
<line x1="35.9" y1="326.86" x2="37.5" y2="326.86" stroke="#000" stroke-width="0.7"/>
<line x1="80.62" y1="364.6" x2="80.62" y2="367.6" stroke="#000" stroke-width="0.7"/>
<line x1="34.5" y1="326.27" x2="37.5" y2="326.27" stroke="#000" stroke-width="0.7"/>
<line x1="84.95" y1="364.6" x2="84.95" y2="366.20000000000005" stroke="#000" stroke-width="0.7"/>
<line x1="35.9" y1="322.43" x2="37.5" y2="322.43" stroke="#000" stroke-width="0.7"/>
<line x1="87.48" y1="364.6" x2="87.48" y2="366.20000000000005" stroke="#000" stroke-width="0.7"/>
<line x1="35.9" y1="320.18" x2="37.5" y2="320.18" stroke="#000" stroke-width="0.7"/>
<line x1="89.28" y1="364.6" x2="89.28" y2="366.20000000000005" stroke="#000" stroke-width="0.7"/>
<line x1="35.9" y1="318.58" x2="37.5" y2="318.58" stroke="#000" stroke-width="0.7"/>
<line x1="90.67" y1="364.6" x2="90.67" y2="366.20000000000005" stroke="#000" stroke-width="0.7"/>
<line x1="35.9" y1="317.35" x2="37.5" y2="317.35" stroke="#000" stroke-width="0.7"/>
<line x1="91.81" y1="364.6" x2="91.81" y2="366.20000000000005" stroke="#000" stroke-width="0.7"/>
<line x1="35.9" y1="316.33" x2="37.5" y2="316.33" stroke="#000" stroke-width="0.7"/>
<line x1="92.77" y1="364.6" x2="92.77" y2="366.20000000000005" stroke="#000" stroke-width="0.7"/>
<line x1="35.9" y1="315.48" x2="37.5" y2="315.48" stroke="#000" stroke-width="0.7"/>
<line x1="93.61" y1="364.6" x2="93.61" y2="366.20000000000005" stroke="#000" stroke-width="0.7"/>
<line x1="35.9" y1="314.74" x2="37.5" y2="314.74" stroke="#000" stroke-width="0.7"/>
<line x1="94.34" y1="364.6" x2="94.34" y2="366.20000000000005" stroke="#000" stroke-width="0.7"/>
<line x1="35.9" y1="314.08" x2="37.5" y2="314.08" stroke="#000" stroke-width="0.7"/>
<line x1="95.00" y1="364.6" x2="95.00" y2="367.6" stroke="#000" stroke-width="0.7"/>
<line x1="34.5" y1="313.50" x2="37.5" y2="313.50" stroke="#000" stroke-width="0.7"/>
<text x="37.50" y="376.40" font-size="6.2" text-anchor="middle" fill="#333">10<tspan font-size="4" dy="-2.6">0</tspan></text>
<text x="26.60" y="368.10" font-size="6.2" text-anchor="middle" fill="#333">10<tspan font-size="4" dy="-2.6">0</tspan></text>
<text x="51.88" y="376.40" font-size="6.2" text-anchor="middle" fill="#333">10<tspan font-size="4" dy="-2.6">1</tspan></text>
<text x="26.60" y="355.33" font-size="6.2" text-anchor="middle" fill="#333">10<tspan font-size="4" dy="-2.6">1</tspan></text>
<text x="66.25" y="376.40" font-size="6.2" text-anchor="middle" fill="#333">10<tspan font-size="4" dy="-2.6">2</tspan></text>
<text x="26.60" y="342.55" font-size="6.2" text-anchor="middle" fill="#333">10<tspan font-size="4" dy="-2.6">2</tspan></text>
<text x="80.62" y="376.40" font-size="6.2" text-anchor="middle" fill="#333">10<tspan font-size="4" dy="-2.6">3</tspan></text>
<text x="26.60" y="329.77" font-size="6.2" text-anchor="middle" fill="#333">10<tspan font-size="4" dy="-2.6">3</tspan></text>
<text x="95.00" y="376.40" font-size="6.2" text-anchor="middle" fill="#333">10<tspan font-size="4" dy="-2.6">4</tspan></text>
<text x="26.60" y="317.00" font-size="6.2" text-anchor="middle" fill="#333">10<tspan font-size="4" dy="-2.6">4</tspan></text>
<text x="66.25" y="309.90" font-size="6.6" text-anchor="middle" font-weight="normal" fill="#222" >MP-A08</text>
<text x="55.40" y="363.20" font-size="5.8" text-anchor="start" font-weight="normal" fill="#141830" stroke-width="0.45" stroke="#141830">9.8%</text>
<clipPath id="cp114313"><rect x="114.0" y="313.5" width="57.80000000000001" height="51.10000000000002"/></clipPath>
<g clip-path="url(#cp114313)">
<path d="M147.7 321.3h.1M140.7 326.5h.1M175.4 329.0h.1M158.9 319.0h.1M151.2 320.4h.1M159.1 324.7h.1M151.8 325.3h.1M145.6 318.9h.1M157.2 319.5h.1M139.6 324.4h.1M144.3 326.9h.1M161.5 326.9h.1M153.4 325.8h.1M160.0 317.4h.1M155.1 321.5h.1M139.1 325.8h.1M147.5 328.4h.1M162.4 315.3h.1M150.7 334.5h.1M160.1 332.2h.1M152.4 319.3h.1M140.2 328.9h.1M161.0 322.4h.1M148.7 326.9h.1M133.9 324.2h.1M167.6 335.6h.1M150.3 334.0h.1M146.2 322.1h.1M129.0 330.0h.1M147.7 336.3h.1M154.7 326.6h.1M133.4 332.5h.1M147.8 325.0h.1M129.4 329.9h.1M161.3 323.0h.1M152.4 327.5h.1M161.1 326.2h.1M168.7 324.7h.1M145.4 323.6h.1M126.1 322.1h.1M161.5 326.9h.1M143.3 327.3h.1M131.3 324.5h.1M156.7 328.9h.1M143.7 329.9h.1M170.2 323.8h.1M158.9 318.7h.1M131.8 328.5h.1M151.9 326.7h.1M145.6 324.4h.1M159.6 333.5h.1M149.3 318.3h.1M164.2 328.5h.1M158.3 326.6h.1M174.7 326.1h.1M156.6 317.4h.1M145.7 322.7h.1M151.2 327.3h.1M144.0 333.6h.1M140.8 323.7h.1M153.9 320.1h.1M157.2 328.6h.1M148.6 334.4h.1M152.3 327.0h.1M141.9 318.2h.1M145.2 324.3h.1M146.9 329.2h.1M127.6 320.7h.1M133.2 331.8h.1M145.8 323.5h.1M140.5 329.8h.1M147.4 326.8h.1M131.1 331.0h.1M155.4 328.3h.1M163.9 324.9h.1M149.8 329.0h.1M155.8 324.7h.1M151.9 323.5h.1M158.7 330.0h.1M151.6 334.2h.1M136.1 324.7h.1M168.7 323.9h.1M135.5 332.1h.1M157.0 320.4h.1M159.3 321.2h.1M138.1 325.1h.1M146.7 320.8h.1M147.9 321.3h.1M152.1 325.7h.1M159.0 323.7h.1M138.2 319.8h.1M149.1 332.7h.1M160.0 322.9h.1M161.0 320.6h.1M161.7 324.1h.1M159.2 328.6h.1M148.7 327.3h.1M140.8 325.5h.1M162.4 344.3h.1M158.6 326.2h.1M141.4 330.6h.1M134.9 322.2h.1M155.1 320.4h.1M167.0 330.7h.1M145.8 323.3h.1M138.3 319.5h.1" stroke="#d23a3a" stroke-opacity="0.28" stroke-width="1.0" stroke-linecap="round" fill="none"/>
<path d="M156.0 328.6h.1M155.1 327.0h.1M145.9 327.4h.1M136.8 325.8h.1M166.3 331.8h.1M146.9 324.3h.1M165.4 333.9h.1M136.5 323.9h.1M153.9 331.3h.1M143.1 328.7h.1M148.5 336.5h.1M155.9 325.2h.1M148.2 330.6h.1M158.4 320.9h.1M153.7 319.7h.1M144.0 319.9h.1M138.2 322.7h.1M141.7 328.2h.1M159.5 324.7h.1M140.3 329.4h.1M131.2 317.1h.1M158.9 328.8h.1M161.3 324.8h.1M138.9 323.5h.1M157.2 322.3h.1M144.5 319.5h.1M139.9 329.6h.1M156.1 320.5h.1M140.7 323.3h.1M157.1 320.5h.1M149.9 316.1h.1M138.9 327.7h.1M160.6 320.6h.1M143.8 329.4h.1M147.6 323.4h.1M156.8 326.7h.1M162.7 329.4h.1M145.8 325.3h.1M151.0 319.7h.1M141.8 330.2h.1M135.6 330.3h.1M154.4 325.2h.1M157.0 328.0h.1M163.7 324.0h.1M149.3 324.7h.1M170.5 330.1h.1M142.3 324.3h.1M144.5 325.9h.1M153.7 336.2h.1M133.3 330.5h.1M156.0 322.6h.1M150.1 323.6h.1M152.1 330.4h.1M136.4 331.8h.1M147.9 332.6h.1M155.7 331.4h.1M157.3 330.7h.1M152.2 322.1h.1M158.4 329.0h.1M172.7 316.8h.1M149.7 330.6h.1M139.1 324.8h.1M172.9 332.2h.1M142.8 332.3h.1M163.5 329.4h.1M155.5 326.9h.1M143.0 323.5h.1M159.0 326.5h.1M170.2 324.4h.1M127.6 324.4h.1M154.5 327.6h.1M152.4 322.2h.1M166.7 322.9h.1M158.8 324.6h.1M139.7 332.2h.1M126.6 322.0h.1M156.1 324.3h.1M159.3 325.4h.1M147.2 335.6h.1M149.6 325.2h.1M140.9 322.5h.1M158.3 328.4h.1M151.8 322.7h.1M158.7 318.2h.1M148.4 324.8h.1M143.3 326.6h.1M145.1 322.3h.1M169.9 329.3h.1M163.8 326.2h.1M161.5 329.5h.1M164.0 336.6h.1M149.6 327.1h.1M151.4 310.1h.1M137.9 326.0h.1M158.2 323.4h.1M163.3 331.7h.1M147.8 332.4h.1M169.5 328.1h.1M142.1 332.6h.1M150.3 324.3h.1M153.1 323.6h.1M162.7 329.5h.1M164.2 328.6h.1M144.1 325.3h.1M160.8 324.2h.1M181.2 324.9h.1" stroke="#d23a3a" stroke-opacity="0.28" stroke-width="1.0" stroke-linecap="round" fill="none"/>
<path d="M146.1 331.2h.1M159.5 325.9h.1M149.7 327.9h.1M160.4 329.4h.1M149.0 327.9h.1M160.4 329.4h.1M121.1 322.0h.1M144.2 325.0h.1M153.8 330.1h.1M158.2 325.4h.1M152.2 333.9h.1M145.9 327.4h.1M167.7 327.6h.1M131.6 327.7h.1M148.1 325.5h.1M162.5 328.1h.1M149.4 330.0h.1M156.4 326.5h.1M155.0 327.1h.1M148.6 323.9h.1M152.3 321.7h.1M139.4 331.9h.1M149.6 325.9h.1M150.6 326.1h.1M152.2 326.3h.1M144.0 330.2h.1M145.1 330.7h.1M132.8 321.2h.1M161.9 325.3h.1M145.3 327.7h.1M141.5 326.3h.1M129.8 324.0h.1M145.5 328.4h.1M160.8 322.2h.1M168.1 323.3h.1M131.4 315.3h.1M167.4 325.6h.1M145.5 322.6h.1M141.1 332.1h.1M151.2 334.1h.1M150.0 315.4h.1M160.4 324.3h.1M149.6 333.1h.1M149.4 331.2h.1M152.0 322.6h.1M157.1 323.3h.1M164.3 330.3h.1M152.6 328.7h.1M157.6 324.8h.1M161.0 325.0h.1M158.2 321.7h.1M153.0 327.9h.1M144.1 324.1h.1M146.7 329.3h.1M144.8 328.0h.1M167.3 327.6h.1M135.9 326.6h.1M162.5 324.7h.1M163.2 328.8h.1M156.3 324.9h.1M147.0 324.9h.1M152.7 328.4h.1M156.3 324.7h.1M152.8 327.8h.1M135.9 322.6h.1M144.1 325.1h.1M149.4 324.9h.1M143.4 329.1h.1M154.9 318.7h.1M152.3 321.0h.1M169.2 324.0h.1M148.2 326.4h.1M150.2 325.8h.1M167.6 327.1h.1M160.5 331.1h.1M142.4 333.7h.1M159.1 330.4h.1M143.5 329.8h.1M156.3 323.7h.1M175.0 328.6h.1M149.8 327.0h.1M161.3 331.2h.1M158.0 331.6h.1M166.9 320.5h.1M147.3 321.9h.1M153.2 332.6h.1M158.7 321.4h.1M149.3 330.7h.1M146.9 325.7h.1M155.2 317.9h.1M160.0 327.6h.1M157.9 321.7h.1M144.5 323.4h.1M154.7 326.4h.1M153.5 334.2h.1M165.3 322.9h.1M145.7 333.8h.1M149.0 332.3h.1M168.2 323.6h.1M149.5 326.5h.1M143.6 321.7h.1M148.2 329.9h.1M147.7 325.2h.1M147.5 319.9h.1M167.0 315.5h.1M145.7 328.6h.1" stroke="#d23a3a" stroke-opacity="0.28" stroke-width="1.0" stroke-linecap="round" fill="none"/>
<path d="M138.2 328.8h.1M164.7 322.2h.1" stroke="#d23a3a" stroke-opacity="0.28" stroke-width="1.0" stroke-linecap="round" fill="none"/>
<path d="M128.8 320.2h.1M131.2 324.4h.1M128.9 328.8h.1M130.9 328.8h.1M132.2 319.9h.1M129.2 325.8h.1M115.6 328.7h.1M127.7 325.4h.1M120.0 324.3h.1M129.6 322.9h.1M127.8 316.6h.1M138.0 320.2h.1M109.7 320.7h.1M120.5 326.0h.1M119.8 325.1h.1M119.5 331.8h.1M131.5 330.9h.1M119.0 326.4h.1M119.5 326.1h.1M132.6 318.5h.1M118.0 320.0h.1M115.1 321.5h.1M119.4 319.0h.1M127.9 326.0h.1M116.6 322.1h.1M127.2 323.2h.1M121.5 326.9h.1M133.9 326.4h.1M125.4 331.0h.1M141.0 322.6h.1M126.1 328.2h.1M120.7 325.4h.1M127.5 321.6h.1M125.2 318.5h.1M122.7 317.1h.1M145.3 329.3h.1M136.9 325.1h.1M135.1 328.5h.1M135.2 327.2h.1M119.8 325.5h.1M122.8 319.9h.1M117.9 325.5h.1M135.5 319.2h.1M141.0 329.2h.1M124.0 322.4h.1M126.4 327.4h.1" stroke="#d23a3a" stroke-opacity="0.2" stroke-width="1.0" stroke-linecap="round" fill="none"/>
<path d="M124.0 320.1h.1M129.8 316.8h.1M128.1 328.1h.1M129.5 326.7h.1M131.0 326.6h.1M128.2 321.1h.1M125.2 323.7h.1M137.1 329.7h.1M130.4 321.4h.1M121.2 323.3h.1M138.1 325.2h.1M126.6 321.3h.1M134.1 325.0h.1M126.6 324.4h.1M140.5 323.4h.1M140.5 328.3h.1M127.4 327.1h.1M126.0 321.1h.1M124.9 320.8h.1M131.1 324.1h.1M131.5 326.9h.1M102.0 325.1h.1M112.6 324.6h.1M120.0 324.4h.1M137.9 318.0h.1M128.5 323.7h.1M111.9 326.3h.1M127.3 322.2h.1M121.2 335.2h.1M123.8 317.7h.1M119.6 322.7h.1M123.9 323.7h.1M118.6 325.9h.1M123.1 319.2h.1M120.5 322.7h.1M133.8 325.7h.1M124.3 324.1h.1M128.7 331.1h.1M122.1 325.6h.1M132.8 320.7h.1M128.5 324.6h.1M123.2 326.0h.1M135.2 328.0h.1M125.5 324.7h.1M145.8 320.1h.1M128.8 327.1h.1" stroke="#d23a3a" stroke-opacity="0.2" stroke-width="1.0" stroke-linecap="round" fill="none"/>
<path d="M128.2 326.3h.1M128.4 326.6h.1M137.3 323.2h.1M128.6 323.8h.1M123.8 323.9h.1M117.9 326.6h.1M140.6 330.0h.1M137.2 320.6h.1M139.2 321.5h.1M126.6 330.5h.1M118.4 326.9h.1M129.3 323.5h.1M120.0 325.5h.1M123.3 327.7h.1M136.8 319.2h.1M123.0 322.9h.1M117.5 320.1h.1M127.7 323.3h.1M113.8 322.1h.1M131.2 319.8h.1M119.6 329.6h.1M137.5 318.3h.1M116.2 325.3h.1M117.5 323.1h.1M123.4 326.0h.1M106.8 316.3h.1M117.2 327.5h.1M125.8 318.0h.1M130.9 326.5h.1M125.0 322.8h.1M130.5 328.2h.1M128.2 325.9h.1M126.6 322.7h.1M119.7 324.9h.1M124.6 323.1h.1M134.4 325.7h.1M134.0 318.5h.1M131.5 321.9h.1M120.5 321.0h.1M136.7 326.9h.1M121.3 320.0h.1M127.1 322.4h.1M140.3 318.9h.1M112.4 323.1h.1M127.1 324.5h.1M133.0 331.3h.1" stroke="#d23a3a" stroke-opacity="0.2" stroke-width="1.0" stroke-linecap="round" fill="none"/>
<path d="M124.3 322.1h.1M112.9 324.9h.1" stroke="#d23a3a" stroke-opacity="0.2" stroke-width="1.0" stroke-linecap="round" fill="none"/>
<path d="M131.1 335.0h.1M133.1 336.1h.1M135.1 337.3h.1M119.7 333.5h.1M116.8 329.1h.1M127.6 339.5h.1M137.7 335.8h.1M124.6 331.6h.1" stroke="#d23a3a" stroke-opacity="0.12" stroke-width="1.0" stroke-linecap="round" fill="none"/>
<path d="M131.9 337.6h.1M122.4 338.8h.1M129.4 328.5h.1M130.5 336.5h.1M123.7 334.3h.1M136.5 342.1h.1M137.0 331.4h.1M122.1 339.6h.1" stroke="#d23a3a" stroke-opacity="0.12" stroke-width="1.0" stroke-linecap="round" fill="none"/>
<path d="M118.7 333.1h.1M115.2 343.4h.1M132.4 337.8h.1M127.3 334.3h.1M123.6 338.5h.1M121.7 340.9h.1M123.0 332.5h.1M133.8 335.4h.1" stroke="#d23a3a" stroke-opacity="0.12" stroke-width="1.0" stroke-linecap="round" fill="none"/>
<path d="M129.3 334.3h.1" stroke="#d23a3a" stroke-opacity="0.12" stroke-width="1.0" stroke-linecap="round" fill="none"/>
<path d="M158.2 325.4h.1M161.0 326.7h.1M160.3 319.3h.1M165.9 325.1h.1M165.3 321.0h.1M167.7 320.3h.1M163.6 322.0h.1M163.9 326.1h.1M163.1 325.4h.1M167.1 319.7h.1M161.5 323.0h.1M163.2 324.8h.1M159.2 325.8h.1M167.2 323.6h.1M160.9 324.0h.1M163.4 325.4h.1M164.7 325.8h.1M163.7 327.6h.1M158.1 321.5h.1M166.5 320.2h.1M167.2 321.0h.1M165.3 321.7h.1M163.7 324.4h.1M164.7 323.0h.1M171.5 324.0h.1M162.1 326.3h.1M167.5 327.1h.1M170.4 321.7h.1M168.2 326.8h.1M165.0 324.6h.1M156.0 322.6h.1M170.4 319.5h.1M163.4 324.7h.1M166.7 328.1h.1M159.7 324.1h.1M167.6 320.7h.1M164.9 328.7h.1M168.9 325.3h.1M157.2 323.7h.1M166.2 323.2h.1" stroke="#d23a3a" stroke-opacity="0.4" stroke-width="1.0" stroke-linecap="round" fill="none"/>
<path d="M164.8 331.7h.1M164.4 321.6h.1M165.7 323.2h.1M164.1 323.8h.1M167.3 324.6h.1M161.4 323.7h.1M166.4 322.8h.1M168.4 325.9h.1M162.0 324.8h.1M171.0 327.9h.1M164.8 326.2h.1M163.0 320.4h.1M166.7 324.6h.1M166.5 323.9h.1M166.0 322.7h.1M166.4 326.1h.1M164.8 326.0h.1M159.7 322.0h.1M169.3 328.4h.1M165.8 323.7h.1M161.2 324.9h.1M167.3 320.3h.1M166.7 325.2h.1M166.3 321.2h.1M166.6 320.3h.1M169.5 324.3h.1M161.5 327.4h.1M168.5 322.4h.1M171.6 321.5h.1M165.9 327.0h.1M158.2 326.5h.1M164.8 324.0h.1M161.8 324.8h.1M161.7 321.6h.1M163.7 320.9h.1M169.7 320.7h.1M162.7 323.2h.1M165.0 326.0h.1M167.5 323.2h.1M163.8 324.1h.1" stroke="#d23a3a" stroke-opacity="0.4" stroke-width="1.0" stroke-linecap="round" fill="none"/>
<path d="M167.5 325.7h.1M163.5 318.9h.1M171.4 326.4h.1M165.8 324.9h.1M163.4 321.5h.1M164.0 323.4h.1M163.1 320.4h.1M164.1 325.4h.1M163.5 324.1h.1M158.8 323.5h.1M164.6 320.9h.1M159.8 325.0h.1M162.6 325.2h.1M163.7 325.6h.1M164.0 320.2h.1M164.7 323.2h.1M167.0 322.9h.1M163.8 326.1h.1M168.5 325.9h.1M168.1 325.1h.1M167.3 326.2h.1M166.2 324.2h.1M165.4 330.0h.1M165.0 323.4h.1M163.9 323.9h.1M165.7 321.2h.1M159.1 324.7h.1M160.2 324.6h.1M165.4 326.9h.1M170.0 324.9h.1M163.3 321.1h.1M162.6 324.1h.1M158.8 324.2h.1M165.0 325.6h.1M164.0 324.3h.1M162.8 322.8h.1M159.7 324.3h.1M169.6 324.4h.1M166.1 321.5h.1M169.3 322.1h.1" stroke="#d23a3a" stroke-opacity="0.4" stroke-width="1.0" stroke-linecap="round" fill="none"/>
<path d="M128.7 349.0h.1M127.5 358.9h.1M126.8 352.4h.1M127.2 350.1h.1M126.8 354.9h.1M125.1 353.8h.1M118.0 350.5h.1M122.0 353.3h.1M130.9 355.3h.1M121.7 359.3h.1M115.4 358.1h.1M115.3 347.6h.1M121.3 360.1h.1M125.8 351.4h.1M132.5 361.5h.1M122.0 350.2h.1M133.3 346.9h.1M129.8 356.9h.1M129.1 353.2h.1M122.5 348.1h.1M129.4 348.5h.1M120.0 353.9h.1M127.2 347.0h.1M128.8 353.7h.1M120.1 347.1h.1M131.7 352.1h.1M135.1 353.1h.1M130.2 352.7h.1M129.4 344.7h.1M138.1 349.9h.1M135.8 354.1h.1M124.8 346.0h.1M130.6 348.3h.1M127.8 350.7h.1M132.2 348.0h.1M126.0 356.2h.1M125.1 346.9h.1M123.2 352.7h.1M125.7 355.5h.1M136.7 353.3h.1" stroke="#d23a3a" stroke-opacity="0.25" stroke-width="1.0" stroke-linecap="round" fill="none"/>
<path d="M133.6 350.0h.1M134.7 351.1h.1M127.8 355.5h.1M126.4 350.3h.1M122.6 352.4h.1M120.2 349.6h.1M127.4 349.8h.1M127.7 352.5h.1M125.7 347.3h.1M119.1 347.8h.1M111.7 355.5h.1M122.9 340.5h.1M133.4 354.3h.1M131.4 358.5h.1M135.2 347.1h.1M135.4 344.1h.1M126.1 356.5h.1M119.4 350.1h.1M131.8 363.9h.1M124.4 354.1h.1M124.7 355.1h.1M123.7 351.8h.1M116.8 352.9h.1M125.1 355.9h.1M136.4 346.5h.1M133.3 345.9h.1M120.4 348.5h.1M117.3 345.8h.1M131.9 357.9h.1M131.7 353.9h.1M119.4 349.6h.1M123.1 352.8h.1M137.7 352.7h.1M122.6 354.0h.1M124.3 351.6h.1M123.0 357.3h.1M128.8 351.6h.1M122.2 356.6h.1M124.9 361.7h.1M122.1 355.4h.1" stroke="#d23a3a" stroke-opacity="0.25" stroke-width="1.0" stroke-linecap="round" fill="none"/>
<path d="M122.5 352.1h.1M115.9 351.2h.1M132.2 345.6h.1M135.6 356.9h.1M128.2 354.0h.1M131.1 355.3h.1M128.9 350.8h.1M126.6 353.8h.1M121.1 341.2h.1M124.1 351.3h.1M117.3 347.5h.1M124.9 346.5h.1M123.5 351.4h.1M119.6 357.5h.1M117.1 356.8h.1M125.3 353.2h.1M125.8 351.3h.1M134.1 344.5h.1M120.2 355.2h.1M123.6 354.1h.1M121.0 352.0h.1M131.1 345.3h.1M124.2 352.6h.1M131.3 356.8h.1M132.2 353.2h.1M118.6 365.7h.1M137.4 353.3h.1M119.3 346.9h.1M125.5 347.8h.1M118.6 357.5h.1M134.2 351.1h.1M124.0 346.0h.1M128.7 338.3h.1M120.1 348.1h.1M131.9 347.8h.1M129.2 348.6h.1M126.8 352.7h.1M124.9 362.5h.1M127.3 347.1h.1M127.5 352.9h.1" stroke="#d23a3a" stroke-opacity="0.25" stroke-width="1.0" stroke-linecap="round" fill="none"/>
<g transform="translate(124.3,355.2) rotate(-55)" filter="url(#b1)">
<ellipse cx="0" cy="0" rx="8.20" ry="3.80" fill="#b41010"/>
<ellipse cx="0" cy="0" rx="6.23" ry="2.89" fill="#ec6a18"/>
<ellipse cx="0" cy="0" rx="4.92" ry="2.28" fill="#f2d420"/>
<ellipse cx="0" cy="0" rx="3.12" ry="1.44" fill="#5e9e34"/>
</g>
<g transform="translate(164.8,324.2) rotate(-10)" filter="url(#b1)">
<ellipse cx="0" cy="0" rx="3.40" ry="2.50" fill="#c41616"/>
</g>
<path d="M168.7 325.1h.1M163.2 323.4h.1M157.8 323.6h.1M163.4 324.0h.1M163.6 326.3h.1M164.7 325.1h.1M165.5 324.8h.1M163.2 325.7h.1M157.4 328.1h.1M158.9 327.0h.1M163.5 327.2h.1M163.1 322.3h.1M167.0 324.7h.1M163.6 324.8h.1M166.8 326.3h.1M163.7 320.8h.1M161.8 325.0h.1M169.5 325.0h.1M163.1 327.5h.1M162.8 324.6h.1M163.4 321.0h.1M166.6 325.3h.1M162.0 322.0h.1M164.2 327.9h.1M160.7 322.3h.1M164.3 320.7h.1M155.4 324.2h.1M160.7 324.2h.1M161.4 325.6h.1M162.3 323.3h.1M161.7 326.3h.1M166.7 326.5h.1M165.0 316.5h.1M159.7 324.2h.1M163.6 320.7h.1M168.2 324.9h.1M161.1 325.2h.1M161.9 322.9h.1M164.9 323.4h.1M158.2 323.5h.1M162.6 322.1h.1M167.4 321.6h.1M169.5 326.2h.1M160.0 325.2h.1M167.3 323.8h.1M159.1 325.3h.1M169.9 320.5h.1M165.2 324.5h.1M162.7 323.7h.1M162.3 327.2h.1M165.1 322.1h.1M168.4 321.1h.1M165.6 324.9h.1M167.5 325.1h.1M166.9 324.3h.1M166.7 325.2h.1M170.6 322.3h.1M167.5 325.4h.1M163.8 323.2h.1M164.5 321.0h.1M158.6 326.8h.1M158.1 328.6h.1M162.4 325.3h.1M163.6 325.6h.1M162.2 323.9h.1M163.1 327.2h.1" stroke="#d23a3a" stroke-opacity="0.35" stroke-width="1.0" stroke-linecap="round" fill="none"/>
<path d="M167.5 327.4h.1M164.5 324.1h.1M157.6 326.7h.1M166.1 323.4h.1M166.4 327.5h.1M163.8 327.2h.1M164.0 320.4h.1M161.5 323.8h.1M164.9 322.4h.1M161.6 322.5h.1M163.2 324.8h.1M166.8 326.3h.1M163.9 325.2h.1M163.7 324.9h.1M168.2 318.2h.1M162.7 325.5h.1M167.0 321.7h.1M164.7 326.6h.1M161.3 320.2h.1M161.8 321.9h.1M165.4 322.4h.1M169.5 324.5h.1M160.4 323.7h.1M159.6 325.9h.1M168.4 323.7h.1M166.3 322.1h.1M164.8 330.1h.1M158.6 328.0h.1M167.0 319.8h.1M158.1 322.8h.1M166.6 323.3h.1M162.8 326.4h.1M163.7 325.2h.1M162.4 327.4h.1M160.9 328.9h.1M161.9 322.9h.1M165.6 325.5h.1M156.4 325.8h.1M158.4 323.1h.1M165.8 322.4h.1M164.4 323.6h.1M170.0 323.8h.1M158.9 322.4h.1M160.1 325.2h.1M163.5 327.0h.1M163.9 324.9h.1M164.4 324.2h.1M164.4 326.4h.1M165.9 323.1h.1M156.9 323.2h.1M163.7 318.6h.1M161.7 325.9h.1M161.0 322.1h.1M169.6 327.4h.1M162.6 327.9h.1M167.5 321.5h.1M172.4 321.6h.1M162.1 322.1h.1M163.2 321.5h.1M163.4 327.2h.1M163.9 323.9h.1M168.4 322.0h.1M166.5 323.6h.1M164.0 324.6h.1M163.6 324.4h.1M160.3 323.5h.1" stroke="#d23a3a" stroke-opacity="0.35" stroke-width="1.0" stroke-linecap="round" fill="none"/>
<path d="M164.7 324.2h.1M159.0 323.3h.1M160.7 324.7h.1M163.8 324.8h.1M160.9 324.8h.1M157.8 318.1h.1M162.6 320.6h.1M159.6 322.0h.1M165.1 321.5h.1M164.0 323.3h.1M158.5 321.2h.1M164.8 325.3h.1M166.2 328.7h.1M164.1 325.1h.1M162.7 324.8h.1M161.7 322.5h.1M169.6 319.5h.1M164.0 325.5h.1M163.4 322.2h.1M162.3 323.5h.1M159.3 324.7h.1M161.5 323.3h.1M165.2 321.8h.1M164.4 322.9h.1M164.5 324.5h.1M163.6 322.1h.1M160.1 322.7h.1M163.8 326.2h.1M166.6 323.0h.1M162.9 320.6h.1M155.1 323.1h.1M160.3 321.0h.1M156.9 326.3h.1M159.8 320.7h.1M171.1 324.2h.1M162.0 326.2h.1M160.6 328.5h.1M157.3 321.8h.1M162.3 322.7h.1M167.5 320.2h.1M160.4 325.2h.1M165.1 326.7h.1M164.6 329.6h.1M161.3 325.0h.1M165.8 323.4h.1M161.8 323.4h.1M160.4 321.9h.1M160.6 320.9h.1M163.9 320.5h.1M170.4 327.8h.1M166.6 323.6h.1M161.1 327.5h.1M163.6 325.7h.1M160.6 327.2h.1M160.1 324.9h.1M156.7 323.4h.1M164.5 323.2h.1M161.4 326.4h.1M162.8 327.4h.1M154.5 326.5h.1M164.3 320.6h.1M158.5 326.9h.1M159.0 323.2h.1M164.8 323.4h.1M164.3 322.2h.1M164.1 326.9h.1" stroke="#d23a3a" stroke-opacity="0.35" stroke-width="1.0" stroke-linecap="round" fill="none"/>
<path d="M163.5 319.1h.1M165.1 324.3h.1" stroke="#d23a3a" stroke-opacity="0.35" stroke-width="1.0" stroke-linecap="round" fill="none"/>
</g>
<line x1="143.6" y1="313.5" x2="143.6" y2="364.6" stroke="#2a2a2a" stroke-width="0.9"/>
<line x1="114.0" y1="344.5" x2="171.8" y2="344.5" stroke="#2a2a2a" stroke-width="0.9"/>
<rect x="114.0" y="313.5" width="57.80000000000001" height="51.10000000000002" fill="none" stroke="#222" stroke-width="1"/>
<line x1="114.0" y1="313.0" x2="114.0" y2="365.6" stroke="#000" stroke-width="1.5"/>
<line x1="113.0" y1="364.6" x2="172.3" y2="364.6" stroke="#000" stroke-width="1.5"/>
<line x1="114.00" y1="364.6" x2="114.00" y2="367.6" stroke="#000" stroke-width="0.7"/>
<line x1="111.0" y1="364.60" x2="114.0" y2="364.60" stroke="#000" stroke-width="0.7"/>
<line x1="118.35" y1="364.6" x2="118.35" y2="366.20000000000005" stroke="#000" stroke-width="0.7"/>
<line x1="112.4" y1="360.75" x2="114.0" y2="360.75" stroke="#000" stroke-width="0.7"/>
<line x1="120.89" y1="364.6" x2="120.89" y2="366.20000000000005" stroke="#000" stroke-width="0.7"/>
<line x1="112.4" y1="358.50" x2="114.0" y2="358.50" stroke="#000" stroke-width="0.7"/>
<line x1="122.70" y1="364.6" x2="122.70" y2="366.20000000000005" stroke="#000" stroke-width="0.7"/>
<line x1="112.4" y1="356.91" x2="114.0" y2="356.91" stroke="#000" stroke-width="0.7"/>
<line x1="124.10" y1="364.6" x2="124.10" y2="366.20000000000005" stroke="#000" stroke-width="0.7"/>
<line x1="112.4" y1="355.67" x2="114.0" y2="355.67" stroke="#000" stroke-width="0.7"/>
<line x1="125.24" y1="364.6" x2="125.24" y2="366.20000000000005" stroke="#000" stroke-width="0.7"/>
<line x1="112.4" y1="354.66" x2="114.0" y2="354.66" stroke="#000" stroke-width="0.7"/>
<line x1="126.21" y1="364.6" x2="126.21" y2="366.20000000000005" stroke="#000" stroke-width="0.7"/>
<line x1="112.4" y1="353.80" x2="114.0" y2="353.80" stroke="#000" stroke-width="0.7"/>
<line x1="127.05" y1="364.6" x2="127.05" y2="366.20000000000005" stroke="#000" stroke-width="0.7"/>
<line x1="112.4" y1="353.06" x2="114.0" y2="353.06" stroke="#000" stroke-width="0.7"/>
<line x1="127.79" y1="364.6" x2="127.79" y2="366.20000000000005" stroke="#000" stroke-width="0.7"/>
<line x1="112.4" y1="352.41" x2="114.0" y2="352.41" stroke="#000" stroke-width="0.7"/>
<line x1="128.45" y1="364.6" x2="128.45" y2="367.6" stroke="#000" stroke-width="0.7"/>
<line x1="111.0" y1="351.83" x2="114.0" y2="351.83" stroke="#000" stroke-width="0.7"/>
<line x1="132.80" y1="364.6" x2="132.80" y2="366.20000000000005" stroke="#000" stroke-width="0.7"/>
<line x1="112.4" y1="347.98" x2="114.0" y2="347.98" stroke="#000" stroke-width="0.7"/>
<line x1="135.34" y1="364.6" x2="135.34" y2="366.20000000000005" stroke="#000" stroke-width="0.7"/>
<line x1="112.4" y1="345.73" x2="114.0" y2="345.73" stroke="#000" stroke-width="0.7"/>
<line x1="137.15" y1="364.6" x2="137.15" y2="366.20000000000005" stroke="#000" stroke-width="0.7"/>
<line x1="112.4" y1="344.13" x2="114.0" y2="344.13" stroke="#000" stroke-width="0.7"/>
<line x1="138.55" y1="364.6" x2="138.55" y2="366.20000000000005" stroke="#000" stroke-width="0.7"/>
<line x1="112.4" y1="342.90" x2="114.0" y2="342.90" stroke="#000" stroke-width="0.7"/>
<line x1="139.69" y1="364.6" x2="139.69" y2="366.20000000000005" stroke="#000" stroke-width="0.7"/>
<line x1="112.4" y1="341.88" x2="114.0" y2="341.88" stroke="#000" stroke-width="0.7"/>
<line x1="140.66" y1="364.6" x2="140.66" y2="366.20000000000005" stroke="#000" stroke-width="0.7"/>
<line x1="112.4" y1="341.03" x2="114.0" y2="341.03" stroke="#000" stroke-width="0.7"/>
<line x1="141.50" y1="364.6" x2="141.50" y2="366.20000000000005" stroke="#000" stroke-width="0.7"/>
<line x1="112.4" y1="340.29" x2="114.0" y2="340.29" stroke="#000" stroke-width="0.7"/>
<line x1="142.24" y1="364.6" x2="142.24" y2="366.20000000000005" stroke="#000" stroke-width="0.7"/>
<line x1="112.4" y1="339.63" x2="114.0" y2="339.63" stroke="#000" stroke-width="0.7"/>
<line x1="142.90" y1="364.6" x2="142.90" y2="367.6" stroke="#000" stroke-width="0.7"/>
<line x1="111.0" y1="339.05" x2="114.0" y2="339.05" stroke="#000" stroke-width="0.7"/>
<line x1="147.25" y1="364.6" x2="147.25" y2="366.20000000000005" stroke="#000" stroke-width="0.7"/>
<line x1="112.4" y1="335.20" x2="114.0" y2="335.20" stroke="#000" stroke-width="0.7"/>
<line x1="149.79" y1="364.6" x2="149.79" y2="366.20000000000005" stroke="#000" stroke-width="0.7"/>
<line x1="112.4" y1="332.95" x2="114.0" y2="332.95" stroke="#000" stroke-width="0.7"/>
<line x1="151.60" y1="364.6" x2="151.60" y2="366.20000000000005" stroke="#000" stroke-width="0.7"/>
<line x1="112.4" y1="331.36" x2="114.0" y2="331.36" stroke="#000" stroke-width="0.7"/>
<line x1="153.00" y1="364.6" x2="153.00" y2="366.20000000000005" stroke="#000" stroke-width="0.7"/>
<line x1="112.4" y1="330.12" x2="114.0" y2="330.12" stroke="#000" stroke-width="0.7"/>
<line x1="154.14" y1="364.6" x2="154.14" y2="366.20000000000005" stroke="#000" stroke-width="0.7"/>
<line x1="112.4" y1="329.11" x2="114.0" y2="329.11" stroke="#000" stroke-width="0.7"/>
<line x1="155.11" y1="364.6" x2="155.11" y2="366.20000000000005" stroke="#000" stroke-width="0.7"/>
<line x1="112.4" y1="328.25" x2="114.0" y2="328.25" stroke="#000" stroke-width="0.7"/>
<line x1="155.95" y1="364.6" x2="155.95" y2="366.20000000000005" stroke="#000" stroke-width="0.7"/>
<line x1="112.4" y1="327.51" x2="114.0" y2="327.51" stroke="#000" stroke-width="0.7"/>
<line x1="156.69" y1="364.6" x2="156.69" y2="366.20000000000005" stroke="#000" stroke-width="0.7"/>
<line x1="112.4" y1="326.86" x2="114.0" y2="326.86" stroke="#000" stroke-width="0.7"/>
<line x1="157.35" y1="364.6" x2="157.35" y2="367.6" stroke="#000" stroke-width="0.7"/>
<line x1="111.0" y1="326.27" x2="114.0" y2="326.27" stroke="#000" stroke-width="0.7"/>
<line x1="161.70" y1="364.6" x2="161.70" y2="366.20000000000005" stroke="#000" stroke-width="0.7"/>
<line x1="112.4" y1="322.43" x2="114.0" y2="322.43" stroke="#000" stroke-width="0.7"/>
<line x1="164.24" y1="364.6" x2="164.24" y2="366.20000000000005" stroke="#000" stroke-width="0.7"/>
<line x1="112.4" y1="320.18" x2="114.0" y2="320.18" stroke="#000" stroke-width="0.7"/>
<line x1="166.05" y1="364.6" x2="166.05" y2="366.20000000000005" stroke="#000" stroke-width="0.7"/>
<line x1="112.4" y1="318.58" x2="114.0" y2="318.58" stroke="#000" stroke-width="0.7"/>
<line x1="167.45" y1="364.6" x2="167.45" y2="366.20000000000005" stroke="#000" stroke-width="0.7"/>
<line x1="112.4" y1="317.35" x2="114.0" y2="317.35" stroke="#000" stroke-width="0.7"/>
<line x1="168.59" y1="364.6" x2="168.59" y2="366.20000000000005" stroke="#000" stroke-width="0.7"/>
<line x1="112.4" y1="316.33" x2="114.0" y2="316.33" stroke="#000" stroke-width="0.7"/>
<line x1="169.56" y1="364.6" x2="169.56" y2="366.20000000000005" stroke="#000" stroke-width="0.7"/>
<line x1="112.4" y1="315.48" x2="114.0" y2="315.48" stroke="#000" stroke-width="0.7"/>
<line x1="170.40" y1="364.6" x2="170.40" y2="366.20000000000005" stroke="#000" stroke-width="0.7"/>
<line x1="112.4" y1="314.74" x2="114.0" y2="314.74" stroke="#000" stroke-width="0.7"/>
<line x1="171.14" y1="364.6" x2="171.14" y2="366.20000000000005" stroke="#000" stroke-width="0.7"/>
<line x1="112.4" y1="314.08" x2="114.0" y2="314.08" stroke="#000" stroke-width="0.7"/>
<line x1="171.80" y1="364.6" x2="171.80" y2="367.6" stroke="#000" stroke-width="0.7"/>
<line x1="111.0" y1="313.50" x2="114.0" y2="313.50" stroke="#000" stroke-width="0.7"/>
<text x="114.00" y="376.40" font-size="6.2" text-anchor="middle" fill="#333">10<tspan font-size="4" dy="-2.6">0</tspan></text>
<text x="103.10" y="368.10" font-size="6.2" text-anchor="middle" fill="#333">10<tspan font-size="4" dy="-2.6">0</tspan></text>
<text x="128.45" y="376.40" font-size="6.2" text-anchor="middle" fill="#333">10<tspan font-size="4" dy="-2.6">1</tspan></text>
<text x="103.10" y="355.33" font-size="6.2" text-anchor="middle" fill="#333">10<tspan font-size="4" dy="-2.6">1</tspan></text>
<text x="142.90" y="376.40" font-size="6.2" text-anchor="middle" fill="#333">10<tspan font-size="4" dy="-2.6">2</tspan></text>
<text x="103.10" y="342.55" font-size="6.2" text-anchor="middle" fill="#333">10<tspan font-size="4" dy="-2.6">2</tspan></text>
<text x="157.35" y="376.40" font-size="6.2" text-anchor="middle" fill="#333">10<tspan font-size="4" dy="-2.6">3</tspan></text>
<text x="103.10" y="329.77" font-size="6.2" text-anchor="middle" fill="#333">10<tspan font-size="4" dy="-2.6">3</tspan></text>
<text x="171.80" y="376.40" font-size="6.2" text-anchor="middle" fill="#333">10<tspan font-size="4" dy="-2.6">4</tspan></text>
<text x="103.10" y="317.00" font-size="6.2" text-anchor="middle" fill="#333">10<tspan font-size="4" dy="-2.6">4</tspan></text>
<text x="142.90" y="309.90" font-size="6.6" text-anchor="middle" font-weight="normal" fill="#222" >Q-VD-OPh + MP-A08</text>
<text x="128.40" y="362.40" font-size="5.8" text-anchor="start" font-weight="normal" fill="#141830" stroke-width="0.45" stroke="#141830">72.3%</text>
<line x1="19.7" y1="226" x2="19.7" y2="381.6" stroke="#000" stroke-width="1.1"/>
<path d="M19.7,223.2 L22.1,228.6 L17.3,228.6Z" fill="#000"/>
<line x1="19.2" y1="381.6" x2="175" y2="381.6" stroke="#000" stroke-width="1.1"/>
<path d="M178,381.6 L172.6,379.2 L172.6,384Z" fill="#000"/>
<text transform="translate(15.3,303.7) rotate(-90)" font-size="8" text-anchor="middle" fill="#222">Annexin V-FITC</text>
<text x="97.40" y="392.20" font-size="8.4" text-anchor="middle" font-weight="normal" fill="#222" >PI</text>
<text x="238.60" y="25.90" font-size="6.5" text-anchor="middle" font-weight="normal" fill="#222" >MP-A08 (&#956;M)</text>
<line x1="210.4" y1="30.9" x2="266.6" y2="30.9" stroke="#111" stroke-width="1.4"/>
<text transform="translate(214.90,39.30) rotate(-48)" font-size="6.5" text-anchor="middle" dominant-baseline="central" fill="#222">0</text>
<text transform="translate(224.20,39.30) rotate(-48)" font-size="6.5" text-anchor="middle" dominant-baseline="central" fill="#222">5</text>
<text transform="translate(235.50,38.00) rotate(-48)" font-size="6.5" text-anchor="middle" dominant-baseline="central" fill="#222">10</text>
<text transform="translate(244.00,38.00) rotate(-48)" font-size="6.5" text-anchor="middle" dominant-baseline="central" fill="#222">15</text>
<text transform="translate(253.80,37.60) rotate(-48)" font-size="6.5" text-anchor="middle" dominant-baseline="central" fill="#222">20</text>
<text transform="translate(263.90,38.10) rotate(-48)" font-size="6.5" text-anchor="middle" dominant-baseline="central" fill="#222">30</text>
<clipPath id="k2091451"><rect x="209.1" y="45.1" width="58.5" height="47.300000000000004"/></clipPath>
<g clip-path="url(#k2091451)">
<rect x="209.1" y="45.1" width="58.5" height="47.300000000000004" fill="#c3c3c3"/>
<rect x="211.00" y="59" width="6.8" height="31" fill="#888" fill-opacity="0.12" filter="url(#b1)"/>
<rect x="220.60" y="59" width="6.8" height="31" fill="#888" fill-opacity="0.12" filter="url(#b1)"/>
<rect x="230.40" y="59" width="6.8" height="31" fill="#888" fill-opacity="0.12" filter="url(#b1)"/>
<rect x="240.00" y="59" width="6.8" height="31" fill="#888" fill-opacity="0.12" filter="url(#b1)"/>
<rect x="249.50" y="59" width="6.8" height="31" fill="#888" fill-opacity="0.12" filter="url(#b1)"/>
<rect x="258.90" y="59" width="6.8" height="31" fill="#888" fill-opacity="0.12" filter="url(#b1)"/>
<rect x="210.00" y="55.30" width="8.80" height="3.80" rx="1.90" fill="#333" fill-opacity="0.72" transform="rotate(0 214.40 57.20)" filter="url(#b1)"/>
<rect x="219.60" y="55.30" width="8.80" height="3.80" rx="1.90" fill="#333" fill-opacity="0.66" transform="rotate(0 224.00 57.20)" filter="url(#b1)"/>
<rect x="229.40" y="55.30" width="8.80" height="3.80" rx="1.90" fill="#333" fill-opacity="0.72" transform="rotate(0 233.80 57.20)" filter="url(#b1)"/>
<rect x="239.00" y="55.30" width="8.80" height="3.80" rx="1.90" fill="#333" fill-opacity="0.68" transform="rotate(0 243.40 57.20)" filter="url(#b1)"/>
<rect x="248.50" y="55.30" width="8.80" height="3.80" rx="1.90" fill="#333" fill-opacity="0.58" transform="rotate(0 252.90 57.20)" filter="url(#b1)"/>
<rect x="211.40" y="54.80" width="3.00" height="1.60" rx="0.80" fill="#222" fill-opacity="0.6" transform="rotate(0 212.90 55.60)" filter="url(#b1)"/>
<rect x="210.00" y="82.00" width="8.80" height="2.80" rx="1.40" fill="#333" fill-opacity="0.38" transform="rotate(0 214.40 83.40)" filter="url(#b1)"/>
<rect x="219.60" y="82.00" width="8.80" height="2.80" rx="1.40" fill="#333" fill-opacity="0.34" transform="rotate(0 224.00 83.40)" filter="url(#b1)"/>
<rect x="229.40" y="82.00" width="8.80" height="2.80" rx="1.40" fill="#333" fill-opacity="0.52" transform="rotate(0 233.80 83.40)" filter="url(#b1)"/>
<rect x="239.00" y="82.00" width="8.80" height="2.80" rx="1.40" fill="#333" fill-opacity="0.55" transform="rotate(0 243.40 83.40)" filter="url(#b1)"/>
<rect x="248.50" y="82.00" width="8.80" height="2.80" rx="1.40" fill="#333" fill-opacity="0.7" transform="rotate(0 252.90 83.40)" filter="url(#b1)"/>
<rect x="258.30" y="76.00" width="8.00" height="4.40" rx="2.00" fill="#555" fill-opacity="0.55" transform="rotate(0 262.30 78.20)" filter="url(#b2)"/>
<rect x="257.90" y="82.90" width="8.80" height="4.00" rx="2.00" fill="#000" fill-opacity="1.0" transform="rotate(0 262.30 84.90)" filter="url(#b1)"/>
<rect x="209.1" y="45.1" width="58.5" height="47.300000000000004" filter="url(#nz)" opacity="0.10"/>
</g>
<rect x="209.80" y="45.80" width="57.10" height="45.90" fill="none" stroke="#1a1a1a" stroke-width="1.4"/>
<path d="M268.60,56.70 L274.80,54.10 L274.00,56.70 L274.80,59.30Z" fill="#000"/>
<text x="277.80" y="59.10" font-size="6.8" text-anchor="start" font-weight="normal" fill="#2a2a2a" >CASP3</text>
<path d="M268.60,86.00 L274.80,83.40 L274.00,86.00 L274.80,88.60Z" fill="#000"/>
<text x="277.80" y="88.40" font-size="6.8" text-anchor="start" font-weight="normal" fill="#2a2a2a" >Cleaved</text>
<clipPath id="k2091953"><rect x="209.1" y="95.3" width="58.5" height="23.400000000000006"/></clipPath>
<g clip-path="url(#k2091953)">
<rect x="209.1" y="95.3" width="58.5" height="23.400000000000006" fill="#c7c7c7"/>
<rect x="211.00" y="100" width="6.8" height="18" fill="#888" fill-opacity="0.06" filter="url(#b1)"/>
<rect x="220.60" y="100" width="6.8" height="18" fill="#888" fill-opacity="0.06" filter="url(#b1)"/>
<rect x="230.40" y="100" width="6.8" height="18" fill="#888" fill-opacity="0.06" filter="url(#b1)"/>
<rect x="240.00" y="100" width="6.8" height="18" fill="#888" fill-opacity="0.06" filter="url(#b1)"/>
<rect x="249.50" y="100" width="6.8" height="18" fill="#888" fill-opacity="0.06" filter="url(#b1)"/>
<rect x="258.90" y="100" width="6.8" height="18" fill="#888" fill-opacity="0.06" filter="url(#b1)"/>
<rect x="210.10" y="106.50" width="8.60" height="2.80" rx="1.40" fill="#1c1c1c" fill-opacity="0.9" transform="rotate(0 214.40 107.90)" filter="url(#b1)"/>
<rect x="219.70" y="106.50" width="8.60" height="2.80" rx="1.40" fill="#1c1c1c" fill-opacity="0.85" transform="rotate(0 224.00 107.90)" filter="url(#b1)"/>
<rect x="229.50" y="106.50" width="8.60" height="2.80" rx="1.40" fill="#1c1c1c" fill-opacity="0.85" transform="rotate(0 233.80 107.90)" filter="url(#b1)"/>
<rect x="239.10" y="106.50" width="8.60" height="2.80" rx="1.40" fill="#1c1c1c" fill-opacity="0.9" transform="rotate(0 243.40 107.90)" filter="url(#b1)"/>
<rect x="248.60" y="106.50" width="8.60" height="2.80" rx="1.40" fill="#1c1c1c" fill-opacity="0.18" transform="rotate(0 252.90 107.90)" filter="url(#b1)"/>
<rect x="258.00" y="106.50" width="8.60" height="2.80" rx="1.40" fill="#1c1c1c" fill-opacity="0.0" transform="rotate(0 262.30 107.90)" filter="url(#b1)"/>
<rect x="209.1" y="95.3" width="58.5" height="23.400000000000006" filter="url(#nz)" opacity="0.10"/>
</g>
<rect x="209.80" y="96.00" width="57.10" height="22.00" fill="none" stroke="#1a1a1a" stroke-width="1.4"/>
<path d="M268.60,107.90 L274.80,105.30 L274.00,107.90 L274.80,110.50Z" fill="#000"/>
<text x="277.80" y="110.30" font-size="6.8" text-anchor="start" font-weight="normal" fill="#2a2a2a" >MCL1</text>
<clipPath id="k20911201"><rect x="209.1" y="120.1" width="58.5" height="23.200000000000017"/></clipPath>
<g clip-path="url(#k20911201)">
<rect x="209.1" y="120.1" width="58.5" height="23.200000000000017" fill="#bbbbbb"/>
<rect x="211.00" y="121" width="6.8" height="22" fill="#888" fill-opacity="0.08" filter="url(#b1)"/>
<rect x="220.60" y="121" width="6.8" height="22" fill="#888" fill-opacity="0.08" filter="url(#b1)"/>
<rect x="230.40" y="121" width="6.8" height="22" fill="#888" fill-opacity="0.08" filter="url(#b1)"/>
<rect x="240.00" y="121" width="6.8" height="22" fill="#888" fill-opacity="0.08" filter="url(#b1)"/>
<rect x="249.50" y="121" width="6.8" height="22" fill="#888" fill-opacity="0.08" filter="url(#b1)"/>
<rect x="258.90" y="121" width="6.8" height="22" fill="#888" fill-opacity="0.08" filter="url(#b1)"/>
<rect x="210.00" y="130.10" width="8.80" height="2.80" rx="1.40" fill="#2a2a2a" fill-opacity="0.58" transform="rotate(0 214.40 131.50)" filter="url(#b1)"/>
<rect x="219.60" y="130.10" width="8.80" height="2.80" rx="1.40" fill="#2a2a2a" fill-opacity="0.58" transform="rotate(0 224.00 131.50)" filter="url(#b1)"/>
<rect x="229.40" y="130.10" width="8.80" height="2.80" rx="1.40" fill="#2a2a2a" fill-opacity="0.58" transform="rotate(0 233.80 131.50)" filter="url(#b1)"/>
<rect x="239.00" y="130.10" width="8.80" height="2.80" rx="1.40" fill="#2a2a2a" fill-opacity="0.58" transform="rotate(0 243.40 131.50)" filter="url(#b1)"/>
<rect x="248.50" y="130.10" width="8.80" height="2.80" rx="1.40" fill="#2a2a2a" fill-opacity="0.58" transform="rotate(0 252.90 131.50)" filter="url(#b1)"/>
<rect x="257.90" y="130.10" width="8.80" height="2.80" rx="1.40" fill="#2a2a2a" fill-opacity="0.58" transform="rotate(0 262.30 131.50)" filter="url(#b1)"/>
<rect x="209.1" y="120.1" width="58.5" height="23.200000000000017" filter="url(#nz)" opacity="0.10"/>
</g>
<rect x="209.80" y="120.80" width="57.10" height="21.80" fill="none" stroke="#1a1a1a" stroke-width="1.4"/>
<path d="M268.60,131.30 L274.80,128.70 L274.00,131.30 L274.80,133.90Z" fill="#000"/>
<text x="277.80" y="133.70" font-size="6.8" text-anchor="start" font-weight="normal" fill="#2a2a2a" >BCL2</text>
<clipPath id="k20911452"><rect x="209.1" y="145.2" width="58.5" height="22.700000000000017"/></clipPath>
<g clip-path="url(#k20911452)">
<rect x="209.1" y="145.2" width="58.5" height="22.700000000000017" fill="#bfbfbf"/>
<rect x="211.00" y="146" width="6.8" height="21" fill="#888" fill-opacity="0.08" filter="url(#b1)"/>
<rect x="220.60" y="146" width="6.8" height="21" fill="#888" fill-opacity="0.08" filter="url(#b1)"/>
<rect x="230.40" y="146" width="6.8" height="21" fill="#888" fill-opacity="0.08" filter="url(#b1)"/>
<rect x="240.00" y="146" width="6.8" height="21" fill="#888" fill-opacity="0.08" filter="url(#b1)"/>
<rect x="249.50" y="146" width="6.8" height="21" fill="#888" fill-opacity="0.08" filter="url(#b1)"/>
<rect x="258.90" y="146" width="6.8" height="21" fill="#888" fill-opacity="0.08" filter="url(#b1)"/>
<rect x="210.20" y="157.00" width="8.40" height="2.80" rx="1.40" fill="#1a1a1a" fill-opacity="0.95" transform="rotate(0 214.40 158.40)" filter="url(#b1)"/>
<rect x="219.80" y="156.55" width="8.40" height="2.80" rx="1.40" fill="#1a1a1a" fill-opacity="0.85" transform="rotate(0 224.00 157.95)" filter="url(#b1)"/>
<rect x="229.60" y="156.10" width="8.40" height="2.80" rx="1.40" fill="#1a1a1a" fill-opacity="0.9" transform="rotate(0 233.80 157.50)" filter="url(#b1)"/>
<rect x="239.20" y="155.65" width="8.40" height="2.80" rx="1.40" fill="#1a1a1a" fill-opacity="0.8" transform="rotate(0 243.40 157.05)" filter="url(#b1)"/>
<rect x="248.70" y="155.20" width="8.40" height="2.80" rx="1.40" fill="#1a1a1a" fill-opacity="0.75" transform="rotate(0 252.90 156.60)" filter="url(#b1)"/>
<rect x="258.10" y="154.75" width="8.40" height="2.80" rx="1.40" fill="#1a1a1a" fill-opacity="0.75" transform="rotate(0 262.30 156.15)" filter="url(#b1)"/>
<rect x="209.1" y="145.2" width="58.5" height="22.700000000000017" filter="url(#nz)" opacity="0.10"/>
</g>
<rect x="209.80" y="145.90" width="57.10" height="21.30" fill="none" stroke="#1a1a1a" stroke-width="1.4"/>
<path d="M268.60,155.80 L274.80,153.20 L274.00,155.80 L274.80,158.40Z" fill="#000"/>
<text x="277.80" y="158.20" font-size="6.8" text-anchor="start" font-weight="normal" fill="#2a2a2a" >BCLXL</text>
<clipPath id="k20911706"><rect x="209.1" y="170.6" width="58.5" height="21.400000000000006"/></clipPath>
<g clip-path="url(#k20911706)">
<rect x="209.1" y="170.6" width="58.5" height="21.400000000000006" fill="#adadad"/>
<rect x="211.15" y="176.80" width="6.50" height="4.40" rx="2.00" fill="#000" fill-opacity="0.85" transform="rotate(0 214.40 179.00)" filter="url(#b1)"/>
<rect x="210.00" y="184.70" width="8.80" height="4.20" rx="2.00" fill="#000" fill-opacity="0.95" transform="rotate(0 214.40 186.80)" filter="url(#b1)"/>
<rect x="220.75" y="176.80" width="6.50" height="4.40" rx="2.00" fill="#000" fill-opacity="0.85" transform="rotate(0 224.00 179.00)" filter="url(#b1)"/>
<rect x="219.60" y="184.70" width="8.80" height="4.20" rx="2.00" fill="#000" fill-opacity="0.95" transform="rotate(0 224.00 186.80)" filter="url(#b1)"/>
<rect x="229.40" y="177.20" width="8.80" height="4.20" rx="2.00" fill="#000" fill-opacity="0.95" transform="rotate(0 233.80 179.30)" filter="url(#b1)"/>
<rect x="229.40" y="184.70" width="8.80" height="4.20" rx="2.00" fill="#000" fill-opacity="0.95" transform="rotate(0 233.80 186.80)" filter="url(#b1)"/>
<rect x="239.00" y="177.20" width="8.80" height="4.20" rx="2.00" fill="#000" fill-opacity="0.95" transform="rotate(0 243.40 179.30)" filter="url(#b1)"/>
<rect x="239.00" y="184.70" width="8.80" height="4.20" rx="2.00" fill="#000" fill-opacity="0.95" transform="rotate(0 243.40 186.80)" filter="url(#b1)"/>
<rect x="248.50" y="177.20" width="8.80" height="4.20" rx="2.00" fill="#000" fill-opacity="0.95" transform="rotate(0 252.90 179.30)" filter="url(#b1)"/>
<rect x="248.50" y="184.70" width="8.80" height="4.20" rx="2.00" fill="#000" fill-opacity="0.95" transform="rotate(0 252.90 186.80)" filter="url(#b1)"/>
<rect x="257.90" y="177.20" width="8.80" height="4.20" rx="2.00" fill="#000" fill-opacity="0.95" transform="rotate(0 262.30 179.30)" filter="url(#b1)"/>
<rect x="257.90" y="184.70" width="8.80" height="4.20" rx="2.00" fill="#000" fill-opacity="0.95" transform="rotate(0 262.30 186.80)" filter="url(#b1)"/>
<rect x="258.10" y="178.50" width="8.40" height="9.00" rx="2.00" fill="#111" fill-opacity="0.85" transform="rotate(0 262.30 183.00)" filter="url(#b1)"/>
<rect x="209.1" y="170.6" width="58.5" height="21.400000000000006" filter="url(#nz)" opacity="0.10"/>
</g>
<rect x="209.80" y="171.30" width="57.10" height="20.00" fill="none" stroke="#1a1a1a" stroke-width="1.4"/>
<path d="M268.60,177.90 L274.80,175.30 L274.00,177.90 L274.80,180.50Z" fill="#000"/>
<path d="M268.60,188.80 L274.80,186.20 L274.00,188.80 L274.80,191.40Z" fill="#000"/>
<text x="277.80" y="186.00" font-size="6.8" text-anchor="start" font-weight="normal" fill="#2a2a2a" >BIM</text>
<clipPath id="k20911951"><rect x="209.1" y="195.1" width="58.5" height="23.099999999999994"/></clipPath>
<g clip-path="url(#k20911951)">
<rect x="209.1" y="195.1" width="58.5" height="23.099999999999994" fill="#bdbdbd"/>
<rect x="211.00" y="196" width="6.8" height="21" fill="#888" fill-opacity="0.06" filter="url(#b1)"/>
<rect x="220.60" y="196" width="6.8" height="21" fill="#888" fill-opacity="0.06" filter="url(#b1)"/>
<rect x="230.40" y="196" width="6.8" height="21" fill="#888" fill-opacity="0.06" filter="url(#b1)"/>
<rect x="240.00" y="196" width="6.8" height="21" fill="#888" fill-opacity="0.06" filter="url(#b1)"/>
<rect x="249.50" y="196" width="6.8" height="21" fill="#888" fill-opacity="0.06" filter="url(#b1)"/>
<rect x="258.90" y="196" width="6.8" height="21" fill="#888" fill-opacity="0.06" filter="url(#b1)"/>
<rect x="210.20" y="207.40" width="8.40" height="2.80" rx="1.40" fill="#111" fill-opacity="0.18" transform="rotate(0 214.40 208.80)" filter="url(#b1)"/>
<rect x="219.80" y="207.00" width="8.40" height="2.80" rx="1.40" fill="#111" fill-opacity="0.22" transform="rotate(0 224.00 208.40)" filter="url(#b1)"/>
<rect x="229.60" y="206.40" width="8.40" height="2.80" rx="1.40" fill="#111" fill-opacity="0.3" transform="rotate(0 233.80 207.80)" filter="url(#b1)"/>
<rect x="239.20" y="205.90" width="8.40" height="3.00" rx="1.50" fill="#111" fill-opacity="0.38" transform="rotate(0 243.40 207.40)" filter="url(#b1)"/>
<rect x="248.70" y="205.00" width="8.40" height="3.20" rx="1.60" fill="#111" fill-opacity="0.72" transform="rotate(0 252.90 206.60)" filter="url(#b1)"/>
<rect x="258.10" y="203.70" width="8.40" height="3.80" rx="1.90" fill="#111" fill-opacity="1.0" transform="rotate(0 262.30 205.60)" filter="url(#b1)"/>
<rect x="209.1" y="195.1" width="58.5" height="23.099999999999994" filter="url(#nz)" opacity="0.10"/>
</g>
<rect x="209.80" y="195.80" width="57.10" height="21.70" fill="none" stroke="#1a1a1a" stroke-width="1.4"/>
<path d="M268.60,204.80 L274.80,202.20 L274.00,204.80 L274.80,207.40Z" fill="#000"/>
<text x="277.80" y="207.20" font-size="6.8" text-anchor="start" font-weight="normal" fill="#2a2a2a" >NOXA</text>
<clipPath id="k20912206"><rect x="209.1" y="220.6" width="58.5" height="22.30000000000001"/></clipPath>
<g clip-path="url(#k20912206)">
<rect x="209.1" y="220.6" width="58.5" height="22.30000000000001" fill="#bbbbbb"/>
<rect x="210.00" y="223.20" width="8.80" height="4.40" rx="2.00" fill="#000" fill-opacity="1" transform="rotate(0 214.40 225.40)" filter="url(#b1)"/>
<rect x="210.20" y="229.30" width="8.40" height="2.20" rx="1.10" fill="#111" fill-opacity="0.8" transform="rotate(0 214.40 230.40)" filter="url(#b1)"/>
<rect x="210.20" y="238.80" width="8.40" height="2.40" rx="1.20" fill="#333" fill-opacity="0.25" transform="rotate(0 214.40 240.00)" filter="url(#b1)"/>
<rect x="219.60" y="223.20" width="8.80" height="4.40" rx="2.00" fill="#000" fill-opacity="0.95" transform="rotate(0 224.00 225.40)" filter="url(#b1)"/>
<rect x="219.80" y="229.30" width="8.40" height="2.20" rx="1.10" fill="#111" fill-opacity="0.45" transform="rotate(0 224.00 230.40)" filter="url(#b1)"/>
<rect x="219.80" y="238.80" width="8.40" height="2.40" rx="1.20" fill="#333" fill-opacity="0.15" transform="rotate(0 224.00 240.00)" filter="url(#b1)"/>
<rect x="229.40" y="223.20" width="8.80" height="4.40" rx="2.00" fill="#000" fill-opacity="0.95" transform="rotate(0 233.80 225.40)" filter="url(#b1)"/>
<rect x="229.60" y="229.30" width="8.40" height="2.20" rx="1.10" fill="#111" fill-opacity="0.75" transform="rotate(0 233.80 230.40)" filter="url(#b1)"/>
<rect x="229.60" y="238.80" width="8.40" height="2.40" rx="1.20" fill="#333" fill-opacity="0.2" transform="rotate(0 233.80 240.00)" filter="url(#b1)"/>
<rect x="239.00" y="223.20" width="8.80" height="4.40" rx="2.00" fill="#000" fill-opacity="0.95" transform="rotate(0 243.40 225.40)" filter="url(#b1)"/>
<rect x="239.20" y="229.30" width="8.40" height="2.20" rx="1.10" fill="#111" fill-opacity="0.35" transform="rotate(0 243.40 230.40)" filter="url(#b1)"/>
<rect x="239.20" y="238.80" width="8.40" height="2.40" rx="1.20" fill="#333" fill-opacity="0.3" transform="rotate(0 243.40 240.00)" filter="url(#b1)"/>
<rect x="248.50" y="223.20" width="8.80" height="4.40" rx="2.00" fill="#000" fill-opacity="0.95" transform="rotate(0 252.90 225.40)" filter="url(#b1)"/>
<rect x="248.70" y="229.30" width="8.40" height="2.20" rx="1.10" fill="#111" fill-opacity="0.3" transform="rotate(0 252.90 230.40)" filter="url(#b1)"/>
<rect x="248.70" y="238.80" width="8.40" height="2.40" rx="1.20" fill="#333" fill-opacity="0.45" transform="rotate(0 252.90 240.00)" filter="url(#b1)"/>
<rect x="257.90" y="223.20" width="8.80" height="4.40" rx="2.00" fill="#000" fill-opacity="0.25" transform="rotate(0 262.30 225.40)" filter="url(#b1)"/>
<rect x="258.10" y="229.30" width="8.40" height="2.20" rx="1.10" fill="#111" fill-opacity="0.1" transform="rotate(0 262.30 230.40)" filter="url(#b1)"/>
<rect x="258.10" y="238.80" width="8.40" height="2.40" rx="1.20" fill="#333" fill-opacity="0.55" transform="rotate(0 262.30 240.00)" filter="url(#b1)"/>
<rect x="209.1" y="220.6" width="58.5" height="22.30000000000001" filter="url(#nz)" opacity="0.10"/>
</g>
<rect x="209.80" y="221.30" width="57.10" height="20.90" fill="none" stroke="#1a1a1a" stroke-width="1.4"/>
<path d="M268.60,227.40 L274.80,224.80 L274.00,227.40 L274.80,230.00Z" fill="#000"/>
<text x="277.80" y="229.80" font-size="6.8" text-anchor="start" font-weight="normal" fill="#2a2a2a" >BID</text>
<path d="M268.60,239.40 L274.80,236.80 L274.00,239.40 L274.80,242.00Z" fill="#000"/>
<text x="277.80" y="241.80" font-size="6.8" text-anchor="start" font-weight="normal" fill="#2a2a2a" >Cleaved</text>
<clipPath id="k20912450"><rect x="209.1" y="245.0" width="58.5" height="23.80000000000001"/></clipPath>
<g clip-path="url(#k20912450)">
<rect x="209.1" y="245.0" width="58.5" height="23.80000000000001" fill="#c3c3c3"/>
<rect x="209.70" y="256.30" width="9.40" height="3.00" rx="1.50" fill="#000" fill-opacity="0.95" transform="rotate(0 214.40 257.80)" filter="url(#b1)"/>
<rect x="210.20" y="260.00" width="8.40" height="6.00" rx="2.00" fill="#555" fill-opacity="0.5" transform="rotate(0 214.40 263.00)" filter="url(#b2)"/>
<rect x="219.30" y="256.65" width="9.40" height="3.00" rx="1.50" fill="#000" fill-opacity="0.95" transform="rotate(0 224.00 258.15)" filter="url(#b1)"/>
<rect x="219.80" y="260.30" width="8.40" height="6.00" rx="2.00" fill="#555" fill-opacity="0.5" transform="rotate(0 224.00 263.30)" filter="url(#b2)"/>
<rect x="229.10" y="257.00" width="9.40" height="3.00" rx="1.50" fill="#000" fill-opacity="0.95" transform="rotate(0 233.80 258.50)" filter="url(#b1)"/>
<rect x="229.60" y="260.60" width="8.40" height="6.00" rx="2.00" fill="#555" fill-opacity="0.5" transform="rotate(0 233.80 263.60)" filter="url(#b2)"/>
<rect x="238.70" y="257.35" width="9.40" height="3.00" rx="1.50" fill="#000" fill-opacity="0.95" transform="rotate(0 243.40 258.85)" filter="url(#b1)"/>
<rect x="239.20" y="260.90" width="8.40" height="6.00" rx="2.00" fill="#555" fill-opacity="0.5" transform="rotate(0 243.40 263.90)" filter="url(#b2)"/>
<rect x="248.20" y="257.70" width="9.40" height="3.00" rx="1.50" fill="#000" fill-opacity="0.95" transform="rotate(0 252.90 259.20)" filter="url(#b1)"/>
<rect x="248.70" y="261.20" width="8.40" height="6.00" rx="2.00" fill="#555" fill-opacity="0.5" transform="rotate(0 252.90 264.20)" filter="url(#b2)"/>
<rect x="257.60" y="258.05" width="9.40" height="3.00" rx="1.50" fill="#000" fill-opacity="0.95" transform="rotate(0 262.30 259.55)" filter="url(#b1)"/>
<rect x="258.10" y="261.50" width="8.40" height="6.00" rx="2.00" fill="#555" fill-opacity="0.5" transform="rotate(0 262.30 264.50)" filter="url(#b2)"/>
<rect x="209.1" y="245.0" width="58.5" height="23.80000000000001" filter="url(#nz)" opacity="0.10"/>
</g>
<rect x="209.80" y="245.70" width="57.10" height="22.40" fill="none" stroke="#1a1a1a" stroke-width="1.4"/>
<path d="M268.60,259.40 L274.80,256.80 L274.00,259.40 L274.80,262.00Z" fill="#000"/>
<text x="277.80" y="261.80" font-size="6.8" text-anchor="start" font-weight="normal" fill="#2a2a2a" >ACTB</text>
<text x="370.40" y="26.00" font-size="6.5" text-anchor="middle" font-weight="normal" fill="#222" >SK1-I (&#956;M)</text>
<line x1="329.8" y1="30.6" x2="410.4" y2="30.6" stroke="#111" stroke-width="1.4"/>
<text transform="translate(336.70,41.20) rotate(-48)" font-size="6.5" text-anchor="middle" dominant-baseline="central" fill="#222">0</text>
<text transform="translate(346.80,41.60) rotate(-48)" font-size="6.5" text-anchor="middle" dominant-baseline="central" fill="#222">1</text>
<text transform="translate(358.90,39.50) rotate(-48)" font-size="6.5" text-anchor="middle" dominant-baseline="central" fill="#222">2.5</text>
<text transform="translate(367.50,41.50) rotate(-48)" font-size="6.5" text-anchor="middle" dominant-baseline="central" fill="#222">5</text>
<text transform="translate(378.00,40.10) rotate(-48)" font-size="6.5" text-anchor="middle" dominant-baseline="central" fill="#222">10</text>
<text transform="translate(387.10,40.10) rotate(-48)" font-size="6.5" text-anchor="middle" dominant-baseline="central" fill="#222">15</text>
<text transform="translate(397.30,39.80) rotate(-48)" font-size="6.5" text-anchor="middle" dominant-baseline="central" fill="#222">20</text>
<text transform="translate(406.60,39.80) rotate(-48)" font-size="6.5" text-anchor="middle" dominant-baseline="central" fill="#222">30</text>
<clipPath id="k3294466"><rect x="329.4" y="46.6" width="81.8" height="18.6"/></clipPath>
<g clip-path="url(#k3294466)">
<rect x="329.4" y="46.6" width="81.8" height="18.6" fill="#a1a1a1"/>
<rect x="329.30" y="56.25" width="10.40" height="1.90" rx="0.95" fill="#111" fill-opacity="1" transform="rotate(0 334.50 57.20)" filter="url(#b1)"/>
<rect x="339.50" y="56.25" width="10.40" height="1.90" rx="0.95" fill="#111" fill-opacity="1" transform="rotate(0 344.70 57.20)" filter="url(#b1)"/>
<rect x="349.70" y="56.25" width="10.40" height="1.90" rx="0.95" fill="#111" fill-opacity="1" transform="rotate(0 354.90 57.20)" filter="url(#b1)"/>
<rect x="359.90" y="56.25" width="10.40" height="1.90" rx="0.95" fill="#111" fill-opacity="1" transform="rotate(0 365.10 57.20)" filter="url(#b1)"/>
<rect x="370.10" y="56.25" width="10.40" height="1.90" rx="0.95" fill="#111" fill-opacity="0.95" transform="rotate(0 375.30 57.20)" filter="url(#b1)"/>
<rect x="380.30" y="56.25" width="10.40" height="1.90" rx="0.95" fill="#111" fill-opacity="0.45" transform="rotate(0 385.50 57.20)" filter="url(#b1)"/>
<rect x="390.50" y="56.25" width="10.40" height="1.90" rx="0.95" fill="#111" fill-opacity="0.3" transform="rotate(0 395.70 57.20)" filter="url(#b1)"/>
<rect x="400.70" y="56.25" width="10.40" height="1.90" rx="0.95" fill="#111" fill-opacity="0.25" transform="rotate(0 405.90 57.20)" filter="url(#b1)"/>
<rect x="329.4" y="46.6" width="81.8" height="18.6" filter="url(#nz)" opacity="0.10"/>
</g>
<rect x="330.10" y="47.30" width="80.40" height="17.20" fill="none" stroke="#1a1a1a" stroke-width="1.4"/>
<path d="M412.40,56.60 L418.60,54.00 L417.80,56.60 L418.60,59.20Z" fill="#000"/>
<text x="421.60" y="59.00" font-size="6.8" text-anchor="start" font-weight="normal" fill="#2a2a2a" >MCL1</text>
<clipPath id="k3294670"><rect x="329.4" y="67.0" width="81.8" height="18.700000000000003"/></clipPath>
<g clip-path="url(#k3294670)">
<rect x="329.4" y="67.0" width="81.8" height="18.700000000000003" fill="#a9a9a9"/>
<rect x="330.10" y="77.58" width="8.80" height="1.70" rx="0.85" fill="#111" fill-opacity="0.85" transform="rotate(-3 334.50 78.43)" filter="url(#b1)"/>
<rect x="340.30" y="76.98" width="8.80" height="1.70" rx="0.85" fill="#111" fill-opacity="0.85" transform="rotate(-3 344.70 77.83)" filter="url(#b1)"/>
<rect x="350.50" y="76.38" width="8.80" height="1.70" rx="0.85" fill="#111" fill-opacity="0.85" transform="rotate(-3 354.90 77.23)" filter="url(#b1)"/>
<rect x="360.70" y="75.78" width="8.80" height="1.70" rx="0.85" fill="#111" fill-opacity="0.85" transform="rotate(-3 365.10 76.63)" filter="url(#b1)"/>
<rect x="370.90" y="75.18" width="8.80" height="1.70" rx="0.85" fill="#111" fill-opacity="0.85" transform="rotate(-3 375.30 76.03)" filter="url(#b1)"/>
<rect x="381.10" y="74.58" width="8.80" height="1.70" rx="0.85" fill="#111" fill-opacity="0.85" transform="rotate(-3 385.50 75.43)" filter="url(#b1)"/>
<rect x="391.30" y="73.97" width="8.80" height="1.70" rx="0.85" fill="#111" fill-opacity="0.85" transform="rotate(-3 395.70 74.82)" filter="url(#b1)"/>
<rect x="401.50" y="73.37" width="8.80" height="1.70" rx="0.85" fill="#111" fill-opacity="0.85" transform="rotate(-3 405.90 74.22)" filter="url(#b1)"/>
<rect x="329.4" y="67.0" width="81.8" height="18.700000000000003" filter="url(#nz)" opacity="0.10"/>
</g>
<rect x="330.10" y="67.70" width="80.40" height="17.30" fill="none" stroke="#1a1a1a" stroke-width="1.4"/>
<path d="M412.40,73.80 L418.60,71.20 L417.80,73.80 L418.60,76.40Z" fill="#000"/>
<text x="421.60" y="76.20" font-size="6.8" text-anchor="start" font-weight="normal" fill="#2a2a2a" >BCL2</text>
<clipPath id="k3294879"><rect x="329.4" y="87.9" width="81.8" height="18.799999999999997"/></clipPath>
<g clip-path="url(#k3294879)">
<linearGradient id="g32987" x1="0" y1="0" x2="0" y2="1"><stop offset="0" stop-color="#b5b5b5"/><stop offset="0.5" stop-color="#adadad"/><stop offset="1" stop-color="#a3a3a3"/></linearGradient>
<rect x="329.4" y="87.9" width="81.8" height="18.799999999999997" fill="url(#g32987)"/>
<path d="M327.00,102.90 L330.62,102.90 L334.25,102.87 L337.88,102.82 L341.50,102.75 L345.12,102.67 L348.75,102.59 L352.38,102.49 L356.00,102.39 L359.62,102.28 L363.25,102.16 L366.88,102.04 L370.50,101.91 L374.12,101.77 L377.75,101.63 L381.38,101.49 L385.00,101.33 L388.62,101.18 L392.25,101.01 L395.88,100.85 L399.50,100.67 L403.12,100.50 L406.75,100.32 L410.38,100.13 L414.00,99.94" fill="none" stroke="#666" stroke-opacity="0.35" stroke-width="3.4" stroke-linecap="round" filter="url(#b2)"/>
<path d="M327.00,98.70 L330.62,98.70 L334.25,98.67 L337.88,98.62 L341.50,98.55 L345.12,98.47 L348.75,98.39 L352.38,98.29 L356.00,98.19 L359.62,98.08 L363.25,97.96 L366.88,97.84 L370.50,97.71 L374.12,97.57 L377.75,97.43 L381.38,97.29 L385.00,97.13 L388.62,96.98 L392.25,96.81 L395.88,96.65 L399.50,96.47 L403.12,96.30 L406.75,96.12 L410.38,95.93 L414.00,95.74" fill="none" stroke="#000" stroke-opacity="1.0" stroke-width="3.5" stroke-linecap="round" filter="url(#b1)"/>
<rect x="339.00" y="98.99" width="1.20" height="1.60" rx="0.80" fill="#777" fill-opacity="0.5" transform="rotate(0 339.60 99.79)" filter="url(#b1)"/>
<rect x="349.20" y="98.76" width="1.20" height="1.60" rx="0.80" fill="#777" fill-opacity="0.5" transform="rotate(0 349.80 99.56)" filter="url(#b1)"/>
<rect x="359.40" y="98.47" width="1.20" height="1.60" rx="0.80" fill="#777" fill-opacity="0.5" transform="rotate(0 360.00 99.27)" filter="url(#b1)"/>
<rect x="369.60" y="98.12" width="1.20" height="1.60" rx="0.80" fill="#777" fill-opacity="0.5" transform="rotate(0 370.20 98.92)" filter="url(#b1)"/>
<rect x="379.80" y="97.73" width="1.20" height="1.60" rx="0.80" fill="#777" fill-opacity="0.5" transform="rotate(0 380.40 98.53)" filter="url(#b1)"/>
<rect x="390.00" y="97.29" width="1.20" height="1.60" rx="0.80" fill="#777" fill-opacity="0.5" transform="rotate(0 390.60 98.09)" filter="url(#b1)"/>
<rect x="400.20" y="96.81" width="1.20" height="1.60" rx="0.80" fill="#777" fill-opacity="0.5" transform="rotate(0 400.80 97.61)" filter="url(#b1)"/>
<rect x="329.4" y="87.9" width="81.8" height="18.799999999999997" filter="url(#nz)" opacity="0.10"/>
</g>
<rect x="330.10" y="88.60" width="80.40" height="17.40" fill="none" stroke="#1a1a1a" stroke-width="1.4"/>
<path d="M412.40,95.70 L418.60,93.10 L417.80,95.70 L418.60,98.30Z" fill="#000"/>
<text x="421.60" y="98.10" font-size="6.8" text-anchor="start" font-weight="normal" fill="#2a2a2a" >ACTB</text>
<text x="386.80" y="133.00" font-size="6.5" text-anchor="middle" font-weight="normal" fill="#222" >Time (h)</text>
<line x1="355" y1="137.6" x2="418.3" y2="137.6" stroke="#111" stroke-width="1.4"/>
<text x="362.20" y="146.00" font-size="6.3" text-anchor="middle" font-weight="normal" fill="#222" >0</text>
<text x="377.60" y="146.00" font-size="6.3" text-anchor="middle" font-weight="normal" fill="#222" >2</text>
<text x="394.50" y="146.00" font-size="6.3" text-anchor="middle" font-weight="normal" fill="#222" >6</text>
<text x="411.80" y="146.00" font-size="6.3" text-anchor="middle" font-weight="normal" fill="#222" >16</text>
<clipPath id="k35291490"><rect x="352.9" y="149.0" width="67.4" height="20.30000000000001"/></clipPath>
<g clip-path="url(#k35291490)">
<linearGradient id="g352149" x1="0" y1="0" x2="0" y2="1"><stop offset="0" stop-color="#d2d2d2"/><stop offset="1" stop-color="#c7c7c7"/></linearGradient>
<rect x="352.9" y="149.0" width="67.4" height="20.30000000000001" fill="url(#g352149)"/>
<rect x="352.55" y="158.70" width="14.50" height="2.60" rx="1.30" fill="#000" fill-opacity="1.0" transform="rotate(0 359.80 160.00)" filter="url(#b1)"/>
<rect x="369.85" y="158.80" width="13.50" height="2.40" rx="1.20" fill="#111" fill-opacity="0.8" transform="rotate(0 376.60 160.00)" filter="url(#b1)"/>
<rect x="386.90" y="158.90" width="13.00" height="2.20" rx="1.10" fill="#222" fill-opacity="0.38" transform="rotate(0 393.40 160.00)" filter="url(#b1)"/>
<rect x="387.50" y="158.90" width="4.00" height="2.20" rx="1.10" fill="#111" fill-opacity="0.5" transform="rotate(0 389.50 160.00)" filter="url(#b1)"/>
<rect x="352.9" y="149.0" width="67.4" height="20.30000000000001" filter="url(#nz)" opacity="0.10"/>
</g>
<rect x="353.60" y="149.70" width="66.00" height="18.90" fill="none" stroke="#1a1a1a" stroke-width="1.4"/>
<path d="M421.20,160.50 L427.40,157.90 L426.60,160.50 L427.40,163.10Z" fill="#000"/>
<text x="430.40" y="162.90" font-size="6.8" text-anchor="start" font-weight="normal" fill="#2a2a2a" >MCL1</text>
<clipPath id="k35291722"><rect x="352.9" y="172.2" width="67.4" height="32.5"/></clipPath>
<g clip-path="url(#k35291722)">
<linearGradient id="g352172" x1="0" y1="0" x2="0" y2="1"><stop offset="0" stop-color="#9f9f9f"/><stop offset="1" stop-color="#afafaf"/></linearGradient>
<rect x="352.9" y="172.2" width="67.4" height="32.5" fill="url(#g352172)"/>
<path d="M351.00,177.33 L353.96,177.44 L356.92,177.55 L359.88,177.66 L362.83,177.77 L365.79,177.88 L368.75,177.99 L371.71,178.10 L374.67,178.21 L377.62,178.32 L380.58,178.43 L383.54,178.54 L386.50,178.65 L389.46,178.76 L392.42,178.87 L395.38,178.98 L398.33,179.09 L401.29,179.20 L404.25,179.31 L407.21,179.42 L410.17,179.53 L413.12,179.64 L416.08,179.75 L419.04,179.86 L422.00,179.97" fill="none" stroke="#000" stroke-opacity="1.0" stroke-width="3.6" stroke-linecap="round" filter="url(#b1)"/>
<rect x="369.10" y="177.03" width="1.40" height="2.80" rx="1.40" fill="#888" fill-opacity="0.45" transform="rotate(0 369.80 178.43)" filter="url(#b1)"/>
<rect x="385.50" y="177.64" width="1.40" height="2.80" rx="1.40" fill="#888" fill-opacity="0.45" transform="rotate(0 386.20 179.04)" filter="url(#b1)"/>
<rect x="402.50" y="178.27" width="1.40" height="2.80" rx="1.40" fill="#888" fill-opacity="0.45" transform="rotate(0 403.20 179.67)" filter="url(#b1)"/>
<rect x="402.70" y="199.60" width="15.00" height="2.40" rx="1.20" fill="#111" fill-opacity="0.7" transform="rotate(4 410.20 200.80)" filter="url(#b1)"/>
<rect x="396.45" y="195.70" width="2.50" height="1.80" rx="0.90" fill="#222" fill-opacity="0.55" transform="rotate(0 397.70 196.60)" filter="url(#b1)"/>
<rect x="352.9" y="172.2" width="67.4" height="32.5" filter="url(#nz)" opacity="0.10"/>
</g>
<rect x="353.60" y="172.90" width="66.00" height="31.10" fill="none" stroke="#1a1a1a" stroke-width="1.4"/>
<path d="M421.20,179.50 L427.40,176.90 L426.60,179.50 L427.40,182.10Z" fill="#000"/>
<text x="430.40" y="181.90" font-size="6.8" text-anchor="start" font-weight="normal" fill="#2a2a2a" >CASP3</text>
<path d="M421.20,200.80 L427.40,198.20 L426.60,200.80 L427.40,203.40Z" fill="#000"/>
<text x="430.40" y="203.20" font-size="6.8" text-anchor="start" font-weight="normal" fill="#2a2a2a" >Cleaved</text>
<clipPath id="k35292067"><rect x="352.9" y="206.7" width="67.4" height="19.900000000000006"/></clipPath>
<g clip-path="url(#k35292067)">
<linearGradient id="g352206" x1="0" y1="0" x2="0" y2="1"><stop offset="0" stop-color="#b7b7b7"/><stop offset="0.6" stop-color="#b1b1b1"/><stop offset="1" stop-color="#bbbbbb"/></linearGradient>
<rect x="352.9" y="206.7" width="67.4" height="19.900000000000006" fill="url(#g352206)"/>
<path d="M351.00,217.50 L353.96,217.50 L356.92,217.50 L359.88,217.50 L362.83,217.50 L365.79,217.50 L368.75,217.50 L371.71,217.50 L374.67,217.50 L377.62,217.50 L380.58,217.50 L383.54,217.50 L386.50,217.50 L389.46,217.50 L392.42,217.50 L395.38,217.50 L398.33,217.50 L401.29,217.50 L404.25,217.50 L407.21,217.50 L410.17,217.50 L413.12,217.50 L416.08,217.50 L419.04,217.50 L422.00,217.50" fill="none" stroke="#000" stroke-opacity="1.0" stroke-width="3.0" stroke-linecap="round" filter="url(#b1)"/>
<rect x="369.10" y="216.10" width="1.40" height="2.20" rx="1.10" fill="#888" fill-opacity="0.5" transform="rotate(0 369.80 217.20)" filter="url(#b1)"/>
<rect x="385.50" y="216.10" width="1.40" height="2.20" rx="1.10" fill="#888" fill-opacity="0.5" transform="rotate(0 386.20 217.20)" filter="url(#b1)"/>
<rect x="402.50" y="216.10" width="1.40" height="2.20" rx="1.10" fill="#888" fill-opacity="0.5" transform="rotate(0 403.20 217.20)" filter="url(#b1)"/>
<rect x="352.9" y="206.7" width="67.4" height="19.900000000000006" filter="url(#nz)" opacity="0.10"/>
</g>
<rect x="353.60" y="207.40" width="66.00" height="18.50" fill="none" stroke="#1a1a1a" stroke-width="1.4"/>
<path d="M421.20,217.50 L427.40,214.90 L426.60,217.50 L427.40,220.10Z" fill="#000"/>
<text x="430.40" y="219.90" font-size="6.8" text-anchor="start" font-weight="normal" fill="#2a2a2a" >ACTB</text>
<line x1="356.1" y1="235.4" x2="356.1" y2="277.6" stroke="#000" stroke-width="1.2"/>
<line x1="355.5" y1="277.6" x2="416.5" y2="277.6" stroke="#000" stroke-width="1.2"/>
<line x1="353.6" y1="277.6" x2="356.1" y2="277.6" stroke="#000" stroke-width="1"/>
<text x="350.00" y="279.80" font-size="6.3" text-anchor="end" font-weight="normal" fill="#333" >0</text>
<line x1="353.6" y1="261.5" x2="356.1" y2="261.5" stroke="#000" stroke-width="1"/>
<text x="350.00" y="263.70" font-size="6.3" text-anchor="end" font-weight="normal" fill="#333" >50</text>
<line x1="353.6" y1="245.4" x2="356.1" y2="245.4" stroke="#000" stroke-width="1"/>
<text x="350.00" y="247.60" font-size="6.3" text-anchor="end" font-weight="normal" fill="#333" >100</text>
<rect x="358.8" y="245.4" width="10.4" height="32.2" fill="#2a4f8f"/>
<line x1="379.6" y1="240.3" x2="379.6" y2="243.4" stroke="#222a40" stroke-width="1.1"/>
<line x1="377.3" y1="240.3" x2="381.9" y2="240.3" stroke="#222a40" stroke-width="1.1"/>
<rect x="374.65" y="243.4" width="10.3" height="34.2" fill="#fff" stroke="#3a4a72" stroke-width="1.3"/>
<line x1="394.8" y1="241.3" x2="394.8" y2="242.8" stroke="#222a40" stroke-width="1.1"/>
<line x1="392.5" y1="241.3" x2="397.09999999999997" y2="241.3" stroke="#222a40" stroke-width="1.1"/>
<rect x="389.84999999999997" y="242.8" width="10.3" height="34.8" fill="#fff" stroke="#3a4a72" stroke-width="1.3"/>
<line x1="411.3" y1="235.6" x2="411.3" y2="237.2" stroke="#222a40" stroke-width="1.1"/>
<line x1="409.0" y1="235.6" x2="413.59999999999997" y2="235.6" stroke="#222a40" stroke-width="1.1"/>
<rect x="406.34999999999997" y="237.2" width="10.3" height="40.4" fill="#fff" stroke="#3a4a72" stroke-width="1.3"/>
<line x1="357.7" y1="280.6" x2="410.8" y2="280.6" stroke="#000" stroke-width="1.1"/>
<text x="384.20" y="290.00" font-size="6.3" text-anchor="middle" font-weight="normal" fill="#222" >MP-A08</text>
<text transform="translate(325.8,256.2) rotate(-90)" font-size="7.6" text-anchor="middle" textLength="64.4" lengthAdjust="spacingAndGlyphs" fill="#222"><tspan font-style="italic">MCL1</tspan> expression</text>
<text transform="translate(335.5,256.3) rotate(-90)" font-size="7.4" text-anchor="middle" fill="#222">relative to <tspan font-style="italic">ACTB</tspan></text>
<text x="237.95" y="322.20" font-size="6.6" text-anchor="middle" font-weight="normal" fill="#222" >AML2</text>
<clipPath id="k22243251"><rect x="222.4" y="325.1" width="31.1" height="24.399999999999977"/></clipPath>
<g clip-path="url(#k22243251)">
<rect x="222.4" y="325.1" width="31.1" height="24.399999999999977" fill="#b9b9b9"/>
<rect x="223.90" y="337.80" width="13.60" height="3.00" rx="1.50" fill="#000" fill-opacity="1" transform="rotate(0 230.70 339.30)" filter="url(#b1)"/>
<rect x="238.70" y="337.90" width="13.20" height="2.80" rx="1.40" fill="#111" fill-opacity="0.14" transform="rotate(0 245.30 339.30)" filter="url(#b1)"/>
<rect x="222.4" y="325.1" width="31.1" height="24.399999999999977" filter="url(#nz)" opacity="0.10"/>
</g>
<rect x="223.10" y="325.80" width="29.70" height="23.00" fill="none" stroke="#1a1a1a" stroke-width="1.4"/>
<clipPath id="k22243516"><rect x="222.4" y="351.6" width="31.1" height="24.5"/></clipPath>
<g clip-path="url(#k22243516)">
<rect x="222.4" y="351.6" width="31.1" height="24.5" fill="#c5c5c5"/>
<rect x="223.60" y="364.10" width="14.20" height="3.40" rx="1.70" fill="#000" fill-opacity="1" transform="rotate(0 230.70 365.80)" filter="url(#b1)"/>
<rect x="238.50" y="364.10" width="13.60" height="3.40" rx="1.70" fill="#000" fill-opacity="1" transform="rotate(0 245.30 365.80)" filter="url(#b1)"/>
<rect x="222.4" y="351.6" width="31.1" height="24.5" filter="url(#nz)" opacity="0.10"/>
</g>
<rect x="223.10" y="352.30" width="29.70" height="23.10" fill="none" stroke="#1a1a1a" stroke-width="1.4"/>
<text x="232.10" y="385.00" font-size="5.6" text-anchor="middle" font-weight="normal" fill="#444" >-</text>
<text x="247.40" y="385.00" font-size="5.4" text-anchor="middle" font-weight="normal" fill="#333" >+</text>
<text x="271.35" y="322.20" font-size="6.6" text-anchor="middle" font-weight="normal" fill="#222" >AML29</text>
<clipPath id="k25583251"><rect x="255.8" y="325.1" width="31.1" height="24.399999999999977"/></clipPath>
<g clip-path="url(#k25583251)">
<rect x="255.8" y="325.1" width="31.1" height="24.399999999999977" fill="#d3d3d3"/>
<rect x="257.30" y="337.80" width="13.60" height="3.00" rx="1.50" fill="#000" fill-opacity="1" transform="rotate(0 264.10 339.30)" filter="url(#b1)"/>
<rect x="272.10" y="337.90" width="13.20" height="2.80" rx="1.40" fill="#111" fill-opacity="0.07" transform="rotate(0 278.70 339.30)" filter="url(#b1)"/>
<rect x="255.8" y="325.1" width="31.1" height="24.399999999999977" filter="url(#nz)" opacity="0.10"/>
</g>
<rect x="256.50" y="325.80" width="29.70" height="23.00" fill="none" stroke="#1a1a1a" stroke-width="1.4"/>
<clipPath id="k25583516"><rect x="255.8" y="351.6" width="31.1" height="24.5"/></clipPath>
<g clip-path="url(#k25583516)">
<rect x="255.8" y="351.6" width="31.1" height="24.5" fill="#c9c9c9"/>
<rect x="257.00" y="365.60" width="14.20" height="4.40" rx="2.00" fill="#000" fill-opacity="1" transform="rotate(0 264.10 367.80)" filter="url(#b1)"/>
<rect x="271.90" y="364.40" width="13.60" height="4.40" rx="2.00" fill="#000" fill-opacity="0.95" transform="rotate(0 278.70 366.60)" filter="url(#b1)"/>
<rect x="255.8" y="351.6" width="31.1" height="24.5" filter="url(#nz)" opacity="0.10"/>
</g>
<rect x="256.50" y="352.30" width="29.70" height="23.10" fill="none" stroke="#1a1a1a" stroke-width="1.4"/>
<text x="265.50" y="385.00" font-size="5.6" text-anchor="middle" font-weight="normal" fill="#444" >-</text>
<text x="280.80" y="385.00" font-size="5.4" text-anchor="middle" font-weight="normal" fill="#333" >+</text>
<text x="304.15" y="322.20" font-size="6.6" text-anchor="middle" font-weight="normal" fill="#222" >AML5</text>
<clipPath id="k28863251"><rect x="288.6" y="325.1" width="31.1" height="24.399999999999977"/></clipPath>
<g clip-path="url(#k28863251)">
<linearGradient id="g288325" x1="0" y1="0" x2="0" y2="1"><stop offset="0" stop-color="#8a8a8a"/><stop offset="1" stop-color="#9f9f9f"/></linearGradient>
<rect x="288.6" y="325.1" width="31.1" height="24.399999999999977" fill="url(#g288325)"/>
<rect x="290.10" y="337.80" width="13.60" height="3.00" rx="1.50" fill="#000" fill-opacity="1" transform="rotate(0 296.90 339.30)" filter="url(#b1)"/>
<rect x="304.90" y="337.90" width="13.20" height="2.80" rx="1.40" fill="#111" fill-opacity="0.12" transform="rotate(0 311.50 339.30)" filter="url(#b1)"/>
<rect x="288.6" y="325.1" width="31.1" height="24.399999999999977" filter="url(#nz)" opacity="0.10"/>
</g>
<rect x="289.30" y="325.80" width="29.70" height="23.00" fill="none" stroke="#1a1a1a" stroke-width="1.4"/>
<clipPath id="k28863516"><rect x="288.6" y="351.6" width="31.1" height="24.5"/></clipPath>
<g clip-path="url(#k28863516)">
<rect x="288.6" y="351.6" width="31.1" height="24.5" fill="#c1c1c1"/>
<rect x="289.80" y="363.80" width="14.20" height="3.20" rx="1.60" fill="#000" fill-opacity="1" transform="rotate(0 296.90 365.40)" filter="url(#b1)"/>
<rect x="304.80" y="364.40" width="13.40" height="2.40" rx="1.20" fill="#222" fill-opacity="0.7" transform="rotate(0 311.50 365.60)" filter="url(#b1)"/>
<rect x="288.6" y="351.6" width="31.1" height="24.5" filter="url(#nz)" opacity="0.10"/>
</g>
<rect x="289.30" y="352.30" width="29.70" height="23.10" fill="none" stroke="#1a1a1a" stroke-width="1.4"/>
<text x="298.30" y="385.00" font-size="5.6" text-anchor="middle" font-weight="normal" fill="#444" >-</text>
<text x="313.60" y="385.00" font-size="5.4" text-anchor="middle" font-weight="normal" fill="#333" >+</text>
<text x="336.95" y="322.20" font-size="6.6" text-anchor="middle" font-weight="normal" fill="#222" >AML7</text>
<clipPath id="k32143251"><rect x="321.4" y="325.1" width="31.1" height="24.399999999999977"/></clipPath>
<g clip-path="url(#k32143251)">
<rect x="321.4" y="325.1" width="31.1" height="24.399999999999977" fill="#c5c5c5"/>
<rect x="322.90" y="337.80" width="13.60" height="3.00" rx="1.50" fill="#000" fill-opacity="0.9" transform="rotate(0 329.70 339.30)" filter="url(#b1)"/>
<rect x="337.70" y="337.90" width="13.20" height="2.80" rx="1.40" fill="#111" fill-opacity="0.35" transform="rotate(0 344.30 339.30)" filter="url(#b1)"/>
<rect x="321.4" y="325.1" width="31.1" height="24.399999999999977" filter="url(#nz)" opacity="0.10"/>
</g>
<rect x="322.10" y="325.80" width="29.70" height="23.00" fill="none" stroke="#1a1a1a" stroke-width="1.4"/>
<clipPath id="k32143516"><rect x="321.4" y="351.6" width="31.1" height="24.5"/></clipPath>
<g clip-path="url(#k32143516)">
<rect x="321.4" y="351.6" width="31.1" height="24.5" fill="#bdbdbd"/>
<rect x="322.60" y="364.10" width="14.20" height="3.40" rx="1.70" fill="#000" fill-opacity="1" transform="rotate(0 329.70 365.80)" filter="url(#b1)"/>
<rect x="337.50" y="364.10" width="13.60" height="3.40" rx="1.70" fill="#000" fill-opacity="1" transform="rotate(0 344.30 365.80)" filter="url(#b1)"/>
<rect x="323.20" y="369.30" width="13.00" height="2.60" rx="1.30" fill="#222" fill-opacity="0.3" transform="rotate(0 329.70 370.60)" filter="url(#b1)"/>
<rect x="337.80" y="369.30" width="13.00" height="2.60" rx="1.30" fill="#444" fill-opacity="0.1" transform="rotate(0 344.30 370.60)" filter="url(#b1)"/>
<rect x="321.4" y="351.6" width="31.1" height="24.5" filter="url(#nz)" opacity="0.10"/>
</g>
<rect x="322.10" y="352.30" width="29.70" height="23.10" fill="none" stroke="#1a1a1a" stroke-width="1.4"/>
<text x="331.10" y="385.00" font-size="5.6" text-anchor="middle" font-weight="normal" fill="#444" >-</text>
<text x="346.40" y="385.00" font-size="5.4" text-anchor="middle" font-weight="normal" fill="#333" >+</text>
<text x="369.55" y="322.20" font-size="6.6" text-anchor="middle" font-weight="normal" fill="#222" >AML10</text>
<clipPath id="k35403251"><rect x="354.0" y="325.1" width="31.1" height="24.399999999999977"/></clipPath>
<g clip-path="url(#k35403251)">
<rect x="354.0" y="325.1" width="31.1" height="24.399999999999977" fill="#b5b5b5"/>
<rect x="355.50" y="337.80" width="13.60" height="3.00" rx="1.50" fill="#000" fill-opacity="1" transform="rotate(0 362.30 339.30)" filter="url(#b1)"/>
<rect x="370.30" y="337.90" width="13.20" height="2.80" rx="1.40" fill="#111" fill-opacity="0.5" transform="rotate(0 376.90 339.30)" filter="url(#b1)"/>
<rect x="354.0" y="325.1" width="31.1" height="24.399999999999977" filter="url(#nz)" opacity="0.10"/>
</g>
<rect x="354.70" y="325.80" width="29.70" height="23.00" fill="none" stroke="#1a1a1a" stroke-width="1.4"/>
<clipPath id="k35403516"><rect x="354.0" y="351.6" width="31.1" height="24.5"/></clipPath>
<g clip-path="url(#k35403516)">
<rect x="354.0" y="351.6" width="31.1" height="24.5" fill="#afafaf"/>
<rect x="355.20" y="364.10" width="14.20" height="3.40" rx="1.70" fill="#000" fill-opacity="1" transform="rotate(0 362.30 365.80)" filter="url(#b1)"/>
<rect x="370.10" y="364.10" width="13.60" height="3.40" rx="1.70" fill="#000" fill-opacity="1" transform="rotate(0 376.90 365.80)" filter="url(#b1)"/>
<rect x="355.80" y="369.30" width="13.00" height="2.60" rx="1.30" fill="#222" fill-opacity="0.65" transform="rotate(0 362.30 370.60)" filter="url(#b1)"/>
<rect x="370.40" y="369.30" width="13.00" height="2.60" rx="1.30" fill="#444" fill-opacity="0.35" transform="rotate(0 376.90 370.60)" filter="url(#b1)"/>
<rect x="354.0" y="351.6" width="31.1" height="24.5" filter="url(#nz)" opacity="0.10"/>
</g>
<rect x="354.70" y="352.30" width="29.70" height="23.10" fill="none" stroke="#1a1a1a" stroke-width="1.4"/>
<text x="363.70" y="385.00" font-size="5.6" text-anchor="middle" font-weight="normal" fill="#444" >-</text>
<text x="379.00" y="385.00" font-size="5.4" text-anchor="middle" font-weight="normal" fill="#333" >+</text>
<text x="402.95" y="322.20" font-size="6.6" text-anchor="middle" font-weight="normal" fill="#222" >AML1</text>
<clipPath id="k38743251"><rect x="387.4" y="325.1" width="31.1" height="24.399999999999977"/></clipPath>
<g clip-path="url(#k38743251)">
<rect x="387.4" y="325.1" width="31.1" height="24.399999999999977" fill="#bfbfbf"/>
<rect x="388.90" y="336.90" width="13.60" height="3.00" rx="1.50" fill="#000" fill-opacity="0.9" transform="rotate(0 395.70 338.40)" filter="url(#b1)"/>
<rect x="403.70" y="336.20" width="13.20" height="2.80" rx="1.40" fill="#111" fill-opacity="0.6" transform="rotate(0 410.30 337.60)" filter="url(#b1)"/>
<rect x="387.4" y="325.1" width="31.1" height="24.399999999999977" filter="url(#nz)" opacity="0.10"/>
</g>
<rect x="388.10" y="325.80" width="29.70" height="23.00" fill="none" stroke="#1a1a1a" stroke-width="1.4"/>
<clipPath id="k38743516"><rect x="387.4" y="351.6" width="31.1" height="24.5"/></clipPath>
<g clip-path="url(#k38743516)">
<rect x="387.4" y="351.6" width="31.1" height="24.5" fill="#b9b9b9"/>
<rect x="388.60" y="364.10" width="14.20" height="3.40" rx="1.70" fill="#000" fill-opacity="0.95" transform="rotate(0 395.70 365.80)" filter="url(#b1)"/>
<rect x="403.50" y="364.10" width="13.60" height="3.40" rx="1.70" fill="#000" fill-opacity="0.95" transform="rotate(0 410.30 365.80)" filter="url(#b1)"/>
<rect x="389.20" y="369.30" width="13.00" height="2.60" rx="1.30" fill="#222" fill-opacity="0.65" transform="rotate(0 395.70 370.60)" filter="url(#b1)"/>
<rect x="403.80" y="369.30" width="13.00" height="2.60" rx="1.30" fill="#444" fill-opacity="0.35" transform="rotate(0 410.30 370.60)" filter="url(#b1)"/>
<rect x="387.4" y="351.6" width="31.1" height="24.5" filter="url(#nz)" opacity="0.10"/>
</g>
<rect x="388.10" y="352.30" width="29.70" height="23.10" fill="none" stroke="#1a1a1a" stroke-width="1.4"/>
<text x="397.10" y="385.00" font-size="5.6" text-anchor="middle" font-weight="normal" fill="#444" >-</text>
<text x="412.40" y="385.00" font-size="5.4" text-anchor="middle" font-weight="normal" fill="#333" >+</text>
<text x="435.55" y="322.20" font-size="6.6" text-anchor="middle" font-weight="normal" fill="#222" >AML30</text>
<clipPath id="k42003251"><rect x="420.0" y="325.1" width="31.1" height="24.399999999999977"/></clipPath>
<g clip-path="url(#k42003251)">
<linearGradient id="g420325" x1="0" y1="0" x2="0" y2="1"><stop offset="0" stop-color="#9b9b9b"/><stop offset="1" stop-color="#adadad"/></linearGradient>
<rect x="420.0" y="325.1" width="31.1" height="24.399999999999977" fill="url(#g420325)"/>
<rect x="421.50" y="337.80" width="13.60" height="3.00" rx="1.50" fill="#000" fill-opacity="0.8" transform="rotate(0 428.30 339.30)" filter="url(#b1)"/>
<rect x="436.30" y="337.90" width="13.20" height="2.80" rx="1.40" fill="#111" fill-opacity="0.65" transform="rotate(0 442.90 339.30)" filter="url(#b1)"/>
<rect x="420.0" y="325.1" width="31.1" height="24.399999999999977" filter="url(#nz)" opacity="0.10"/>
</g>
<rect x="420.70" y="325.80" width="29.70" height="23.00" fill="none" stroke="#1a1a1a" stroke-width="1.4"/>
<clipPath id="k42003516"><rect x="420.0" y="351.6" width="31.1" height="24.5"/></clipPath>
<g clip-path="url(#k42003516)">
<rect x="420.0" y="351.6" width="31.1" height="24.5" fill="#b7b7b7"/>
<rect x="421.20" y="363.60" width="14.20" height="4.40" rx="2.00" fill="#000" fill-opacity="1" transform="rotate(0 428.30 365.80)" filter="url(#b1)"/>
<rect x="436.10" y="363.60" width="13.60" height="4.40" rx="2.00" fill="#000" fill-opacity="1" transform="rotate(0 442.90 365.80)" filter="url(#b1)"/>
<rect x="420.0" y="351.6" width="31.1" height="24.5" filter="url(#nz)" opacity="0.10"/>
</g>
<rect x="420.70" y="352.30" width="29.70" height="23.10" fill="none" stroke="#1a1a1a" stroke-width="1.4"/>
<text x="429.70" y="385.00" font-size="5.6" text-anchor="middle" font-weight="normal" fill="#444" >-</text>
<text x="445.00" y="385.00" font-size="5.4" text-anchor="middle" font-weight="normal" fill="#333" >+</text>
<text x="467.95" y="322.20" font-size="6.6" text-anchor="middle" font-weight="normal" fill="#222" >AML8</text>
<clipPath id="k45243251"><rect x="452.4" y="325.1" width="31.1" height="24.399999999999977"/></clipPath>
<g clip-path="url(#k45243251)">
<rect x="452.4" y="325.1" width="31.1" height="24.399999999999977" fill="#c1c1c1"/>
<rect x="453.90" y="336.90" width="13.60" height="3.00" rx="1.50" fill="#000" fill-opacity="1" transform="rotate(0 460.70 338.40)" filter="url(#b1)"/>
<rect x="468.70" y="337.00" width="13.20" height="2.80" rx="1.40" fill="#111" fill-opacity="1" transform="rotate(0 475.30 338.40)" filter="url(#b1)"/>
<rect x="452.4" y="325.1" width="31.1" height="24.399999999999977" filter="url(#nz)" opacity="0.10"/>
</g>
<rect x="453.10" y="325.80" width="29.70" height="23.00" fill="none" stroke="#1a1a1a" stroke-width="1.4"/>
<clipPath id="k45243516"><rect x="452.4" y="351.6" width="31.1" height="24.5"/></clipPath>
<g clip-path="url(#k45243516)">
<rect x="452.4" y="351.6" width="31.1" height="24.5" fill="#bdbdbd"/>
<rect x="453.50" y="361.70" width="14.40" height="4.60" rx="2.00" fill="#000" fill-opacity="1" transform="rotate(0 460.70 364.00)" filter="url(#b1)"/>
<rect x="468.40" y="363.10" width="13.80" height="4.40" rx="2.00" fill="#000" fill-opacity="1" transform="rotate(0 475.30 365.30)" filter="url(#b1)"/>
<rect x="454.20" y="369.00" width="13.00" height="2.40" rx="1.20" fill="#666" fill-opacity="0.35" transform="rotate(0 460.70 370.20)" filter="url(#b1)"/>
<rect x="468.80" y="369.40" width="13.00" height="2.40" rx="1.20" fill="#666" fill-opacity="0.35" transform="rotate(0 475.30 370.60)" filter="url(#b1)"/>
<rect x="452.4" y="351.6" width="31.1" height="24.5" filter="url(#nz)" opacity="0.10"/>
</g>
<rect x="453.10" y="352.30" width="29.70" height="23.10" fill="none" stroke="#1a1a1a" stroke-width="1.4"/>
<text x="462.10" y="385.00" font-size="5.6" text-anchor="middle" font-weight="normal" fill="#444" >-</text>
<text x="477.40" y="385.00" font-size="5.4" text-anchor="middle" font-weight="normal" fill="#333" >+</text>
<text x="198.30" y="385.20" font-size="6.5" text-anchor="start" font-weight="normal" fill="#222" >MP-A08</text>
<line x1="486" y1="338.7" x2="493" y2="338.7" stroke="#000" stroke-width="1.1"/>
<path d="M484.20,338.70 L490.40,336.10 L489.60,338.70 L490.40,341.30Z" fill="#000"/>
<text x="495.00" y="341.20" font-size="6.7" text-anchor="start" font-weight="normal" fill="#222" >MCL1</text>
<line x1="486" y1="365.5" x2="493" y2="365.5" stroke="#000" stroke-width="1.1"/>
<path d="M484.20,365.50 L490.40,362.90 L489.60,365.50 L490.40,368.10Z" fill="#000"/>
<text x="495.00" y="368.00" font-size="6.7" text-anchor="start" font-weight="normal" fill="#222" >ACTB</text>
</svg>
<div id="frame"></div><div id="frame2"></div>
</body></html>
